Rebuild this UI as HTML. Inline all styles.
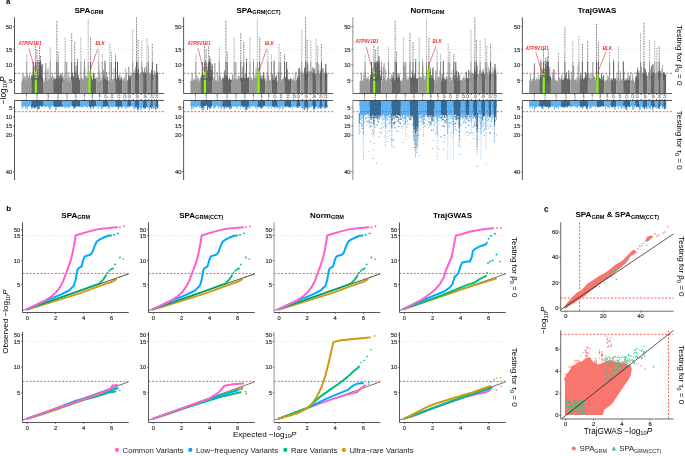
<!DOCTYPE html>
<html><head><meta charset="utf-8"><style>
html,body{margin:0;padding:0;background:#fff;}
svg{display:block;will-change:transform;font-family:"Liberation Sans",sans-serif;}
</style></head><body>
<svg width="685" height="456" viewBox="0 0 685 456">
<rect width="685" height="456" fill="#fff"/>
<text x="6" y="4.1" font-size="7.8" text-anchor="start" font-weight="bold" fill="#000">a</text>
<text x="6.2" y="211.3" font-size="8" text-anchor="start" font-weight="bold" fill="#000">b</text>
<text x="543.9" y="211.6" font-size="8.2" text-anchor="start" font-weight="bold" fill="#000">c</text>
<polygon points="21.3,93.3 21.3,82.14 21.93,80.98 22.55,79.8 23.18,80.04 23.8,79.94 24.43,81.06 25.05,79.69 25.68,80.69 26.3,82.38 26.93,80.98 27.55,82.5 28.18,79.19 28.8,79.14 29.43,81.43 30.05,81.53 30.68,79.81 31.3,81.92 31.3,93.3" fill="#999999"/>
<polygon points="21.3,100.3 21.3,106.29 21.93,106.11 22.55,106.16 23.18,105.92 23.8,105.91 24.43,105.99 25.05,105.59 25.68,106.07 26.3,106.24 26.93,105.6 27.55,106.14 28.18,106.1 28.8,105.56 29.43,105.5 30.05,106 30.68,105.65 31.3,105.74 31.3,100.3" fill="#5cb2f5"/>
<polygon points="31.3,93.3 31.3,76.14 31.92,78.41 32.53,78.86 33.15,78.86 33.76,78.74 34.38,76.37 34.99,76.16 35.61,77.79 36.23,79.01 36.84,79.84 37.46,79.58 38.07,78.76 38.69,77.47 39.31,77.53 39.92,76.68 40.54,76.8 41.15,78.56 41.77,77.35 42.38,78.21 43,77.15 43,93.3" fill="#666666"/>
<polygon points="31.3,100.3 31.3,106.13 31.92,105.8 32.53,106.27 33.15,105.55 33.76,106.22 34.38,106.22 34.99,105.56 35.61,106.29 36.23,106.17 36.84,106.29 37.46,105.71 38.07,106.13 38.69,106.17 39.31,105.77 39.92,105.49 40.54,105.47 41.15,105.92 41.77,105.96 42.38,105.57 43,106.03 43,100.3" fill="#326a98"/>
<polygon points="43,93.3 43,79.13 43.6,81.71 44.2,82.58 44.8,81.69 45.4,79.48 46,82.02 46.6,80.21 47.2,82.34 47.8,81.36 48.4,82.05 49,80.38 49.6,81.3 50.2,79.79 50.8,80.74 51.4,81.17 52,82.6 52.6,79.54 53.2,82.54 53.2,93.3" fill="#999999"/>
<polygon points="43,100.3 43,105.94 43.6,106.14 44.2,106.09 44.8,105.54 45.4,106.18 46,106.03 46.6,106.34 47.2,105.89 47.8,105.71 48.4,106.16 49,105.96 49.6,106.25 50.2,105.49 50.8,106.08 51.4,106.29 52,105.62 52.6,105.54 53.2,105.9 53.2,100.3" fill="#5cb2f5"/>
<polygon points="53.2,93.3 53.2,81 53.82,79.3 54.44,78.52 55.06,81.32 55.68,78.64 56.3,81.36 56.92,79.83 57.54,80.01 58.16,81.36 58.78,81.16 59.4,78.93 60.02,80.44 60.64,79.49 61.26,80.83 61.88,79.13 62.5,77.94 62.5,93.3" fill="#666666"/>
<polygon points="53.2,100.3 53.2,106.2 53.82,106.23 54.44,106.14 55.06,105.98 55.68,105.93 56.3,106.31 56.92,105.72 57.54,106.04 58.16,106.31 58.78,105.7 59.4,105.6 60.02,105.74 60.64,105.86 61.26,105.92 61.88,105.67 62.5,105.68 62.5,100.3" fill="#326a98"/>
<polygon points="62.5,93.3 62.5,80.97 63.1,80.52 63.7,80.63 64.3,80.56 64.9,82.51 65.5,79.76 66.1,79.28 66.7,82.42 67.3,79.9 67.9,80.55 68.5,79.91 69.1,82.62 69.7,82.55 70.3,80.64 70.9,80.61 71.5,82.29 71.5,93.3" fill="#999999"/>
<polygon points="62.5,100.3 62.5,105.98 63.1,105.74 63.7,105.52 64.3,106.03 64.9,105.51 65.5,105.76 66.1,106.37 66.7,106.21 67.3,106.1 67.9,105.99 68.5,106.02 69.1,106.14 69.7,106.26 70.3,105.54 70.9,106.27 71.5,106.35 71.5,100.3" fill="#5cb2f5"/>
<polygon points="71.5,93.3 71.5,80.69 72.11,77.51 72.71,80.99 73.32,78.03 73.93,80.53 74.54,79.52 75.14,79.46 75.75,79.53 76.36,78.92 76.96,78.59 77.57,78.59 78.18,80.88 78.79,79.74 79.39,80.41 80,77.5 80,93.3" fill="#666666"/>
<polygon points="71.5,100.3 71.5,106.21 72.11,106.29 72.71,106.19 73.32,105.46 73.93,106.04 74.54,105.54 75.14,106.27 75.75,106.21 76.36,106.01 76.96,105.85 77.57,106.08 78.18,105.73 78.79,106.08 79.39,106.33 80,105.49 80,100.3" fill="#326a98"/>
<polygon points="80,93.3 80,78.87 80.61,80.41 81.23,77.82 81.84,79.91 82.46,80 83.07,79.93 83.69,79.42 84.3,79.44 84.91,79.61 85.53,79.57 86.14,80.4 86.76,80.88 87.37,77.88 87.99,78 88.6,78.34 88.6,93.3" fill="#999999"/>
<polygon points="80,100.3 80,105.88 80.61,106.2 81.23,105.72 81.84,105.7 82.46,105.5 83.07,106.34 83.69,106.19 84.3,105.94 84.91,105.52 85.53,106.32 86.14,106.01 86.76,106.1 87.37,106.06 87.99,105.96 88.6,105.83 88.6,100.3" fill="#5cb2f5"/>
<polygon points="88.6,93.3 88.6,77.53 89.24,78.06 89.88,78.88 90.52,78.05 91.17,79.36 91.81,80.6 92.45,79.06 93.09,80.38 93.73,79.97 94.38,80.8 95.02,79.16 95.66,78.23 96.3,77.38 96.3,93.3" fill="#666666"/>
<polygon points="88.6,100.3 88.6,106.06 89.24,105.83 89.88,105.48 90.52,105.73 91.17,105.69 91.81,106.37 92.45,105.5 93.09,106.16 93.73,105.58 94.38,105.76 95.02,106.1 95.66,105.97 96.3,105.48 96.3,100.3" fill="#326a98"/>
<polygon points="96.3,93.3 96.3,79.51 96.94,82.57 97.58,79.17 98.22,82.5 98.86,81.45 99.5,81.84 100.14,81.64 100.78,79.38 101.42,81.89 102.06,80.5 102.7,80.43 102.7,93.3" fill="#999999"/>
<polygon points="96.3,100.3 96.3,106.31 96.94,105.98 97.58,105.84 98.22,106.26 98.86,106.08 99.5,105.51 100.14,105.7 100.78,106.01 101.42,105.66 102.06,106.36 102.7,105.5 102.7,100.3" fill="#5cb2f5"/>
<polygon points="102.7,93.3 102.7,79.41 103.36,78.94 104.01,80.14 104.67,79.88 105.32,80.09 105.98,79.67 106.63,80.54 107.29,79.14 107.94,81.98 108.6,80.26 108.6,93.3" fill="#666666"/>
<polygon points="102.7,100.3 102.7,106.36 103.36,105.86 104.01,105.87 104.67,106.36 105.32,106.18 105.98,106.07 106.63,106.08 107.29,106.25 107.94,105.74 108.6,105.77 108.6,100.3" fill="#326a98"/>
<polygon points="108.6,93.3 108.6,79.94 109.21,80.66 109.82,79.88 110.43,79.8 111.04,82.47 111.65,82.26 112.25,81.85 112.86,81.88 113.47,82.26 114.08,81.59 114.69,81.05 115.3,81.05 115.3,93.3" fill="#999999"/>
<polygon points="108.6,100.3 108.6,106.04 109.21,105.74 109.82,106.3 110.43,105.51 111.04,106 111.65,105.7 112.25,106.32 112.86,105.62 113.47,106.12 114.08,105.46 114.69,105.68 115.3,105.79 115.3,100.3" fill="#5cb2f5"/>
<polygon points="115.3,93.3 115.3,79.33 115.95,79.43 116.59,80.27 117.24,82.17 117.88,80.71 118.53,80.79 119.17,81.05 119.82,79.16 120.46,80.69 121.11,79.44 121.75,79.35 122.4,79.74 122.4,93.3" fill="#666666"/>
<polygon points="115.3,100.3 115.3,105.64 115.95,106.22 116.59,105.81 117.24,106.12 117.88,106.32 118.53,105.54 119.17,105.65 119.82,105.63 120.46,105.64 121.11,106.14 121.75,105.72 122.4,105.95 122.4,100.3" fill="#326a98"/>
<polygon points="122.4,93.3 122.4,81.46 123.01,79.32 123.62,79.23 124.24,81.94 124.85,80.64 125.46,81.4 126.08,79.99 126.69,80.88 127.3,80.25 127.3,93.3" fill="#999999"/>
<polygon points="122.4,100.3 122.4,106.11 123.01,105.75 123.62,105.63 124.24,106.08 124.85,105.49 125.46,105.48 126.08,106.37 126.69,105.95 127.3,105.81 127.3,100.3" fill="#5cb2f5"/>
<polygon points="127.3,93.3 127.3,79.86 127.95,80.77 128.6,78.21 129.25,77.83 129.9,79.6 130.55,77.43 131.2,77.39 131.2,93.3" fill="#666666"/>
<polygon points="127.3,100.3 127.3,105.9 127.95,105.71 128.6,105.59 129.25,106.15 129.9,105.8 130.55,105.84 131.2,105.64 131.2,100.3" fill="#326a98"/>
<polygon points="131.2,93.3 131.2,76.09 131.83,75.93 132.47,74.49 133.1,73.24 133.73,76.13 134.37,73.19 135,75.19 135,93.3" fill="#999999"/>
<polygon points="131.2,100.3 131.2,105.78 131.83,105.88 132.47,105.62 133.1,106.05 133.73,105.97 134.37,105.94 135,106.13 135,100.3" fill="#5cb2f5"/>
<polygon points="135,93.3 135,73.97 135.7,73.08 136.4,73.37 137.1,73 137.8,73.65 138.5,72.25 139.2,73.32 139.2,93.3" fill="#666666"/>
<polygon points="135,100.3 135,105.94 135.7,106.18 136.4,105.55 137.1,105.87 137.8,105.93 138.5,105.75 139.2,105.98 139.2,100.3" fill="#326a98"/>
<polygon points="139.2,93.3 139.2,73.5 139.85,75.33 140.5,73.22 141.15,73.69 141.8,74.76 142.45,73.54 143.1,75.07 143.1,93.3" fill="#999999"/>
<polygon points="139.2,100.3 139.2,105.74 139.85,106.22 140.5,106.09 141.15,105.58 141.8,105.83 142.45,105.52 143.1,105.77 143.1,100.3" fill="#5cb2f5"/>
<polygon points="143.1,93.3 143.1,72.47 143.73,72.77 144.37,72.98 145,74.03 145.63,75.24 146.27,72.2 146.9,75.54 146.9,93.3" fill="#666666"/>
<polygon points="143.1,100.3 143.1,106.21 143.73,105.74 144.37,105.65 145,106.3 145.63,105.58 146.27,105.83 146.9,105.87 146.9,100.3" fill="#326a98"/>
<polygon points="146.9,93.3 146.9,72.88 147.6,75.58 148.3,73.28 149,74.16 149.7,75.12 150.4,75.07 150.4,93.3" fill="#999999"/>
<polygon points="146.9,100.3 146.9,106.06 147.6,106.16 148.3,105.75 149,105.65 149.7,106.22 150.4,105.68 150.4,100.3" fill="#5cb2f5"/>
<polygon points="150.4,93.3 150.4,73.74 151.03,73.09 151.65,72.85 152.28,75.69 152.9,75.4 152.9,93.3" fill="#666666"/>
<polygon points="150.4,100.3 150.4,106.27 151.03,105.98 151.65,105.54 152.28,105.96 152.9,106.09 152.9,100.3" fill="#326a98"/>
<polygon points="152.9,93.3 152.9,76.33 153.5,74.52 154.1,74.98 154.7,73.3 155.3,76.07 155.3,93.3" fill="#999999"/>
<polygon points="152.9,100.3 152.9,106.03 153.5,106.31 154.1,106.03 154.7,106.33 155.3,105.9 155.3,100.3" fill="#5cb2f5"/>
<polygon points="155.3,93.3 155.3,72.94 156.03,75.19 156.75,75.43 157.47,74.8 158.2,76.42 158.2,93.3" fill="#666666"/>
<polygon points="155.3,100.3 155.3,106.2 156.03,105.67 156.75,106.17 157.47,105.56 158.2,105.6 158.2,100.3" fill="#326a98"/>
<path d="M23.3 80.8V83.0M24.9 78.5V83.0M30.6 80.7V83.0M30.5 79.0V83.0M30.0 76.4V83.0M23.2 78.3V83.0M22.8 81.4V83.0M25.3 77.0V83.0M26.9 80.8V83.0M29.4 74.2V83.0M23.9 79.7V83.0M27.6 74.5V83.0M22.9 79.0V83.0M30.6 78.7V83.0M28.3 77.0V83.0M26.4 80.4V83.0M27.1 79.2V83.0M24.9 75.7V83.0M25.0 79.5V83.0M28.7 76.5V83.0M29.9 78.3V83.0M24.0 75.9V83.0M48.1 68.4V83.0M50.8 80.1V83.0M52.1 80.6V83.0M48.9 78.9V83.0M50.2 80.4V83.0M47.1 80.3V83.0M52.0 77.5V83.0M46.6 77.0V83.0M49.2 80.6V83.0M48.1 81.1V83.0M45.4 81.2V83.0M44.2 78.6V83.0M51.2 76.1V83.0M45.5 72.7V83.0M46.5 78.0V83.0M49.0 79.5V83.0M49.9 74.9V83.0M49.9 79.3V83.0M51.5 77.4V83.0M46.9 70.0V83.0M47.2 81.3V83.0M52.5 73.0V83.0M69.3 81.1V83.0M70.2 76.7V83.0M68.8 75.7V83.0M65.3 78.6V83.0M63.1 77.3V83.0M64.4 81.3V83.0M69.1 81.2V83.0M68.2 71.9V83.0M67.3 79.1V83.0M69.1 77.4V83.0M67.0 81.3V83.0M71.0 77.6V83.0M66.8 78.2V83.0M65.0 80.7V83.0M63.2 79.9V83.0M67.5 81.1V83.0M64.4 80.0V83.0M62.9 76.5V83.0M64.2 74.4V83.0M84.2 70.1V81.4M81.4 79.7V81.4M87.6 77.6V81.4M84.6 77.7V81.4M86.0 76.7V81.4M86.2 77.7V81.4M86.5 76.6V81.4M86.9 75.5V81.4M81.4 78.1V81.4M85.6 76.2V81.4M83.9 77.2V81.4M87.3 79.1V81.4M82.5 78.8V81.4M81.6 77.2V81.4M85.0 67.1V81.4M84.5 79.1V81.4M81.2 77.2V81.4M81.5 79.5V81.4M97.0 77.1V83.0M102.1 79.3V83.0M97.8 80.4V83.0M99.9 71.6V83.0M100.9 80.4V83.0M97.5 77.5V83.0M99.5 80.3V83.0M101.3 80.3V83.0M101.0 77.1V83.0M101.1 80.6V83.0M99.5 74.9V83.0M98.3 81.2V83.0M97.0 78.5V83.0M99.4 77.7V83.0M110.0 79.0V83.0M112.7 80.5V83.0M114.8 78.2V83.0M114.6 79.5V83.0M113.5 78.4V83.0M114.3 80.3V83.0M111.4 74.0V83.0M110.5 79.8V83.0M110.5 81.3V83.0M114.6 81.4V83.0M112.3 79.1V83.0M114.1 68.3V83.0M113.2 79.4V83.0M114.3 80.8V83.0M125.7 68.2V83.0M124.2 81.4V83.0M124.0 81.4V83.0M123.1 81.3V83.0M123.8 78.8V83.0M123.3 79.8V83.0M126.0 79.0V83.0M124.3 77.6V83.0M126.5 74.1V83.0M124.5 77.4V83.0M134.2 74.1V76.8M132.1 74.5V76.8M134.3 70.1V76.8M131.8 73.3V76.8M133.6 73.1V76.8M133.3 72.3V76.8M132.0 74.9V76.8M131.7 75.1V76.8M142.3 70.1V76.8M141.6 72.6V76.8M141.1 72.1V76.8M141.2 73.7V76.8M140.3 72.8V76.8M141.3 73.4V76.8M139.6 75.1V76.8M142.4 66.9V76.8M148.9 73.7V76.8M150.0 72.3V76.8M147.4 74.7V76.8M149.7 75.0V76.8M147.6 73.6V76.8M149.8 73.9V76.8M148.3 70.7V76.8M153.5 74.4V76.8M154.1 73.7V76.8M154.2 70.9V76.8M154.7 72.4V76.8M154.5 70.4V76.8" stroke="#999999" stroke-width="0.8" fill="none"/>
<path d="M27.4 104.9V107.0M28.6 104.9V106.7M24.7 104.9V105.8M22.7 104.9V106.1M26.5 104.9V107.2M23.6 104.9V106.4M30.4 104.9V106.4M28.3 104.9V106.9M27.8 104.9V106.5M26.7 104.9V107.1M23.1 104.9V107.6M29.8 104.9V105.9M23.5 104.9V106.1M22.5 104.9V106.0M27.6 104.9V106.0M22.2 104.9V109.0M25.4 104.9V106.7M26.1 104.9V106.3M25.9 104.9V106.1M27.0 104.9V106.1M23.0 104.9V106.1M25.5 104.9V108.7M27.2 104.9V110.2M25.4 104.9V106.2M28.3 104.9V106.1M49.6 104.9V106.9M48.4 104.9V106.3M50.1 104.9V110.4M48.2 104.9V106.4M52.6 104.9V106.0M48.7 104.9V107.8M50.9 104.9V107.3M49.8 104.9V106.5M52.6 104.9V105.8M47.4 104.9V106.5M50.2 104.9V106.2M45.2 104.9V106.5M49.4 104.9V106.6M51.7 104.9V106.5M45.3 104.9V106.9M47.0 104.9V105.8M47.2 104.9V105.9M49.4 104.9V108.4M50.3 104.9V109.3M44.7 104.9V107.8M50.6 104.9V106.1M47.8 104.9V106.0M46.3 104.9V106.6M47.0 104.9V106.4M50.1 104.9V107.1M67.7 104.9V106.3M63.2 104.9V106.3M63.1 104.9V107.1M67.8 104.9V107.3M70.1 104.9V106.2M69.1 104.9V107.3M67.5 104.9V105.9M70.1 104.9V106.7M66.7 104.9V107.9M63.8 104.9V105.9M68.4 104.9V107.2M67.2 104.9V106.7M69.3 104.9V107.7M68.2 104.9V107.3M67.1 104.9V106.0M69.5 104.9V105.9M64.2 104.9V106.7M65.9 104.9V108.2M65.3 104.9V106.6M64.4 104.9V107.9M65.8 104.9V107.2M69.0 104.9V106.5M86.4 104.9V105.9M82.5 104.9V106.7M84.0 104.9V106.6M84.8 104.9V105.9M81.7 104.9V105.8M85.6 104.9V106.9M80.5 104.9V106.1M82.9 104.9V107.6M86.3 104.9V106.0M84.0 104.9V106.8M86.6 104.9V106.0M81.9 104.9V107.4M85.9 104.9V106.2M82.3 104.9V106.5M80.6 104.9V106.9M86.6 104.9V106.1M87.3 104.9V107.9M80.7 104.9V107.4M86.5 104.9V106.8M82.1 104.9V106.5M87.9 104.9V106.8M101.8 104.9V108.8M98.8 104.9V106.3M99.9 104.9V106.1M102.4 104.9V107.0M99.6 104.9V106.2M100.0 104.9V106.8M100.8 104.9V107.2M100.8 104.9V105.9M99.4 104.9V106.4M101.2 104.9V106.1M98.4 104.9V106.2M98.4 104.9V108.9M101.7 104.9V110.0M98.6 104.9V106.5M96.9 104.9V106.9M99.2 104.9V106.3M112.8 104.9V107.5M111.7 104.9V106.0M110.9 104.9V106.0M114.1 104.9V106.4M111.7 104.9V107.2M112.8 104.9V106.6M111.4 104.9V106.8M109.1 104.9V107.2M110.6 104.9V106.2M109.3 104.9V109.5M111.6 104.9V105.9M114.9 104.9V107.6M113.9 104.9V106.0M110.2 104.9V107.3M112.3 104.9V107.3M113.2 104.9V107.0M124.8 104.9V106.1M123.4 104.9V106.4M125.9 104.9V108.0M122.9 104.9V106.3M126.0 104.9V106.6M126.5 104.9V106.4M125.6 104.9V108.0M124.9 104.9V106.0M122.9 104.9V106.0M125.2 104.9V109.1M123.5 104.9V106.4M122.9 104.9V106.2M134.7 104.9V106.9M134.5 104.9V107.1M133.6 104.9V107.3M134.5 104.9V109.7M132.0 104.9V106.8M133.2 104.9V107.3M133.8 104.9V108.0M134.1 104.9V108.1M133.6 104.9V106.8M141.5 104.9V108.2M142.3 104.9V107.8M142.7 104.9V107.3M141.4 104.9V108.8M140.4 104.9V110.4M139.9 104.9V107.9M141.2 104.9V108.5M140.9 104.9V107.2M141.2 104.9V106.8M149.3 104.9V108.6M148.1 104.9V107.6M147.9 104.9V107.8M147.4 104.9V107.2M148.9 104.9V108.0M148.9 104.9V107.7M148.9 104.9V106.8M149.5 104.9V110.4M153.6 104.9V108.9M153.9 104.9V107.3M154.2 104.9V107.9M154.1 104.9V108.2M154.0 104.9V108.7M153.6 104.9V107.0" stroke="#5cb2f5" stroke-width="0.8" fill="none"/>
<path d="M33.7 67.5V80.2M31.9 75.8V80.2M35.5 73.8V80.2M33.3 72.1V80.2M31.7 74.7V80.2M39.4 76.5V80.2M33.6 77.2V80.2M36.6 77.9V80.2M33.5 73.2V80.2M37.7 77.7V80.2M38.5 75.7V80.2M33.2 76.0V80.2M38.1 78.3V80.2M35.0 72.7V80.2M38.0 77.9V80.2M36.0 76.8V80.2M39.4 72.8V80.2M32.7 78.5V80.2M36.5 78.6V80.2M33.4 78.3V80.2M32.7 75.7V80.2M32.7 76.1V80.2M42.2 78.2V80.2M40.0 76.0V80.2M33.6 69.8V80.2M60.0 78.8V81.7M61.7 78.9V81.7M56.0 78.6V81.7M62.0 78.7V81.7M56.1 77.9V81.7M59.0 76.0V81.7M59.6 76.9V81.7M57.1 78.5V81.7M61.9 78.2V81.7M60.1 78.9V81.7M53.7 78.7V81.7M58.0 78.7V81.7M55.4 79.7V81.7M54.0 76.6V81.7M58.1 75.2V81.7M60.9 76.0V81.7M60.4 73.3V81.7M61.4 75.1V81.7M61.2 78.9V81.7M62.1 73.6V81.7M76.1 66.3V81.4M73.5 76.4V81.4M75.9 78.7V81.4M73.4 77.1V81.4M78.7 77.9V81.4M75.9 71.3V81.4M73.9 78.6V81.4M78.7 79.6V81.4M72.2 76.7V81.4M75.6 72.8V81.4M76.3 78.9V81.4M77.0 78.1V81.4M76.7 79.2V81.4M72.4 72.7V81.4M78.4 79.4V81.4M72.7 74.7V81.4M77.4 78.1V81.4M78.4 74.8V81.4M94.2 76.1V81.4M94.3 79.1V81.4M93.2 72.7V81.4M93.5 78.4V81.4M94.0 73.5V81.4M91.9 79.1V81.4M91.4 76.0V81.4M90.4 79.2V81.4M95.6 79.7V81.4M89.7 75.0V81.4M93.6 73.6V81.4M95.4 79.3V81.4M94.1 78.9V81.4M93.6 79.7V81.4M94.3 79.2V81.4M93.5 78.1V81.4M105.6 80.3V83.0M106.6 81.3V83.0M107.7 76.7V83.0M103.9 75.0V83.0M104.9 77.6V83.0M103.3 76.5V83.0M106.9 79.9V83.0M105.0 79.4V83.0M103.7 69.7V83.0M105.7 78.6V83.0M106.0 80.9V83.0M106.7 72.0V83.0M116.2 78.6V83.0M117.9 77.5V83.0M116.4 81.4V83.0M120.1 78.3V83.0M119.8 81.1V83.0M119.8 74.8V83.0M121.1 79.1V83.0M117.9 74.9V83.0M121.6 76.8V83.0M118.6 81.1V83.0M118.3 77.3V83.0M117.1 80.1V83.0M117.8 76.9V83.0M117.7 79.0V83.0M117.4 72.8V83.0M130.3 76.7V81.1M128.6 75.0V81.1M128.8 66.8V81.1M130.5 78.6V81.1M130.4 79.3V81.1M128.6 78.2V81.1M130.5 75.8V81.1M129.8 75.5V81.1M138.6 68.6V76.1M135.7 67.1V76.1M135.9 71.5V76.1M138.4 73.6V76.1M137.6 72.2V76.1M138.2 69.9V76.1M136.1 74.1V76.1M138.1 74.2V76.1M138.4 74.6V76.1M146.0 71.6V76.1M144.6 67.6V76.1M145.4 74.5V76.1M146.3 66.1V76.1M145.5 73.8V76.1M144.3 73.4V76.1M144.1 73.0V76.1M143.8 71.7V76.1M152.3 75.2V76.8M151.5 74.3V76.8M151.5 73.9V76.8M151.5 69.8V76.8M152.0 71.4V76.8M156.1 74.3V76.8M157.7 73.1V76.8M156.8 75.0V76.8M156.7 72.6V76.8M156.9 74.9V76.8M157.5 71.8V76.8" stroke="#666666" stroke-width="0.8" fill="none"/>
<path d="M32.2 104.9V106.5M37.3 104.9V106.1M32.1 104.9V108.4M41.1 104.9V106.8M31.9 104.9V106.6M42.3 104.9V107.4M39.2 104.9V105.9M38.0 104.9V106.1M42.6 104.9V105.8M34.1 104.9V108.1M32.9 104.9V106.2M35.0 104.9V108.2M39.3 104.9V108.8M33.7 104.9V105.9M35.4 104.9V107.4M38.5 104.9V108.8M39.5 104.9V105.9M35.1 104.9V106.1M34.6 104.9V107.0M36.5 104.9V107.4M31.8 104.9V108.4M33.4 104.9V107.3M41.0 104.9V105.9M37.6 104.9V109.9M31.7 104.9V106.6M36.3 104.9V106.3M33.8 104.9V106.0M34.6 104.9V106.1M34.9 104.9V108.4M54.8 104.9V106.5M54.7 104.9V106.3M55.0 104.9V106.9M58.9 104.9V106.1M62.2 104.9V106.2M61.4 104.9V106.2M58.4 104.9V106.8M58.5 104.9V106.3M60.4 104.9V106.9M58.4 104.9V106.5M56.0 104.9V106.4M59.9 104.9V107.2M62.2 104.9V107.2M62.1 104.9V106.3M55.9 104.9V110.4M57.2 104.9V106.8M61.1 104.9V106.0M54.5 104.9V106.5M55.2 104.9V105.9M59.7 104.9V106.7M57.5 104.9V106.9M56.2 104.9V106.4M56.4 104.9V107.0M74.9 104.9V107.6M73.2 104.9V106.3M78.3 104.9V106.8M73.9 104.9V106.4M74.7 104.9V106.6M79.6 104.9V106.1M74.4 104.9V108.2M75.7 104.9V107.0M78.7 104.9V105.9M73.2 104.9V106.0M73.2 104.9V105.9M73.7 104.9V108.5M78.9 104.9V107.1M75.9 104.9V107.3M79.4 104.9V106.2M77.6 104.9V106.0M74.8 104.9V106.6M76.8 104.9V106.1M75.0 104.9V106.0M74.7 104.9V107.6M73.7 104.9V106.3M90.9 104.9V106.2M93.5 104.9V106.6M92.1 104.9V105.8M92.0 104.9V106.5M89.9 104.9V106.7M89.9 104.9V106.3M89.8 104.9V106.3M89.5 104.9V106.7M93.2 104.9V108.9M91.1 104.9V106.0M91.8 104.9V107.3M90.6 104.9V109.2M90.7 104.9V106.9M89.7 104.9V106.8M94.4 104.9V106.6M90.9 104.9V106.7M95.9 104.9V106.2M94.2 104.9V106.7M95.9 104.9V106.2M104.8 104.9V106.1M106.2 104.9V105.8M106.3 104.9V106.2M105.2 104.9V106.0M107.4 104.9V106.1M103.2 104.9V107.6M103.2 104.9V106.2M108.3 104.9V106.0M105.8 104.9V107.2M106.0 104.9V106.6M107.0 104.9V105.9M104.7 104.9V106.0M108.2 104.9V108.3M104.1 104.9V106.7M116.4 104.9V106.6M117.5 104.9V107.2M118.0 104.9V105.9M118.7 104.9V106.1M115.7 104.9V106.5M119.6 104.9V107.4M120.3 104.9V105.9M118.2 104.9V106.3M121.1 104.9V107.0M117.1 104.9V106.7M120.9 104.9V107.1M119.7 104.9V106.7M122.0 104.9V108.2M118.4 104.9V109.5M121.1 104.9V106.4M118.5 104.9V105.9M120.9 104.9V105.9M130.8 104.9V106.1M127.7 104.9V106.3M128.4 104.9V106.2M127.8 104.9V107.8M129.1 104.9V107.4M129.7 104.9V105.9M130.3 104.9V106.2M130.2 104.9V106.4M128.6 104.9V105.9M136.0 104.9V106.8M136.0 104.9V108.3M138.4 104.9V107.1M135.5 104.9V107.2M137.6 104.9V110.4M136.6 104.9V107.4M138.1 104.9V106.9M138.6 104.9V109.7M138.4 104.9V107.3M138.0 104.9V107.9M143.6 104.9V108.1M145.4 104.9V108.4M144.3 104.9V108.9M145.5 104.9V108.2M145.0 104.9V107.9M144.9 104.9V107.2M146.6 104.9V107.1M144.3 104.9V106.9M143.6 104.9V107.1M150.7 104.9V107.1M152.3 104.9V107.6M151.1 104.9V107.2M151.7 104.9V109.1M150.8 104.9V107.5M151.1 104.9V106.9M156.8 104.9V106.7M157.4 104.9V107.0M157.2 104.9V107.9M157.8 104.9V107.1M157.9 104.9V107.6M155.7 104.9V110.0M157.0 104.9V109.3" stroke="#326a98" stroke-width="0.8" fill="none"/>
<path d="M26.8 61.8V80.5M23.0 73.0V80.5M45.8 63.0V80.5M50.2 61.8V80.5M65.1 61.8V80.5M66.8 62.0V80.5M80.9 61.8V80.5M84.4 61.8V80.5M88.2 61.8V80.5M98.8 61.8V80.5M102.3 61.8V80.5M109.9 61.8V80.5M111.5 61.8V80.5M132.7 61.8V80.5M141.8 61.8V80.5M147.0 61.8V80.5M148.5 61.8V80.5" stroke="#8c8c8c" stroke-width="1.0" fill="none"/>
<path d="M26.8 54.5V61.8M50.2 47.5V61.8M65.1 37.8V61.8M80.9 37.8V61.8M84.4 59.0V61.8M88.2 19.4V61.8M98.8 49.2V61.8M102.3 54.4V61.8M109.9 43.9V61.8M111.5 52.0V61.8M132.7 29.9V61.8M141.8 40.4V61.8M147.0 38.7V61.8M148.5 46.0V61.8" stroke="#8f8f8f" stroke-width="0.95" fill="none" stroke-dasharray="1 0.7 0.7 0.9"/>
<path d="M33.2 62.0V80.5M35.6 61.8V80.5M37.0 61.8V80.5M39.6 61.8V80.5M40.5 61.8V80.5M56.8 61.8V80.5M58.1 61.8V80.5M71.7 61.8V80.5M74.7 61.8V80.5M77.4 61.8V80.5M90.6 61.8V80.5M105.0 61.8V80.5M115.5 61.8V80.5M117.5 62.0V80.5M136.5 61.8V80.5M138.0 61.8V80.5M152.3 61.8V80.5M156.7 64.0V80.5" stroke="#555555" stroke-width="1.0" fill="none"/>
<path d="M35.6 45.7V61.8M37.0 50.0V61.8M39.6 46.6V61.8M40.5 56.0V61.8M56.8 21.1V61.8M58.1 52.0V61.8M71.7 33.4V61.8M74.7 42.2V61.8M77.4 59.0V61.8M90.6 37.8V61.8M105.0 60.6V61.8M115.5 54.4V61.8M136.5 17.6V61.8M138.0 40.0V61.8M152.3 43.9V61.8" stroke="#5a5a5a" stroke-width="0.95" fill="none" stroke-dasharray="1 0.7 0.7 0.9"/>
<path d="M40.4 67.2V80.5M39.7 69.8V80.5M41.9 64.7V80.5M40.6 60.4V80.5M37.7 70.1V80.5M38.3 60.1V80.5M38.1 61.7V80.5M41.8 65.5V80.5M40.9 69.9V80.5M40.2 65.7V80.5M39.8 63.2V80.5M42.5 63.7V80.5M41.6 70.2V80.5M41.3 65.7V80.5" stroke="#5a5a5a" stroke-width="0.8" fill="none" stroke-dasharray="1.2 0.4 0.8 0.5"/>
<rect x="34.8" y="71.6" width="2.1" height="3.6" fill="#7fff00"/>
<rect x="34.8" y="76.8" width="2.1" height="1.4" fill="#7fff00"/>
<rect x="34.8" y="79.6" width="2.1" height="13.9" fill="#7fff00"/>
<rect x="88.6" y="71" width="2" height="22.5" fill="#7fff00"/>
<line x1="14.5" y1="49.3" x2="164.1" y2="49.3" stroke="#dddddd" stroke-width="0.6" stroke-dasharray="1.6 1.6"/>
<line x1="14.5" y1="73.32" x2="164.1" y2="73.32" stroke="#f03030" stroke-width="0.8" stroke-dasharray="2 1.6"/>
<line x1="14.5" y1="111.68" x2="164.1" y2="111.68" stroke="#f03030" stroke-width="0.8" stroke-dasharray="2 1.6"/>
<line x1="14.5" y1="17.3" x2="14.5" y2="93.5" stroke="#444444" stroke-width="0.9"/>
<line x1="14.5" y1="93.5" x2="164.1" y2="93.5" stroke="#444444" stroke-width="0.9"/>
<line x1="14.5" y1="100.5" x2="14.5" y2="180" stroke="#444444" stroke-width="0.9"/>
<line x1="14.5" y1="100.5" x2="164.1" y2="100.5" stroke="#444444" stroke-width="0.9"/>
<line x1="13" y1="80.5" x2="14.5" y2="80.5" stroke="#333333" stroke-width="0.6"/>
<text x="12.3" y="82.7" font-size="5.8" text-anchor="end" font-weight="normal" fill="#333333" stroke="#333333" stroke-width="0.18">5</text>
<line x1="13" y1="64.9" x2="14.5" y2="64.9" stroke="#333333" stroke-width="0.6"/>
<text x="12.3" y="67.1" font-size="5.8" text-anchor="end" font-weight="normal" fill="#333333" stroke="#333333" stroke-width="0.18">10</text>
<line x1="13" y1="49.3" x2="14.5" y2="49.3" stroke="#333333" stroke-width="0.6"/>
<text x="12.3" y="51.5" font-size="5.8" text-anchor="end" font-weight="normal" fill="#333333" stroke="#333333" stroke-width="0.18">15</text>
<line x1="13" y1="26.51" x2="14.5" y2="26.51" stroke="#333333" stroke-width="0.6"/>
<text x="12.3" y="28.71" font-size="5.8" text-anchor="end" font-weight="normal" fill="#333333" stroke="#333333" stroke-width="0.18">50</text>
<line x1="13" y1="107.65" x2="14.5" y2="107.65" stroke="#333333" stroke-width="0.6"/>
<text x="12.3" y="109.85" font-size="5.8" text-anchor="end" font-weight="normal" fill="#333333" stroke="#333333" stroke-width="0.18">5</text>
<line x1="13" y1="116.8" x2="14.5" y2="116.8" stroke="#333333" stroke-width="0.6"/>
<text x="12.3" y="119" font-size="5.8" text-anchor="end" font-weight="normal" fill="#333333" stroke="#333333" stroke-width="0.18">10</text>
<line x1="13" y1="125.95" x2="14.5" y2="125.95" stroke="#333333" stroke-width="0.6"/>
<text x="12.3" y="128.15" font-size="5.8" text-anchor="end" font-weight="normal" fill="#333333" stroke="#333333" stroke-width="0.18">15</text>
<line x1="13" y1="135.1" x2="14.5" y2="135.1" stroke="#333333" stroke-width="0.6"/>
<text x="12.3" y="137.3" font-size="5.8" text-anchor="end" font-weight="normal" fill="#333333" stroke="#333333" stroke-width="0.18">20</text>
<line x1="13" y1="171.7" x2="14.5" y2="171.7" stroke="#333333" stroke-width="0.6"/>
<text x="12.3" y="173.9" font-size="5.8" text-anchor="end" font-weight="normal" fill="#333333" stroke="#333333" stroke-width="0.18">40</text>
<line x1="26.3" y1="93.5" x2="26.3" y2="95" stroke="#333" stroke-width="0.7"/>
<line x1="26.3" y1="99" x2="26.3" y2="100.5" stroke="#333" stroke-width="0.7"/>
<text x="26.3" y="97.9" font-size="3.1" text-anchor="middle" font-weight="normal" fill="#222">1</text>
<line x1="37.15" y1="93.5" x2="37.15" y2="95" stroke="#333" stroke-width="0.7"/>
<line x1="37.15" y1="99" x2="37.15" y2="100.5" stroke="#333" stroke-width="0.7"/>
<text x="37.15" y="97.9" font-size="3.1" text-anchor="middle" font-weight="normal" fill="#222">2</text>
<line x1="48.1" y1="93.5" x2="48.1" y2="95" stroke="#333" stroke-width="0.7"/>
<line x1="48.1" y1="99" x2="48.1" y2="100.5" stroke="#333" stroke-width="0.7"/>
<text x="48.1" y="97.9" font-size="3.1" text-anchor="middle" font-weight="normal" fill="#222">3</text>
<line x1="57.85" y1="93.5" x2="57.85" y2="95" stroke="#333" stroke-width="0.7"/>
<line x1="57.85" y1="99" x2="57.85" y2="100.5" stroke="#333" stroke-width="0.7"/>
<text x="57.85" y="97.9" font-size="3.1" text-anchor="middle" font-weight="normal" fill="#222">4</text>
<line x1="67" y1="93.5" x2="67" y2="95" stroke="#333" stroke-width="0.7"/>
<line x1="67" y1="99" x2="67" y2="100.5" stroke="#333" stroke-width="0.7"/>
<text x="67" y="97.9" font-size="3.1" text-anchor="middle" font-weight="normal" fill="#222">5</text>
<line x1="75.75" y1="93.5" x2="75.75" y2="95" stroke="#333" stroke-width="0.7"/>
<line x1="75.75" y1="99" x2="75.75" y2="100.5" stroke="#333" stroke-width="0.7"/>
<text x="75.75" y="97.9" font-size="3.1" text-anchor="middle" font-weight="normal" fill="#222">6</text>
<line x1="84.3" y1="93.5" x2="84.3" y2="95" stroke="#333" stroke-width="0.7"/>
<line x1="84.3" y1="99" x2="84.3" y2="100.5" stroke="#333" stroke-width="0.7"/>
<text x="84.3" y="97.9" font-size="3.1" text-anchor="middle" font-weight="normal" fill="#222">7</text>
<line x1="92.45" y1="93.5" x2="92.45" y2="95" stroke="#333" stroke-width="0.7"/>
<line x1="92.45" y1="99" x2="92.45" y2="100.5" stroke="#333" stroke-width="0.7"/>
<text x="92.45" y="97.9" font-size="3.1" text-anchor="middle" font-weight="normal" fill="#222">8</text>
<line x1="99.5" y1="93.5" x2="99.5" y2="95" stroke="#333" stroke-width="0.7"/>
<line x1="99.5" y1="99" x2="99.5" y2="100.5" stroke="#333" stroke-width="0.7"/>
<text x="99.5" y="97.9" font-size="3.1" text-anchor="middle" font-weight="normal" fill="#222">9</text>
<line x1="105.65" y1="93.5" x2="105.65" y2="95" stroke="#333" stroke-width="0.7"/>
<line x1="105.65" y1="99" x2="105.65" y2="100.5" stroke="#333" stroke-width="0.7"/>
<text x="105.65" y="97.9" font-size="3.1" text-anchor="middle" font-weight="normal" fill="#222">10</text>
<line x1="111.95" y1="93.5" x2="111.95" y2="95" stroke="#333" stroke-width="0.7"/>
<line x1="111.95" y1="99" x2="111.95" y2="100.5" stroke="#333" stroke-width="0.7"/>
<text x="111.95" y="97.9" font-size="3.1" text-anchor="middle" font-weight="normal" fill="#222">11</text>
<line x1="118.85" y1="93.5" x2="118.85" y2="95" stroke="#333" stroke-width="0.7"/>
<line x1="118.85" y1="99" x2="118.85" y2="100.5" stroke="#333" stroke-width="0.7"/>
<text x="118.85" y="97.9" font-size="3.1" text-anchor="middle" font-weight="normal" fill="#222">12</text>
<line x1="124.85" y1="93.5" x2="124.85" y2="95" stroke="#333" stroke-width="0.7"/>
<line x1="124.85" y1="99" x2="124.85" y2="100.5" stroke="#333" stroke-width="0.7"/>
<text x="124.85" y="97.9" font-size="3.1" text-anchor="middle" font-weight="normal" fill="#222">13</text>
<line x1="129.25" y1="93.5" x2="129.25" y2="95" stroke="#333" stroke-width="0.7"/>
<line x1="129.25" y1="99" x2="129.25" y2="100.5" stroke="#333" stroke-width="0.7"/>
<text x="129.25" y="97.9" font-size="3.1" text-anchor="middle" font-weight="normal" fill="#222">14</text>
<line x1="133.1" y1="93.5" x2="133.1" y2="95" stroke="#333" stroke-width="0.7"/>
<line x1="133.1" y1="99" x2="133.1" y2="100.5" stroke="#333" stroke-width="0.7"/>
<line x1="137.1" y1="93.5" x2="137.1" y2="95" stroke="#333" stroke-width="0.7"/>
<line x1="137.1" y1="99" x2="137.1" y2="100.5" stroke="#333" stroke-width="0.7"/>
<text x="137.1" y="97.9" font-size="3.1" text-anchor="middle" font-weight="normal" fill="#222">16</text>
<line x1="141.15" y1="93.5" x2="141.15" y2="95" stroke="#333" stroke-width="0.7"/>
<line x1="141.15" y1="99" x2="141.15" y2="100.5" stroke="#333" stroke-width="0.7"/>
<line x1="145" y1="93.5" x2="145" y2="95" stroke="#333" stroke-width="0.7"/>
<line x1="145" y1="99" x2="145" y2="100.5" stroke="#333" stroke-width="0.7"/>
<text x="145" y="97.9" font-size="3.1" text-anchor="middle" font-weight="normal" fill="#222">18</text>
<line x1="148.65" y1="93.5" x2="148.65" y2="95" stroke="#333" stroke-width="0.7"/>
<line x1="148.65" y1="99" x2="148.65" y2="100.5" stroke="#333" stroke-width="0.7"/>
<line x1="151.65" y1="93.5" x2="151.65" y2="95" stroke="#333" stroke-width="0.7"/>
<line x1="151.65" y1="99" x2="151.65" y2="100.5" stroke="#333" stroke-width="0.7"/>
<text x="151.65" y="97.9" font-size="3.1" text-anchor="middle" font-weight="normal" fill="#222">20</text>
<line x1="154.1" y1="93.5" x2="154.1" y2="95" stroke="#333" stroke-width="0.7"/>
<line x1="154.1" y1="99" x2="154.1" y2="100.5" stroke="#333" stroke-width="0.7"/>
<line x1="156.75" y1="93.5" x2="156.75" y2="95" stroke="#333" stroke-width="0.7"/>
<line x1="156.75" y1="99" x2="156.75" y2="100.5" stroke="#333" stroke-width="0.7"/>
<text x="156.75" y="97.9" font-size="3.1" text-anchor="middle" font-weight="normal" fill="#222">22</text>
<text x="29.95" y="45" font-size="4.65" text-anchor="middle" font-weight="bold" fill="#f52a2a" font-style="italic">ATP6V1B1</text>
<line x1="28.8" y1="48.4" x2="35.4" y2="70.7" stroke="#d83030" stroke-width="0.6"/>
<text x="100.2" y="44.9" font-size="4.5" text-anchor="middle" font-weight="bold" fill="#f52a2a" font-style="italic">BLK</text>
<line x1="97.6" y1="49.2" x2="90.6" y2="69" stroke="#d83030" stroke-width="0.6"/>
<polygon points="190.4,93.3 190.4,80.51 191.03,81.95 191.65,79.07 192.28,79.22 192.9,80.94 193.53,80.2 194.15,81.88 194.78,81.85 195.4,81.6 196.03,80.09 196.65,81.89 197.28,79.05 197.9,82.42 198.53,81.96 199.15,82.35 199.78,79.8 200.4,81.31 200.4,93.3" fill="#999999"/>
<polygon points="190.4,100.3 190.4,105.77 191.03,106.32 191.65,106.26 192.28,106.22 192.9,105.56 193.53,106.1 194.15,106.16 194.78,106.19 195.4,106.18 196.03,105.58 196.65,105.62 197.28,106.18 197.9,106.13 198.53,106.27 199.15,105.86 199.78,106.27 200.4,105.58 200.4,100.3" fill="#5cb2f5"/>
<polygon points="200.4,93.3 200.4,77.39 201.02,77.82 201.63,79.4 202.25,77.83 202.86,78.68 203.48,77.35 204.09,77.13 204.71,78.97 205.33,78.25 205.94,78.17 206.56,78.76 207.17,79.72 207.79,79.69 208.41,76.16 209.02,77.11 209.64,78.23 210.25,77.38 210.87,78.87 211.48,77.22 212.1,76.32 212.1,93.3" fill="#666666"/>
<polygon points="200.4,100.3 200.4,105.89 201.02,105.57 201.63,105.56 202.25,105.49 202.86,106.01 203.48,106.11 204.09,106.36 204.71,106.01 205.33,106.36 205.94,105.82 206.56,105.58 207.17,105.51 207.79,105.72 208.41,105.94 209.02,106.36 209.64,105.73 210.25,105.67 210.87,106.12 211.48,105.81 212.1,105.96 212.1,100.3" fill="#326a98"/>
<polygon points="212.1,93.3 212.1,81.62 212.7,81.2 213.3,79.85 213.9,80.75 214.5,80.86 215.1,79.24 215.7,81.11 216.3,79.47 216.9,82.51 217.5,80.7 218.1,80.01 218.7,82.64 219.3,80.08 219.9,81.61 220.5,80.34 221.1,80.35 221.7,82.17 222.3,79.15 222.3,93.3" fill="#999999"/>
<polygon points="212.1,100.3 212.1,105.73 212.7,105.58 213.3,105.6 213.9,105.84 214.5,106.18 215.1,105.61 215.7,106.19 216.3,105.52 216.9,105.68 217.5,106.07 218.1,105.46 218.7,105.75 219.3,105.6 219.9,105.66 220.5,106.27 221.1,105.6 221.7,106.11 222.3,106.29 222.3,100.3" fill="#5cb2f5"/>
<polygon points="222.3,93.3 222.3,78.18 222.92,78.23 223.54,78.83 224.16,79.62 224.78,80.87 225.4,78.41 226.02,80.79 226.64,79.58 227.26,78.6 227.88,79.06 228.5,80.55 229.12,78.14 229.74,80.24 230.36,79.86 230.98,79.79 231.6,78.81 231.6,93.3" fill="#666666"/>
<polygon points="222.3,100.3 222.3,105.61 222.92,106.35 223.54,106.26 224.16,105.53 224.78,105.95 225.4,105.59 226.02,105.47 226.64,105.66 227.26,106.1 227.88,105.94 228.5,105.72 229.12,105.98 229.74,105.53 230.36,105.77 230.98,105.54 231.6,106.21 231.6,100.3" fill="#326a98"/>
<polygon points="231.6,93.3 231.6,82.37 232.2,81.22 232.8,81.1 233.4,81.26 234,79.61 234.6,80.39 235.2,79.67 235.8,79.46 236.4,79.82 237,80.76 237.6,81.15 238.2,80.68 238.8,80.96 239.4,80.18 240,79.49 240.6,80.15 240.6,93.3" fill="#999999"/>
<polygon points="231.6,100.3 231.6,106.26 232.2,106.34 232.8,106.11 233.4,106.02 234,105.82 234.6,106.24 235.2,105.71 235.8,105.5 236.4,106.19 237,105.51 237.6,106.11 238.2,106.05 238.8,105.55 239.4,105.85 240,105.7 240.6,106.19 240.6,100.3" fill="#5cb2f5"/>
<polygon points="240.6,93.3 240.6,77.58 241.21,78.5 241.81,77.66 242.42,79.54 243.03,78.46 243.64,80.19 244.24,77.66 244.85,80.46 245.46,81.09 246.06,80.08 246.67,78.64 247.28,79.11 247.89,78.1 248.49,78.56 249.1,78.2 249.1,93.3" fill="#666666"/>
<polygon points="240.6,100.3 240.6,106.19 241.21,105.54 241.81,105.71 242.42,105.89 243.03,106.32 243.64,105.79 244.24,106.36 244.85,105.98 245.46,106.11 246.06,106.17 246.67,105.58 247.28,106.29 247.89,106 248.49,105.57 249.1,105.59 249.1,100.3" fill="#326a98"/>
<polygon points="249.1,93.3 249.1,80.85 249.71,80.76 250.33,79.32 250.94,79.91 251.56,80.38 252.17,81.1 252.79,78.18 253.4,80.91 254.01,78.76 254.63,77.51 255.24,80.18 255.86,78.92 256.47,77.81 257.09,79.48 257.7,77.68 257.7,93.3" fill="#999999"/>
<polygon points="249.1,100.3 249.1,105.7 249.71,105.9 250.33,105.69 250.94,106 251.56,106.33 252.17,105.94 252.79,105.63 253.4,105.5 254.01,106.03 254.63,105.86 255.24,105.46 255.86,105.79 256.47,106.18 257.09,106.03 257.7,105.76 257.7,100.3" fill="#5cb2f5"/>
<polygon points="257.7,93.3 257.7,79.17 258.34,77.5 258.98,78.83 259.62,79.44 260.27,78.01 260.91,79.42 261.55,78.51 262.19,79.45 262.83,78.32 263.47,80.77 264.12,80.48 264.76,78.51 265.4,78.35 265.4,93.3" fill="#666666"/>
<polygon points="257.7,100.3 257.7,106.18 258.34,105.92 258.98,105.47 259.62,106.11 260.27,106.14 260.91,106.05 261.55,106.34 262.19,106.03 262.83,106.2 263.47,105.68 264.12,105.72 264.76,106.35 265.4,106.37 265.4,100.3" fill="#326a98"/>
<polygon points="265.4,93.3 265.4,81.26 266.04,79.77 266.68,81.5 267.32,80.7 267.96,80.48 268.6,81.37 269.24,79.74 269.88,80.34 270.52,80.61 271.16,80.2 271.8,81.83 271.8,93.3" fill="#999999"/>
<polygon points="265.4,100.3 265.4,106.16 266.04,106.08 266.68,105.69 267.32,105.67 267.96,106.25 268.6,106.21 269.24,106.22 269.88,105.73 270.52,106.11 271.16,106.2 271.8,106.27 271.8,100.3" fill="#5cb2f5"/>
<polygon points="271.8,93.3 271.8,79.7 272.46,79.74 273.11,79.72 273.77,80.16 274.42,79.71 275.08,80.53 275.73,80.2 276.39,80.09 277.04,81.18 277.7,82.54 277.7,93.3" fill="#666666"/>
<polygon points="271.8,100.3 271.8,105.51 272.46,105.49 273.11,105.86 273.77,105.93 274.42,106.11 275.08,105.76 275.73,106.31 276.39,105.94 277.04,105.9 277.7,106.07 277.7,100.3" fill="#326a98"/>
<polygon points="277.7,93.3 277.7,80.75 278.31,79.69 278.92,80.63 279.53,79.24 280.14,81.42 280.75,80.9 281.35,81.37 281.96,82.67 282.57,79.97 283.18,80.07 283.79,79.08 284.4,82.49 284.4,93.3" fill="#999999"/>
<polygon points="277.7,100.3 277.7,105.95 278.31,105.71 278.92,105.57 279.53,105.71 280.14,106.24 280.75,105.66 281.35,105.7 281.96,105.49 282.57,106.35 283.18,105.69 283.79,105.63 284.4,106.11 284.4,100.3" fill="#5cb2f5"/>
<polygon points="284.4,93.3 284.4,81.22 285.05,79.88 285.69,79.11 286.34,80.87 286.98,82 287.63,79.38 288.27,79.08 288.92,81.17 289.56,79.38 290.21,78.96 290.85,79.06 291.5,79.35 291.5,93.3" fill="#666666"/>
<polygon points="284.4,100.3 284.4,105.71 285.05,105.99 285.69,105.98 286.34,106.24 286.98,106.06 287.63,105.46 288.27,106.14 288.92,106.23 289.56,106.3 290.21,105.66 290.85,105.99 291.5,105.62 291.5,100.3" fill="#326a98"/>
<polygon points="291.5,93.3 291.5,81.06 292.11,79.84 292.73,81.59 293.34,81.27 293.95,82.03 294.56,80.86 295.17,82.14 295.79,80.39 296.4,81.01 296.4,93.3" fill="#999999"/>
<polygon points="291.5,100.3 291.5,105.9 292.11,105.71 292.73,105.82 293.34,106.17 293.95,105.99 294.56,105.86 295.17,105.87 295.79,106.34 296.4,106.34 296.4,100.3" fill="#5cb2f5"/>
<polygon points="296.4,93.3 296.4,79.91 297.05,79.7 297.7,79.06 298.35,77.31 299,79.3 299.65,80.54 300.3,79.95 300.3,93.3" fill="#666666"/>
<polygon points="296.4,100.3 296.4,105.66 297.05,105.49 297.7,106.29 298.35,105.78 299,105.9 299.65,105.72 300.3,106.32 300.3,100.3" fill="#326a98"/>
<polygon points="300.3,93.3 300.3,76.32 300.93,76.15 301.57,73.21 302.2,73.47 302.83,74.78 303.47,73.34 304.1,75.4 304.1,93.3" fill="#999999"/>
<polygon points="300.3,100.3 300.3,106.14 300.93,106.07 301.57,105.86 302.2,105.58 302.83,106.28 303.47,105.67 304.1,105.57 304.1,100.3" fill="#5cb2f5"/>
<polygon points="304.1,93.3 304.1,75.78 304.8,75.03 305.5,73.28 306.2,73.93 306.9,75.28 307.6,74.48 308.3,72.35 308.3,93.3" fill="#666666"/>
<polygon points="304.1,100.3 304.1,105.88 304.8,105.5 305.5,106.19 306.2,105.57 306.9,105.7 307.6,106.21 308.3,106.08 308.3,100.3" fill="#326a98"/>
<polygon points="308.3,93.3 308.3,75.81 308.95,75.73 309.6,75.36 310.25,72.83 310.9,74.37 311.55,73.35 312.2,73.76 312.2,93.3" fill="#999999"/>
<polygon points="308.3,100.3 308.3,106 308.95,105.95 309.6,105.99 310.25,105.66 310.9,106.23 311.55,106.05 312.2,105.48 312.2,100.3" fill="#5cb2f5"/>
<polygon points="312.2,93.3 312.2,73.75 312.83,73.19 313.47,72.4 314.1,75.35 314.73,72.48 315.37,74.22 316,75.25 316,93.3" fill="#666666"/>
<polygon points="312.2,100.3 312.2,105.97 312.83,106.14 313.47,105.57 314.1,105.67 314.73,105.75 315.37,105.61 316,106.25 316,100.3" fill="#326a98"/>
<polygon points="316,93.3 316,75.38 316.7,74.04 317.4,73.38 318.1,73.77 318.8,76.37 319.5,75.18 319.5,93.3" fill="#999999"/>
<polygon points="316,100.3 316,106.19 316.7,106.3 317.4,105.74 318.1,106.18 318.8,105.86 319.5,105.47 319.5,100.3" fill="#5cb2f5"/>
<polygon points="319.5,93.3 319.5,73.06 320.12,73.03 320.75,73.75 321.38,73.31 322,73.2 322,93.3" fill="#666666"/>
<polygon points="319.5,100.3 319.5,106.11 320.12,105.7 320.75,106.16 321.38,106.13 322,105.73 322,100.3" fill="#326a98"/>
<polygon points="322,93.3 322,75.57 322.8,76.21 323.6,74.16 324.4,73.81 324.4,93.3" fill="#999999"/>
<polygon points="322,100.3 322,106.01 322.8,105.51 323.6,105.48 324.4,106.23 324.4,100.3" fill="#5cb2f5"/>
<polygon points="324.4,93.3 324.4,74.07 325.12,73.41 325.85,74.77 326.57,74.5 327.3,74.3 327.3,93.3" fill="#666666"/>
<polygon points="324.4,100.3 324.4,105.85 325.12,106 325.85,106.3 326.57,106.23 327.3,105.85 327.3,100.3" fill="#326a98"/>
<path d="M195.1 80.3V83.0M196.7 79.9V83.0M192.7 79.8V83.0M193.6 81.1V83.0M198.4 78.1V83.0M196.9 75.1V83.0M194.4 80.0V83.0M194.7 79.9V83.0M197.0 81.4V83.0M195.1 79.2V83.0M194.0 81.4V83.0M197.3 81.4V83.0M196.0 80.9V83.0M191.1 80.8V83.0M191.4 81.0V83.0M197.1 77.6V83.0M194.1 78.3V83.0M195.2 79.4V83.0M198.9 80.3V83.0M198.8 78.0V83.0M197.1 81.4V83.0M191.6 81.3V83.0M214.8 81.0V83.0M216.7 81.2V83.0M213.5 77.2V83.0M213.4 79.1V83.0M220.8 79.6V83.0M220.2 76.2V83.0M214.0 81.2V83.0M219.9 75.5V83.0M220.5 77.7V83.0M217.3 72.0V83.0M219.5 77.2V83.0M221.1 81.3V83.0M219.5 78.8V83.0M212.6 80.6V83.0M219.2 79.2V83.0M217.8 80.4V83.0M217.8 75.2V83.0M221.7 79.1V83.0M219.4 81.2V83.0M213.8 79.0V83.0M220.3 81.1V83.0M213.9 79.4V83.0M234.1 79.0V83.0M235.7 81.0V83.0M232.9 79.7V83.0M239.7 77.8V83.0M232.5 74.1V83.0M237.9 78.7V83.0M232.1 80.3V83.0M234.7 79.5V83.0M233.0 78.5V83.0M237.0 78.4V83.0M236.1 79.0V83.0M232.9 76.2V83.0M239.1 75.8V83.0M238.3 80.6V83.0M234.4 81.3V83.0M238.4 75.6V83.0M239.7 78.7V83.0M238.6 75.9V83.0M233.0 81.2V83.0M249.8 77.4V81.4M255.6 77.9V81.4M256.0 68.1V81.4M256.0 77.9V81.4M254.9 73.8V81.4M254.4 79.7V81.4M251.1 77.1V81.4M250.4 79.4V81.4M257.1 77.8V81.4M257.2 74.5V81.4M255.6 78.3V81.4M251.3 79.7V81.4M251.2 77.8V81.4M254.2 79.4V81.4M253.1 78.5V81.4M256.4 78.8V81.4M256.0 76.8V81.4M256.8 78.9V81.4M267.6 75.3V83.0M269.7 79.6V83.0M271.4 72.9V83.0M269.8 81.1V83.0M268.0 80.0V83.0M268.9 80.4V83.0M268.4 75.0V83.0M266.4 81.2V83.0M268.8 81.4V83.0M267.8 80.6V83.0M270.1 80.8V83.0M268.7 75.4V83.0M269.6 80.0V83.0M266.9 72.8V83.0M283.2 77.1V83.0M283.4 81.0V83.0M279.6 77.5V83.0M282.1 81.1V83.0M278.3 71.3V83.0M282.4 80.0V83.0M280.9 80.9V83.0M279.8 71.8V83.0M278.6 73.2V83.0M282.7 80.1V83.0M282.6 79.1V83.0M281.9 78.9V83.0M280.6 72.7V83.0M282.6 79.9V83.0M292.7 80.5V83.0M294.3 80.3V83.0M295.9 71.3V83.0M293.5 77.9V83.0M292.9 80.9V83.0M295.1 73.4V83.0M292.9 80.4V83.0M294.5 80.9V83.0M292.8 79.4V83.0M293.7 80.5V83.0M302.0 73.7V76.8M301.8 73.0V76.8M302.1 71.4V76.8M303.0 73.8V76.8M302.0 72.8V76.8M301.2 75.0V76.8M300.8 70.9V76.8M301.2 74.9V76.8M311.2 75.1V76.8M309.0 72.1V76.8M311.1 70.7V76.8M309.9 73.8V76.8M311.5 70.7V76.8M309.8 71.5V76.8M308.9 70.8V76.8M309.6 74.7V76.8M316.4 74.2V76.8M317.0 74.5V76.8M316.8 74.6V76.8M318.9 75.0V76.8M318.5 69.8V76.8M318.6 74.8V76.8M318.8 63.9V76.8M322.5 67.9V76.8M323.4 71.7V76.8M323.0 69.3V76.8M323.7 73.7V76.8M323.3 68.6V76.8" stroke="#999999" stroke-width="0.8" fill="none"/>
<path d="M199.7 104.9V108.2M193.9 104.9V105.9M195.9 104.9V107.1M194.0 104.9V105.9M193.3 104.9V107.7M191.6 104.9V108.9M193.1 104.9V106.1M191.8 104.9V110.2M199.2 104.9V106.2M191.6 104.9V107.0M199.0 104.9V105.8M196.7 104.9V108.0M195.0 104.9V106.7M198.3 104.9V106.1M193.3 104.9V107.0M195.9 104.9V106.7M193.8 104.9V108.9M193.4 104.9V107.1M199.1 104.9V106.4M191.2 104.9V106.1M191.3 104.9V106.0M191.8 104.9V106.3M194.2 104.9V106.5M197.0 104.9V107.1M197.2 104.9V106.3M214.8 104.9V108.0M215.5 104.9V107.4M218.0 104.9V106.3M220.9 104.9V107.1M215.5 104.9V106.8M215.2 104.9V106.2M221.4 104.9V109.9M213.9 104.9V108.5M219.3 104.9V105.8M213.4 104.9V106.4M220.9 104.9V108.1M214.8 104.9V106.5M221.3 104.9V106.1M213.4 104.9V106.4M218.9 104.9V108.1M220.8 104.9V105.8M214.1 104.9V106.0M218.1 104.9V106.4M221.3 104.9V106.9M218.3 104.9V107.1M214.4 104.9V108.3M220.7 104.9V107.7M219.9 104.9V106.0M212.9 104.9V106.3M219.3 104.9V106.1M238.4 104.9V106.3M233.2 104.9V106.3M235.6 104.9V106.8M239.9 104.9V106.2M233.1 104.9V106.9M235.5 104.9V107.3M237.5 104.9V106.7M238.8 104.9V106.1M238.5 104.9V106.0M235.9 104.9V106.7M236.5 104.9V106.0M235.8 104.9V106.2M234.2 104.9V106.4M235.4 104.9V106.1M237.7 104.9V108.8M239.9 104.9V106.0M233.8 104.9V106.4M236.9 104.9V107.1M236.9 104.9V106.6M240.3 104.9V109.4M238.7 104.9V106.1M238.3 104.9V105.9M257.1 104.9V110.2M249.6 104.9V106.1M254.3 104.9V106.3M251.1 104.9V107.6M256.6 104.9V106.6M257.1 104.9V106.8M254.4 104.9V106.6M255.8 104.9V108.4M253.4 104.9V106.5M255.7 104.9V107.8M254.7 104.9V106.0M250.4 104.9V106.3M249.8 104.9V106.3M252.3 104.9V106.0M250.6 104.9V106.9M256.5 104.9V106.1M255.2 104.9V106.4M249.5 104.9V108.8M250.3 104.9V106.5M249.5 104.9V106.2M252.2 104.9V106.3M269.8 104.9V105.9M266.0 104.9V106.2M270.3 104.9V106.3M266.0 104.9V106.5M266.6 104.9V106.4M269.8 104.9V106.6M268.8 104.9V106.6M271.3 104.9V108.7M268.7 104.9V106.0M269.7 104.9V106.0M265.8 104.9V105.9M268.3 104.9V108.0M268.6 104.9V107.5M268.8 104.9V107.2M268.7 104.9V107.3M267.8 104.9V106.2M278.6 104.9V107.6M282.4 104.9V105.9M282.8 104.9V106.1M278.6 104.9V107.4M283.7 104.9V106.3M279.8 104.9V106.6M282.8 104.9V109.8M282.1 104.9V106.4M280.9 104.9V108.0M279.6 104.9V106.3M279.2 104.9V110.3M282.8 104.9V106.1M282.7 104.9V109.0M279.9 104.9V106.3M279.7 104.9V107.9M280.8 104.9V107.9M295.6 104.9V107.4M293.7 104.9V106.6M292.4 104.9V109.2M292.6 104.9V105.9M294.5 104.9V105.9M295.0 104.9V106.2M295.0 104.9V106.7M292.4 104.9V106.6M294.7 104.9V105.8M292.4 104.9V106.3M294.3 104.9V106.4M293.5 104.9V107.0M303.0 104.9V107.0M303.7 104.9V109.2M302.0 104.9V108.3M301.1 104.9V108.0M301.6 104.9V107.0M302.9 104.9V109.8M302.3 104.9V108.4M301.8 104.9V107.2M302.9 104.9V108.0M311.8 104.9V107.1M308.9 104.9V107.9M310.5 104.9V106.9M309.3 104.9V107.3M311.4 104.9V106.9M309.3 104.9V106.8M309.8 104.9V106.8M310.1 104.9V107.4M309.3 104.9V107.2M317.9 104.9V106.9M318.9 104.9V108.2M317.8 104.9V108.9M319.0 104.9V107.1M318.0 104.9V108.4M316.4 104.9V107.0M319.1 104.9V107.4M319.0 104.9V107.5M323.6 104.9V107.4M323.3 104.9V107.4M322.4 104.9V108.0M322.4 104.9V107.0M323.2 104.9V107.3" stroke="#5cb2f5" stroke-width="0.8" fill="none"/>
<path d="M209.2 76.8V80.2M211.5 71.1V80.2M201.4 77.1V80.2M205.7 77.7V80.2M207.5 78.2V80.2M208.9 72.8V80.2M201.5 75.1V80.2M203.7 75.6V80.2M208.3 67.5V80.2M209.5 77.4V80.2M208.8 78.2V80.2M208.6 77.0V80.2M203.7 77.8V80.2M203.2 73.9V80.2M201.8 77.8V80.2M202.9 78.1V80.2M208.8 76.0V80.2M208.0 71.8V80.2M205.7 78.5V80.2M202.9 76.5V80.2M208.6 71.2V80.2M206.4 77.9V80.2M207.3 70.5V80.2M204.4 70.7V80.2M210.7 76.1V80.2M223.0 77.2V81.7M226.8 75.4V81.7M225.8 77.7V81.7M230.9 80.0V81.7M229.4 78.3V81.7M225.2 79.2V81.7M224.5 74.7V81.7M224.4 70.5V81.7M227.1 79.2V81.7M229.4 77.6V81.7M230.2 79.7V81.7M228.6 80.1V81.7M224.3 78.6V81.7M225.4 79.2V81.7M227.5 76.1V81.7M226.2 78.1V81.7M229.3 79.4V81.7M231.2 80.1V81.7M225.9 75.0V81.7M224.7 79.0V81.7M248.3 79.7V81.4M241.8 78.9V81.4M242.0 77.5V81.4M246.5 79.3V81.4M244.8 79.0V81.4M241.1 79.0V81.4M243.0 76.4V81.4M248.5 79.7V81.4M244.8 78.0V81.4M245.8 79.4V81.4M248.4 78.9V81.4M245.5 78.3V81.4M245.3 73.6V81.4M245.8 78.6V81.4M248.3 79.3V81.4M248.4 76.6V81.4M242.9 67.2V81.4M247.7 77.8V81.4M260.6 79.8V81.4M262.3 79.5V81.4M260.8 75.0V81.4M263.6 74.8V81.4M258.8 76.0V81.4M258.3 67.8V81.4M263.2 75.5V81.4M264.0 74.8V81.4M263.4 72.0V81.4M258.5 79.6V81.4M263.0 79.5V81.4M263.6 78.3V81.4M263.3 79.5V81.4M261.9 76.1V81.4M263.2 79.3V81.4M259.8 74.3V81.4M276.6 75.1V83.0M273.9 79.8V83.0M272.8 73.4V83.0M272.6 79.8V83.0M272.3 75.6V83.0M275.8 77.1V83.0M275.1 78.0V83.0M276.8 81.2V83.0M273.6 81.1V83.0M274.6 81.2V83.0M275.5 78.7V83.0M275.9 76.2V83.0M287.7 80.3V83.0M286.3 80.6V83.0M286.5 80.9V83.0M284.8 80.3V83.0M285.5 77.3V83.0M287.4 69.3V83.0M289.1 80.6V83.0M289.1 78.7V83.0M290.9 77.8V83.0M286.5 80.9V83.0M287.5 80.3V83.0M286.2 76.7V83.0M286.7 79.3V83.0M287.1 78.4V83.0M285.9 80.1V83.0M298.4 68.6V81.1M298.8 77.3V81.1M297.5 78.4V81.1M299.5 67.7V81.1M297.9 76.5V81.1M299.0 75.7V81.1M297.7 78.8V81.1M297.9 77.6V81.1M304.9 74.6V76.1M304.7 72.2V76.1M307.8 64.8V76.1M306.4 74.1V76.1M304.9 68.3V76.1M307.1 71.7V76.1M307.7 72.2V76.1M307.0 73.1V76.1M304.5 67.7V76.1M313.6 73.7V76.1M315.2 74.5V76.1M313.2 72.3V76.1M313.3 68.7V76.1M312.9 67.0V76.1M314.6 68.7V76.1M314.1 74.4V76.1M315.0 73.1V76.1M320.8 74.1V76.8M321.2 67.9V76.8M321.3 72.5V76.8M320.4 71.2V76.8M320.1 74.7V76.8M326.2 74.4V76.8M325.5 69.6V76.8M325.6 72.9V76.8M326.6 72.6V76.8M326.7 73.3V76.8M325.4 73.2V76.8" stroke="#666666" stroke-width="0.8" fill="none"/>
<path d="M202.4 104.9V107.9M210.9 104.9V107.4M211.1 104.9V106.3M201.1 104.9V106.2M210.7 104.9V106.5M202.9 104.9V106.0M202.5 104.9V106.5M211.0 104.9V108.2M209.1 104.9V107.4M202.8 104.9V107.5M203.2 104.9V106.6M201.1 104.9V108.3M202.1 104.9V106.8M208.1 104.9V107.0M208.3 104.9V106.3M209.5 104.9V108.9M207.5 104.9V110.1M210.1 104.9V105.9M208.2 104.9V105.9M208.0 104.9V106.3M210.2 104.9V105.9M211.2 104.9V105.9M201.3 104.9V105.8M202.1 104.9V110.4M210.0 104.9V108.6M202.8 104.9V107.1M209.5 104.9V107.2M203.7 104.9V109.7M208.8 104.9V107.1M225.9 104.9V107.2M225.5 104.9V106.4M227.6 104.9V106.1M227.4 104.9V107.4M223.2 104.9V106.1M222.8 104.9V106.6M223.6 104.9V106.6M224.0 104.9V106.6M225.1 104.9V107.3M229.7 104.9V109.3M226.6 104.9V108.2M230.1 104.9V106.3M231.1 104.9V109.3M224.0 104.9V107.3M228.6 104.9V106.9M228.8 104.9V106.2M229.9 104.9V107.2M224.2 104.9V109.5M229.0 104.9V105.9M222.9 104.9V106.0M228.4 104.9V107.2M230.7 104.9V108.2M224.4 104.9V106.1M247.2 104.9V106.7M248.2 104.9V108.0M245.2 104.9V106.4M246.9 104.9V110.0M243.3 104.9V106.6M241.8 104.9V105.9M241.4 104.9V106.3M245.8 104.9V108.0M246.8 104.9V109.5M242.9 104.9V107.9M243.4 104.9V106.3M245.2 104.9V110.4M244.6 104.9V105.9M243.8 104.9V106.7M246.3 104.9V106.0M243.1 104.9V106.0M245.0 104.9V106.4M243.4 104.9V106.6M246.9 104.9V106.9M246.7 104.9V106.4M248.2 104.9V106.0M258.8 104.9V106.9M262.9 104.9V106.9M260.8 104.9V106.3M264.5 104.9V106.0M258.6 104.9V107.3M258.1 104.9V106.4M262.0 104.9V107.1M259.8 104.9V106.9M262.7 104.9V107.7M261.3 104.9V108.8M261.2 104.9V108.5M260.8 104.9V107.2M260.1 104.9V106.9M263.3 104.9V105.9M263.5 104.9V105.9M263.6 104.9V106.0M259.7 104.9V106.2M259.9 104.9V106.8M260.5 104.9V107.7M276.9 104.9V107.3M276.8 104.9V106.0M272.7 104.9V105.8M275.3 104.9V107.2M273.1 104.9V106.8M273.2 104.9V106.8M277.3 104.9V108.1M273.6 104.9V105.9M273.4 104.9V106.7M273.9 104.9V106.5M274.8 104.9V108.5M274.0 104.9V106.4M273.8 104.9V106.7M272.9 104.9V106.6M288.8 104.9V107.3M290.3 104.9V106.6M288.4 104.9V106.2M285.3 104.9V106.4M285.9 104.9V107.1M286.2 104.9V106.3M284.8 104.9V106.2M290.2 104.9V106.0M288.0 104.9V107.3M290.8 104.9V107.0M285.0 104.9V107.4M290.2 104.9V107.9M289.8 104.9V107.2M289.6 104.9V106.4M285.1 104.9V106.1M287.8 104.9V106.6M291.2 104.9V106.3M298.9 104.9V108.0M297.5 104.9V107.4M298.1 104.9V106.1M298.8 104.9V105.9M299.8 104.9V106.0M299.4 104.9V106.5M297.2 104.9V107.5M297.0 104.9V107.7M297.4 104.9V106.2M307.8 104.9V109.0M305.6 104.9V107.3M305.0 104.9V108.5M307.5 104.9V107.4M307.3 104.9V110.4M306.7 104.9V107.5M306.8 104.9V107.6M305.7 104.9V107.5M307.5 104.9V107.1M304.7 104.9V110.2M314.6 104.9V107.2M314.9 104.9V108.3M313.5 104.9V108.3M314.9 104.9V108.4M315.1 104.9V106.8M313.8 104.9V107.3M313.9 104.9V110.4M314.4 104.9V109.2M313.8 104.9V107.3M321.7 104.9V107.0M320.6 104.9V108.1M319.9 104.9V107.4M320.9 104.9V109.4M321.5 104.9V107.0M320.3 104.9V107.2M325.4 104.9V106.8M324.9 104.9V108.6M325.8 104.9V108.0M327.0 104.9V107.7M326.7 104.9V107.4M325.2 104.9V108.2M325.7 104.9V106.9" stroke="#326a98" stroke-width="0.8" fill="none"/>
<path d="M195.9 61.8V80.5M192.1 73.0V80.5M214.9 63.0V80.5M219.3 61.8V80.5M234.2 61.8V80.5M235.9 62.0V80.5M250.0 61.8V80.5M253.5 61.8V80.5M257.3 61.8V80.5M267.9 61.8V80.5M271.4 61.8V80.5M279.0 61.8V80.5M280.6 61.8V80.5M301.8 61.8V80.5M310.9 61.8V80.5M316.1 61.8V80.5M317.6 61.8V80.5" stroke="#8c8c8c" stroke-width="1.0" fill="none"/>
<path d="M195.9 54.5V61.8M219.3 47.5V61.8M234.2 37.8V61.8M250.0 37.8V61.8M253.5 59.0V61.8M257.3 19.4V61.8M267.9 49.2V61.8M271.4 54.4V61.8M279.0 43.9V61.8M280.6 52.0V61.8M301.8 29.9V61.8M310.9 40.4V61.8M316.1 38.7V61.8M317.6 46.0V61.8" stroke="#8f8f8f" stroke-width="0.95" fill="none" stroke-dasharray="1 0.7 0.7 0.9"/>
<path d="M202.3 62.0V80.5M204.7 61.8V80.5M206.1 61.8V80.5M208.7 61.8V80.5M209.6 61.8V80.5M225.9 61.8V80.5M227.2 61.8V80.5M240.8 61.8V80.5M243.8 61.8V80.5M246.5 61.8V80.5M259.7 61.8V80.5M274.1 61.8V80.5M284.6 61.8V80.5M286.6 62.0V80.5M305.6 61.8V80.5M307.1 61.8V80.5M321.4 61.8V80.5M325.8 64.0V80.5" stroke="#555555" stroke-width="1.0" fill="none"/>
<path d="M204.7 45.7V61.8M206.1 50.0V61.8M208.7 46.6V61.8M209.6 56.0V61.8M225.9 21.1V61.8M227.2 52.0V61.8M240.8 33.4V61.8M243.8 42.2V61.8M246.5 59.0V61.8M259.7 37.8V61.8M274.1 60.6V61.8M284.6 54.4V61.8M305.6 17.6V61.8M307.1 40.0V61.8M321.4 43.9V61.8" stroke="#5a5a5a" stroke-width="0.95" fill="none" stroke-dasharray="1 0.7 0.7 0.9"/>
<path d="M211.4 69.8V80.5M206.8 66.8V80.5M210.5 62.5V80.5M208.2 69.7V80.5M205.5 60.8V80.5M209.1 60.1V80.5M211.2 70.5V80.5M208.1 63.6V80.5M212.4 65.9V80.5M209.9 63.1V80.5M209.9 62.8V80.5M210.8 58.6V80.5M211.9 65.4V80.5M212.2 63.9V80.5" stroke="#5a5a5a" stroke-width="0.8" fill="none" stroke-dasharray="1.2 0.4 0.8 0.5"/>
<rect x="203.9" y="71.6" width="2.1" height="3.6" fill="#7fff00"/>
<rect x="203.9" y="76.8" width="2.1" height="1.4" fill="#7fff00"/>
<rect x="203.9" y="79.6" width="2.1" height="13.9" fill="#7fff00"/>
<rect x="257.7" y="71" width="2" height="22.5" fill="#7fff00"/>
<line x1="183.6" y1="49.3" x2="333.2" y2="49.3" stroke="#dddddd" stroke-width="0.6" stroke-dasharray="1.6 1.6"/>
<line x1="183.6" y1="73.32" x2="333.2" y2="73.32" stroke="#f03030" stroke-width="0.8" stroke-dasharray="2 1.6"/>
<line x1="183.6" y1="111.68" x2="333.2" y2="111.68" stroke="#f03030" stroke-width="0.8" stroke-dasharray="2 1.6"/>
<line x1="183.6" y1="17.3" x2="183.6" y2="93.5" stroke="#444444" stroke-width="0.9"/>
<line x1="183.6" y1="93.5" x2="333.2" y2="93.5" stroke="#444444" stroke-width="0.9"/>
<line x1="183.6" y1="100.5" x2="183.6" y2="180" stroke="#444444" stroke-width="0.9"/>
<line x1="183.6" y1="100.5" x2="333.2" y2="100.5" stroke="#444444" stroke-width="0.9"/>
<line x1="182.1" y1="80.5" x2="183.6" y2="80.5" stroke="#333333" stroke-width="0.6"/>
<text x="181.4" y="82.7" font-size="5.8" text-anchor="end" font-weight="normal" fill="#333333" stroke="#333333" stroke-width="0.18">5</text>
<line x1="182.1" y1="64.9" x2="183.6" y2="64.9" stroke="#333333" stroke-width="0.6"/>
<text x="181.4" y="67.1" font-size="5.8" text-anchor="end" font-weight="normal" fill="#333333" stroke="#333333" stroke-width="0.18">10</text>
<line x1="182.1" y1="49.3" x2="183.6" y2="49.3" stroke="#333333" stroke-width="0.6"/>
<text x="181.4" y="51.5" font-size="5.8" text-anchor="end" font-weight="normal" fill="#333333" stroke="#333333" stroke-width="0.18">15</text>
<line x1="182.1" y1="26.51" x2="183.6" y2="26.51" stroke="#333333" stroke-width="0.6"/>
<text x="181.4" y="28.71" font-size="5.8" text-anchor="end" font-weight="normal" fill="#333333" stroke="#333333" stroke-width="0.18">50</text>
<line x1="182.1" y1="107.65" x2="183.6" y2="107.65" stroke="#333333" stroke-width="0.6"/>
<text x="181.4" y="109.85" font-size="5.8" text-anchor="end" font-weight="normal" fill="#333333" stroke="#333333" stroke-width="0.18">5</text>
<line x1="182.1" y1="116.8" x2="183.6" y2="116.8" stroke="#333333" stroke-width="0.6"/>
<text x="181.4" y="119" font-size="5.8" text-anchor="end" font-weight="normal" fill="#333333" stroke="#333333" stroke-width="0.18">10</text>
<line x1="182.1" y1="125.95" x2="183.6" y2="125.95" stroke="#333333" stroke-width="0.6"/>
<text x="181.4" y="128.15" font-size="5.8" text-anchor="end" font-weight="normal" fill="#333333" stroke="#333333" stroke-width="0.18">15</text>
<line x1="182.1" y1="135.1" x2="183.6" y2="135.1" stroke="#333333" stroke-width="0.6"/>
<text x="181.4" y="137.3" font-size="5.8" text-anchor="end" font-weight="normal" fill="#333333" stroke="#333333" stroke-width="0.18">20</text>
<line x1="182.1" y1="171.7" x2="183.6" y2="171.7" stroke="#333333" stroke-width="0.6"/>
<text x="181.4" y="173.9" font-size="5.8" text-anchor="end" font-weight="normal" fill="#333333" stroke="#333333" stroke-width="0.18">40</text>
<line x1="195.4" y1="93.5" x2="195.4" y2="95" stroke="#333" stroke-width="0.7"/>
<line x1="195.4" y1="99" x2="195.4" y2="100.5" stroke="#333" stroke-width="0.7"/>
<text x="195.4" y="97.9" font-size="3.1" text-anchor="middle" font-weight="normal" fill="#222">1</text>
<line x1="206.25" y1="93.5" x2="206.25" y2="95" stroke="#333" stroke-width="0.7"/>
<line x1="206.25" y1="99" x2="206.25" y2="100.5" stroke="#333" stroke-width="0.7"/>
<text x="206.25" y="97.9" font-size="3.1" text-anchor="middle" font-weight="normal" fill="#222">2</text>
<line x1="217.2" y1="93.5" x2="217.2" y2="95" stroke="#333" stroke-width="0.7"/>
<line x1="217.2" y1="99" x2="217.2" y2="100.5" stroke="#333" stroke-width="0.7"/>
<text x="217.2" y="97.9" font-size="3.1" text-anchor="middle" font-weight="normal" fill="#222">3</text>
<line x1="226.95" y1="93.5" x2="226.95" y2="95" stroke="#333" stroke-width="0.7"/>
<line x1="226.95" y1="99" x2="226.95" y2="100.5" stroke="#333" stroke-width="0.7"/>
<text x="226.95" y="97.9" font-size="3.1" text-anchor="middle" font-weight="normal" fill="#222">4</text>
<line x1="236.1" y1="93.5" x2="236.1" y2="95" stroke="#333" stroke-width="0.7"/>
<line x1="236.1" y1="99" x2="236.1" y2="100.5" stroke="#333" stroke-width="0.7"/>
<text x="236.1" y="97.9" font-size="3.1" text-anchor="middle" font-weight="normal" fill="#222">5</text>
<line x1="244.85" y1="93.5" x2="244.85" y2="95" stroke="#333" stroke-width="0.7"/>
<line x1="244.85" y1="99" x2="244.85" y2="100.5" stroke="#333" stroke-width="0.7"/>
<text x="244.85" y="97.9" font-size="3.1" text-anchor="middle" font-weight="normal" fill="#222">6</text>
<line x1="253.4" y1="93.5" x2="253.4" y2="95" stroke="#333" stroke-width="0.7"/>
<line x1="253.4" y1="99" x2="253.4" y2="100.5" stroke="#333" stroke-width="0.7"/>
<text x="253.4" y="97.9" font-size="3.1" text-anchor="middle" font-weight="normal" fill="#222">7</text>
<line x1="261.55" y1="93.5" x2="261.55" y2="95" stroke="#333" stroke-width="0.7"/>
<line x1="261.55" y1="99" x2="261.55" y2="100.5" stroke="#333" stroke-width="0.7"/>
<text x="261.55" y="97.9" font-size="3.1" text-anchor="middle" font-weight="normal" fill="#222">8</text>
<line x1="268.6" y1="93.5" x2="268.6" y2="95" stroke="#333" stroke-width="0.7"/>
<line x1="268.6" y1="99" x2="268.6" y2="100.5" stroke="#333" stroke-width="0.7"/>
<text x="268.6" y="97.9" font-size="3.1" text-anchor="middle" font-weight="normal" fill="#222">9</text>
<line x1="274.75" y1="93.5" x2="274.75" y2="95" stroke="#333" stroke-width="0.7"/>
<line x1="274.75" y1="99" x2="274.75" y2="100.5" stroke="#333" stroke-width="0.7"/>
<text x="274.75" y="97.9" font-size="3.1" text-anchor="middle" font-weight="normal" fill="#222">10</text>
<line x1="281.05" y1="93.5" x2="281.05" y2="95" stroke="#333" stroke-width="0.7"/>
<line x1="281.05" y1="99" x2="281.05" y2="100.5" stroke="#333" stroke-width="0.7"/>
<text x="281.05" y="97.9" font-size="3.1" text-anchor="middle" font-weight="normal" fill="#222">11</text>
<line x1="287.95" y1="93.5" x2="287.95" y2="95" stroke="#333" stroke-width="0.7"/>
<line x1="287.95" y1="99" x2="287.95" y2="100.5" stroke="#333" stroke-width="0.7"/>
<text x="287.95" y="97.9" font-size="3.1" text-anchor="middle" font-weight="normal" fill="#222">12</text>
<line x1="293.95" y1="93.5" x2="293.95" y2="95" stroke="#333" stroke-width="0.7"/>
<line x1="293.95" y1="99" x2="293.95" y2="100.5" stroke="#333" stroke-width="0.7"/>
<text x="293.95" y="97.9" font-size="3.1" text-anchor="middle" font-weight="normal" fill="#222">13</text>
<line x1="298.35" y1="93.5" x2="298.35" y2="95" stroke="#333" stroke-width="0.7"/>
<line x1="298.35" y1="99" x2="298.35" y2="100.5" stroke="#333" stroke-width="0.7"/>
<text x="298.35" y="97.9" font-size="3.1" text-anchor="middle" font-weight="normal" fill="#222">14</text>
<line x1="302.2" y1="93.5" x2="302.2" y2="95" stroke="#333" stroke-width="0.7"/>
<line x1="302.2" y1="99" x2="302.2" y2="100.5" stroke="#333" stroke-width="0.7"/>
<line x1="306.2" y1="93.5" x2="306.2" y2="95" stroke="#333" stroke-width="0.7"/>
<line x1="306.2" y1="99" x2="306.2" y2="100.5" stroke="#333" stroke-width="0.7"/>
<text x="306.2" y="97.9" font-size="3.1" text-anchor="middle" font-weight="normal" fill="#222">16</text>
<line x1="310.25" y1="93.5" x2="310.25" y2="95" stroke="#333" stroke-width="0.7"/>
<line x1="310.25" y1="99" x2="310.25" y2="100.5" stroke="#333" stroke-width="0.7"/>
<line x1="314.1" y1="93.5" x2="314.1" y2="95" stroke="#333" stroke-width="0.7"/>
<line x1="314.1" y1="99" x2="314.1" y2="100.5" stroke="#333" stroke-width="0.7"/>
<text x="314.1" y="97.9" font-size="3.1" text-anchor="middle" font-weight="normal" fill="#222">18</text>
<line x1="317.75" y1="93.5" x2="317.75" y2="95" stroke="#333" stroke-width="0.7"/>
<line x1="317.75" y1="99" x2="317.75" y2="100.5" stroke="#333" stroke-width="0.7"/>
<line x1="320.75" y1="93.5" x2="320.75" y2="95" stroke="#333" stroke-width="0.7"/>
<line x1="320.75" y1="99" x2="320.75" y2="100.5" stroke="#333" stroke-width="0.7"/>
<text x="320.75" y="97.9" font-size="3.1" text-anchor="middle" font-weight="normal" fill="#222">20</text>
<line x1="323.2" y1="93.5" x2="323.2" y2="95" stroke="#333" stroke-width="0.7"/>
<line x1="323.2" y1="99" x2="323.2" y2="100.5" stroke="#333" stroke-width="0.7"/>
<line x1="325.85" y1="93.5" x2="325.85" y2="95" stroke="#333" stroke-width="0.7"/>
<line x1="325.85" y1="99" x2="325.85" y2="100.5" stroke="#333" stroke-width="0.7"/>
<text x="325.85" y="97.9" font-size="3.1" text-anchor="middle" font-weight="normal" fill="#222">22</text>
<text x="199" y="44.6" font-size="4.65" text-anchor="middle" font-weight="bold" fill="#f52a2a" font-style="italic">ATP6V1B1</text>
<line x1="197.9" y1="48.4" x2="204" y2="71.1" stroke="#d83030" stroke-width="0.6"/>
<text x="269.3" y="44.6" font-size="4.5" text-anchor="middle" font-weight="bold" fill="#f52a2a" font-style="italic">BLK</text>
<line x1="266.7" y1="49.2" x2="259.7" y2="69" stroke="#d83030" stroke-width="0.6"/>
<polygon points="359.6,93.3 359.6,82.13 360.23,80.38 360.85,82.05 361.48,80.02 362.1,80.41 362.73,81.25 363.35,80.37 363.98,80.56 364.6,82.52 365.23,80.7 365.85,80.36 366.48,80.74 367.1,79.39 367.73,79.93 368.35,81.27 368.98,81.83 369.6,82.2 369.6,93.3" fill="#999999"/>
<polygon points="359.6,100.3 359.6,105.94 360.23,105.82 360.85,106.31 361.48,106.32 362.1,105.61 362.73,105.52 363.35,106.24 363.98,106.26 364.6,105.81 365.23,105.69 365.85,106.08 366.48,106.31 367.1,105.65 367.73,105.86 368.35,106.06 368.98,105.66 369.6,105.83 369.6,100.3" fill="#5cb2f5"/>
<polygon points="369.6,93.3 369.6,79.34 370.22,78.19 370.83,77.62 371.45,78.07 372.06,76.58 372.68,76.3 373.29,78.6 373.91,79.37 374.53,76.45 375.14,78.18 375.76,78.94 376.37,79.36 376.99,79.84 377.61,77.69 378.22,78.82 378.84,77.79 379.45,76.42 380.07,78.06 380.68,76.31 381.3,79.63 381.3,93.3" fill="#666666"/>
<polygon points="369.6,100.3 369.6,105.51 370.22,105.89 370.83,106.23 371.45,105.81 372.06,105.86 372.68,105.86 373.29,105.8 373.91,106.2 374.53,106.34 375.14,105.67 375.76,105.75 376.37,106.19 376.99,106.13 377.61,106.2 378.22,106.08 378.84,106.29 379.45,106.23 380.07,106.03 380.68,105.71 381.3,105.53 381.3,100.3" fill="#326a98"/>
<polygon points="381.3,93.3 381.3,79.8 381.94,82.54 382.57,80.81 383.21,81.29 383.85,79.29 384.49,79.52 385.12,79.37 385.76,79.91 386.4,81.39 387.04,80.37 387.68,80.65 388.31,81.31 388.95,81.6 389.59,80.25 390.23,79.33 390.86,81.78 391.5,81.35 391.5,93.3" fill="#999999"/>
<polygon points="381.3,100.3 381.3,105.61 381.94,106.28 382.57,106.3 383.21,105.63 383.85,105.64 384.49,106.1 385.12,105.87 385.76,105.8 386.4,106.14 387.04,105.76 387.68,105.57 388.31,105.96 388.95,106.26 389.59,106.33 390.23,105.55 390.86,106.14 391.5,105.75 391.5,100.3" fill="#5cb2f5"/>
<polygon points="391.5,93.3 391.5,79.7 392.12,79.75 392.74,80.97 393.36,78.25 393.98,80.42 394.6,80.98 395.22,81.06 395.84,77.95 396.46,79.88 397.08,78.47 397.7,81.17 398.32,79.63 398.94,78.64 399.56,78.55 400.18,80.72 400.8,79.64 400.8,93.3" fill="#666666"/>
<polygon points="391.5,100.3 391.5,105.94 392.12,106.06 392.74,106.31 393.36,106.06 393.98,105.61 394.6,105.85 395.22,105.62 395.84,105.8 396.46,106.13 397.08,106.05 397.7,106.03 398.32,106.24 398.94,106.37 399.56,105.68 400.18,106.1 400.8,106.04 400.8,100.3" fill="#326a98"/>
<polygon points="400.8,93.3 400.8,80.44 401.4,81.86 402,79.61 402.6,82.44 403.2,79.79 403.8,80.72 404.4,81.75 405,81.74 405.6,81.67 406.2,82.08 406.8,78.97 407.4,81.64 408,82.37 408.6,80.22 409.2,79.03 409.8,81.61 409.8,93.3" fill="#999999"/>
<polygon points="400.8,100.3 400.8,105.77 401.4,105.78 402,105.57 402.6,106.17 403.2,106.3 403.8,106.24 404.4,105.85 405,106.29 405.6,106.19 406.2,106.02 406.8,106.19 407.4,106.17 408,105.46 408.6,106.02 409.2,106.05 409.8,105.78 409.8,100.3" fill="#5cb2f5"/>
<polygon points="409.8,93.3 409.8,79.58 410.41,80.86 411.01,78.27 411.62,79.51 412.23,77.97 412.84,78.28 413.44,78.03 414.05,77.56 414.66,80.02 415.26,79.01 415.87,78.99 416.48,78.81 417.09,78.33 417.69,78.27 418.3,78.69 418.3,93.3" fill="#666666"/>
<polygon points="409.8,100.3 409.8,105.67 410.41,105.5 411.01,106.23 411.62,106.13 412.23,106.07 412.84,106.25 413.44,106.13 414.05,105.86 414.66,106.15 415.26,106.31 415.87,106.32 416.48,106.25 417.09,106.18 417.69,106.34 418.3,106.32 418.3,100.3" fill="#326a98"/>
<polygon points="418.3,93.3 418.3,77.98 418.91,80.66 419.53,79.03 420.14,80.93 420.76,78.55 421.37,78.02 421.99,79.94 422.6,79.7 423.21,80.85 423.83,77.84 424.44,79.85 425.06,80.08 425.67,79.69 426.29,80.53 426.9,77.42 426.9,93.3" fill="#999999"/>
<polygon points="418.3,100.3 418.3,106.02 418.91,105.62 419.53,105.9 420.14,105.77 420.76,105.47 421.37,106.08 421.99,105.53 422.6,105.73 423.21,106 423.83,106.25 424.44,106.04 425.06,106.33 425.67,105.47 426.29,106.19 426.9,106.13 426.9,100.3" fill="#5cb2f5"/>
<polygon points="426.9,93.3 426.9,78.52 427.54,79.79 428.18,81.04 428.82,78.33 429.47,77.58 430.11,77.8 430.75,78.73 431.39,78.13 432.03,80.38 432.68,80.24 433.32,77.87 433.96,79.19 434.6,80.27 434.6,93.3" fill="#666666"/>
<polygon points="426.9,100.3 426.9,106.2 427.54,105.54 428.18,106.28 428.82,106.33 429.47,105.64 430.11,105.52 430.75,106.25 431.39,105.99 432.03,106.36 432.68,105.96 433.32,105.67 433.96,105.7 434.6,106.06 434.6,100.3" fill="#326a98"/>
<polygon points="434.6,93.3 434.6,82.31 435.24,82.64 435.88,81.17 436.52,81.26 437.16,82.37 437.8,79.46 438.44,79.68 439.08,79.59 439.72,80.27 440.36,80.78 441,80.57 441,93.3" fill="#999999"/>
<polygon points="434.6,100.3 434.6,105.76 435.24,105.82 435.88,105.69 436.52,106.11 437.16,105.47 437.8,106.32 438.44,105.6 439.08,106.05 439.72,106.13 440.36,105.71 441,105.49 441,100.3" fill="#5cb2f5"/>
<polygon points="441,93.3 441,79.93 441.66,81.25 442.31,82.65 442.97,80.94 443.62,81.43 444.28,79.41 444.93,79.08 445.59,80.01 446.24,82.57 446.9,80.14 446.9,93.3" fill="#666666"/>
<polygon points="441,100.3 441,105.83 441.66,106.25 442.31,105.98 442.97,106.16 443.62,105.85 444.28,105.84 444.93,105.76 445.59,105.63 446.24,106.25 446.9,105.99 446.9,100.3" fill="#326a98"/>
<polygon points="446.9,93.3 446.9,79.05 447.51,80.13 448.12,81.83 448.73,79.05 449.34,82.09 449.95,80.89 450.55,80.49 451.16,82.14 451.77,80.1 452.38,81.69 452.99,79.68 453.6,79.05 453.6,93.3" fill="#999999"/>
<polygon points="446.9,100.3 446.9,106.3 447.51,105.58 448.12,105.77 448.73,106.27 449.34,105.73 449.95,106.12 450.55,105.93 451.16,106.32 451.77,105.59 452.38,105.92 452.99,105.75 453.6,106.11 453.6,100.3" fill="#5cb2f5"/>
<polygon points="453.6,93.3 453.6,81.88 454.25,80.89 454.89,79.77 455.54,80.3 456.18,81.14 456.83,82.29 457.47,81.06 458.12,82.65 458.76,80.91 459.41,82.3 460.05,80.16 460.7,79.42 460.7,93.3" fill="#666666"/>
<polygon points="453.6,100.3 453.6,106.29 454.25,106.26 454.89,106.32 455.54,105.76 456.18,106.23 456.83,105.82 457.47,106.31 458.12,105.49 458.76,106.03 459.41,105.9 460.05,106.24 460.7,105.65 460.7,100.3" fill="#326a98"/>
<polygon points="460.7,93.3 460.7,82.38 461.31,80.2 461.93,79.48 462.54,81.38 463.15,81.71 463.76,81.91 464.38,79.02 464.99,81.06 465.6,81.38 465.6,93.3" fill="#999999"/>
<polygon points="460.7,100.3 460.7,105.51 461.31,106.2 461.93,105.93 462.54,106.23 463.15,106.13 463.76,105.82 464.38,105.61 464.99,105.69 465.6,105.91 465.6,100.3" fill="#5cb2f5"/>
<polygon points="465.6,93.3 465.6,77.82 466.25,79.86 466.9,80.76 467.55,77.4 468.2,78.59 468.85,77.36 469.5,79.84 469.5,93.3" fill="#666666"/>
<polygon points="465.6,100.3 465.6,106.05 466.25,106.03 466.9,106.29 467.55,105.78 468.2,105.61 468.85,106.13 469.5,105.67 469.5,100.3" fill="#326a98"/>
<polygon points="469.5,93.3 469.5,75.2 470.13,72.96 470.77,75.41 471.4,74.72 472.03,74.81 472.67,73.67 473.3,75.57 473.3,93.3" fill="#999999"/>
<polygon points="469.5,100.3 469.5,105.92 470.13,106.36 470.77,105.88 471.4,106.15 472.03,106.28 472.67,105.71 473.3,105.95 473.3,100.3" fill="#5cb2f5"/>
<polygon points="473.3,93.3 473.3,74.84 474,72.58 474.7,75.27 475.4,72.94 476.1,73.46 476.8,75.65 477.5,74.71 477.5,93.3" fill="#666666"/>
<polygon points="473.3,100.3 473.3,105.46 474,106.32 474.7,105.54 475.4,106.11 476.1,106.23 476.8,106.09 477.5,105.81 477.5,100.3" fill="#326a98"/>
<polygon points="477.5,93.3 477.5,74.61 478.15,73.7 478.8,76.37 479.45,73.09 480.1,74.51 480.75,75.23 481.4,73.18 481.4,93.3" fill="#999999"/>
<polygon points="477.5,100.3 477.5,105.68 478.15,105.53 478.8,105.98 479.45,105.97 480.1,106.12 480.75,105.91 481.4,105.99 481.4,100.3" fill="#5cb2f5"/>
<polygon points="481.4,93.3 481.4,73.12 482.03,74.74 482.67,74.36 483.3,72.46 483.93,74.19 484.57,74.42 485.2,73.65 485.2,93.3" fill="#666666"/>
<polygon points="481.4,100.3 481.4,105.88 482.03,105.51 482.67,105.96 483.3,106.36 483.93,105.5 484.57,106.35 485.2,106.07 485.2,100.3" fill="#326a98"/>
<polygon points="485.2,93.3 485.2,74.24 485.9,74.7 486.6,74.37 487.3,74.17 488,75.25 488.7,74.11 488.7,93.3" fill="#999999"/>
<polygon points="485.2,100.3 485.2,105.86 485.9,105.98 486.6,106.35 487.3,105.56 488,105.74 488.7,105.77 488.7,100.3" fill="#5cb2f5"/>
<polygon points="488.7,93.3 488.7,75.09 489.33,76.35 489.95,74.61 490.58,73.21 491.2,73.99 491.2,93.3" fill="#666666"/>
<polygon points="488.7,100.3 488.7,106.26 489.33,105.89 489.95,105.74 490.58,105.96 491.2,105.8 491.2,100.3" fill="#326a98"/>
<polygon points="491.2,93.3 491.2,72.77 492,73.43 492.8,74.07 493.6,75.81 493.6,93.3" fill="#999999"/>
<polygon points="491.2,100.3 491.2,106.01 492,106.34 492.8,106.03 493.6,105.93 493.6,100.3" fill="#5cb2f5"/>
<polygon points="493.6,93.3 493.6,73.64 494.33,75.36 495.05,76.4 495.77,74.14 496.5,75.52 496.5,93.3" fill="#666666"/>
<polygon points="493.6,100.3 493.6,105.85 494.33,106.01 495.05,105.49 495.77,105.97 496.5,105.5 496.5,100.3" fill="#326a98"/>
<path d="M367.5 78.0V83.0M365.6 79.7V83.0M364.6 80.7V83.0M364.9 81.0V83.0M365.7 78.5V83.0M366.2 80.6V83.0M360.8 80.2V83.0M366.3 79.3V83.0M366.9 79.8V83.0M363.7 74.4V83.0M361.5 80.7V83.0M365.4 78.5V83.0M364.0 79.0V83.0M364.1 78.2V83.0M368.2 76.3V83.0M365.9 79.6V83.0M368.7 79.7V83.0M365.8 75.4V83.0M366.3 80.0V83.0M366.8 78.7V83.0M368.4 78.5V83.0M364.9 70.6V83.0M383.2 80.1V83.0M385.4 81.1V83.0M387.8 80.2V83.0M389.3 80.6V83.0M388.6 69.9V83.0M383.3 80.1V83.0M390.8 79.9V83.0M384.8 80.9V83.0M389.5 80.3V83.0M390.0 79.0V83.0M383.4 66.8V83.0M390.2 77.3V83.0M387.4 77.3V83.0M390.6 80.8V83.0M384.0 77.2V83.0M385.6 69.0V83.0M389.5 79.3V83.0M383.2 78.6V83.0M387.4 78.9V83.0M389.0 79.5V83.0M390.1 78.8V83.0M383.2 76.3V83.0M403.1 78.8V83.0M403.9 79.6V83.0M405.9 62.6V83.0M404.3 80.1V83.0M407.0 78.9V83.0M408.4 79.7V83.0M406.4 79.3V83.0M406.1 79.4V83.0M402.5 81.0V83.0M404.5 66.5V83.0M405.3 79.7V83.0M407.6 80.1V83.0M404.4 80.2V83.0M405.9 79.5V83.0M406.1 73.3V83.0M404.0 78.5V83.0M409.3 77.4V83.0M408.1 76.5V83.0M402.8 78.5V83.0M426.0 77.5V81.4M421.8 77.9V81.4M426.0 79.8V81.4M420.4 76.5V81.4M421.1 77.8V81.4M419.5 78.2V81.4M426.0 76.3V81.4M423.3 74.2V81.4M420.1 76.2V81.4M426.2 78.5V81.4M418.8 77.1V81.4M425.8 79.5V81.4M420.8 76.3V81.4M422.8 65.6V81.4M423.0 78.5V81.4M421.5 77.9V81.4M424.8 75.6V81.4M422.1 78.5V81.4M436.0 81.4V83.0M440.4 74.7V83.0M436.6 79.2V83.0M435.7 76.3V83.0M440.1 69.9V83.0M435.5 70.6V83.0M435.6 77.3V83.0M440.4 80.8V83.0M438.3 76.6V83.0M439.4 76.3V83.0M438.7 79.3V83.0M438.0 77.2V83.0M439.2 78.2V83.0M439.9 80.5V83.0M452.8 81.1V83.0M450.2 78.0V83.0M447.5 81.4V83.0M451.9 77.8V83.0M448.4 77.5V83.0M452.1 80.4V83.0M450.6 77.1V83.0M447.7 77.7V83.0M453.0 69.5V83.0M453.2 76.5V83.0M452.8 80.0V83.0M449.0 76.9V83.0M448.7 80.6V83.0M450.9 79.9V83.0M463.4 78.1V83.0M462.9 78.7V83.0M461.6 80.9V83.0M462.5 78.7V83.0M463.1 80.4V83.0M462.5 81.3V83.0M463.9 75.6V83.0M464.1 77.3V83.0M462.2 80.3V83.0M462.9 80.9V83.0M470.0 70.7V76.8M470.6 72.0V76.8M472.0 72.7V76.8M471.8 74.2V76.8M472.5 74.3V76.8M472.7 74.0V76.8M471.8 73.2V76.8M470.8 74.5V76.8M478.4 75.0V76.8M480.6 68.5V76.8M478.7 74.1V76.8M480.0 74.2V76.8M479.5 74.6V76.8M480.7 74.4V76.8M479.5 69.7V76.8M480.6 72.0V76.8M488.0 74.7V76.8M486.0 68.9V76.8M487.7 74.4V76.8M486.2 68.2V76.8M486.2 75.1V76.8M486.0 74.6V76.8M488.3 66.5V76.8M492.4 72.7V76.8M492.8 66.6V76.8M492.1 73.5V76.8M493.1 71.1V76.8M491.8 74.3V76.8" stroke="#999999" stroke-width="0.8" fill="none"/>
<path d="M361.2 104.9V106.5M362.1 104.9V105.9M363.6 104.9V106.0M361.0 104.9V106.0M363.8 104.9V106.2M366.7 104.9V106.4M362.2 104.9V106.0M362.7 104.9V107.3M361.8 104.9V106.5M367.5 104.9V107.8M364.2 104.9V107.9M365.9 104.9V106.1M360.8 104.9V106.0M367.3 104.9V106.4M367.8 104.9V109.6M368.5 104.9V106.5M360.0 104.9V106.2M362.0 104.9V107.0M366.5 104.9V108.6M366.5 104.9V109.3M365.9 104.9V106.5M367.8 104.9V106.2M367.2 104.9V107.2M368.0 104.9V105.9M361.7 104.9V109.1M390.9 104.9V106.4M382.6 104.9V106.3M386.5 104.9V106.0M389.0 104.9V106.3M388.7 104.9V106.1M386.3 104.9V107.0M383.6 104.9V106.2M389.7 104.9V106.4M384.9 104.9V106.9M388.2 104.9V108.0M387.0 104.9V107.9M390.2 104.9V108.7M390.4 104.9V107.1M388.3 104.9V106.4M382.6 104.9V108.6M385.6 104.9V106.3M386.9 104.9V107.4M389.6 104.9V106.0M389.1 104.9V108.9M391.0 104.9V108.9M387.1 104.9V108.2M387.3 104.9V107.9M391.1 104.9V106.3M382.8 104.9V107.3M390.6 104.9V108.4M407.9 104.9V107.3M401.9 104.9V106.4M401.2 104.9V106.3M402.0 104.9V105.8M403.6 104.9V107.2M402.6 104.9V109.7M402.7 104.9V107.8M403.4 104.9V108.1M405.4 104.9V107.8M404.8 104.9V106.2M408.5 104.9V105.8M402.2 104.9V106.0M405.8 104.9V107.4M403.2 104.9V106.8M408.3 104.9V105.8M407.5 104.9V106.0M401.3 104.9V106.6M404.4 104.9V106.4M406.4 104.9V105.8M406.2 104.9V106.0M409.0 104.9V106.5M402.9 104.9V106.6M424.3 104.9V109.4M419.1 104.9V105.9M426.2 104.9V108.2M419.5 104.9V106.5M425.6 104.9V106.8M418.8 104.9V106.1M425.3 104.9V106.0M420.9 104.9V107.7M420.1 104.9V106.8M420.0 104.9V106.0M423.0 104.9V107.5M421.7 104.9V106.1M424.3 104.9V107.2M418.7 104.9V107.0M422.8 104.9V110.4M423.4 104.9V106.9M419.2 104.9V106.5M419.0 104.9V106.0M422.6 104.9V107.9M426.3 104.9V107.8M422.6 104.9V106.5M440.6 104.9V108.5M437.8 104.9V106.1M437.7 104.9V106.9M435.6 104.9V106.9M438.9 104.9V106.1M436.9 104.9V106.4M436.5 104.9V106.5M435.6 104.9V106.3M439.9 104.9V107.0M437.5 104.9V106.0M436.9 104.9V107.2M437.7 104.9V107.4M438.9 104.9V106.6M438.9 104.9V106.6M436.9 104.9V110.4M453.0 104.9V107.1M453.1 104.9V107.9M450.0 104.9V106.1M447.5 104.9V106.3M449.3 104.9V106.8M453.1 104.9V106.6M448.4 104.9V107.8M449.4 104.9V107.0M451.3 104.9V107.0M447.8 104.9V105.9M451.7 104.9V106.5M451.2 104.9V108.3M449.2 104.9V106.3M451.6 104.9V106.0M450.3 104.9V105.9M451.8 104.9V106.2M463.8 104.9V106.2M462.5 104.9V106.1M462.5 104.9V106.3M463.1 104.9V105.9M464.4 104.9V107.5M463.6 104.9V107.4M463.5 104.9V106.6M464.9 104.9V108.8M465.0 104.9V110.3M462.4 104.9V106.3M464.3 104.9V106.3M462.9 104.9V106.4M470.2 104.9V109.3M472.2 104.9V107.0M472.7 104.9V108.2M471.7 104.9V107.7M471.5 104.9V108.5M471.1 104.9V107.2M470.9 104.9V106.9M472.7 104.9V107.1M470.3 104.9V107.3M479.8 104.9V109.0M480.7 104.9V106.8M480.8 104.9V107.2M478.3 104.9V106.8M478.6 104.9V107.4M479.1 104.9V107.7M480.6 104.9V109.0M478.3 104.9V106.8M480.1 104.9V108.1M488.0 104.9V108.6M488.0 104.9V108.8M485.7 104.9V107.4M486.5 104.9V106.7M488.3 104.9V107.1M486.0 104.9V107.5M485.6 104.9V107.6M487.0 104.9V109.2M493.1 104.9V108.8M493.2 104.9V107.7M492.7 104.9V107.6M492.1 104.9V107.4M491.7 104.9V108.4" stroke="#5cb2f5" stroke-width="0.8" fill="none"/>
<path d="M378.3 74.5V80.2M380.5 78.5V80.2M375.5 76.2V80.2M376.5 76.7V80.2M373.0 71.7V80.2M379.6 75.0V80.2M380.5 76.2V80.2M370.9 75.1V80.2M371.1 74.5V80.2M377.1 77.9V80.2M371.7 78.4V80.2M371.9 67.3V80.2M372.5 72.2V80.2M371.5 77.4V80.2M375.1 77.3V80.2M380.5 77.8V80.2M375.3 77.9V80.2M371.2 75.2V80.2M373.7 76.6V80.2M377.6 78.4V80.2M370.6 75.2V80.2M380.8 78.6V80.2M374.9 63.1V80.2M379.1 65.2V80.2M375.8 68.1V80.2M398.8 72.9V81.7M392.7 77.6V81.7M399.5 77.3V81.7M398.6 79.1V81.7M396.1 80.1V81.7M398.7 77.7V81.7M393.4 71.8V81.7M393.7 80.1V81.7M398.1 79.9V81.7M397.5 79.8V81.7M392.1 76.2V81.7M397.1 77.0V81.7M397.9 76.4V81.7M393.4 78.6V81.7M396.9 74.2V81.7M397.4 78.2V81.7M398.9 74.7V81.7M394.0 79.6V81.7M391.9 74.1V81.7M393.7 77.6V81.7M414.8 77.6V81.4M411.3 78.9V81.4M411.1 77.2V81.4M414.9 79.1V81.4M413.1 73.9V81.4M411.4 77.6V81.4M414.1 78.0V81.4M412.4 70.8V81.4M414.5 77.8V81.4M410.8 79.8V81.4M413.8 79.0V81.4M415.5 76.2V81.4M410.7 78.5V81.4M412.6 76.8V81.4M414.6 74.0V81.4M410.5 77.9V81.4M415.8 79.3V81.4M410.5 78.1V81.4M431.8 76.1V81.4M433.4 79.5V81.4M429.4 77.7V81.4M433.1 67.0V81.4M428.0 78.7V81.4M430.2 72.0V81.4M431.8 78.8V81.4M431.3 79.2V81.4M433.2 78.3V81.4M431.2 75.1V81.4M430.8 79.7V81.4M429.7 79.8V81.4M430.3 67.4V81.4M432.6 68.9V81.4M428.3 76.5V81.4M432.7 78.1V81.4M442.4 79.0V83.0M445.6 81.2V83.0M446.4 76.1V83.0M443.6 79.2V83.0M443.2 76.1V83.0M446.3 79.6V83.0M445.4 81.1V83.0M442.1 73.7V83.0M442.3 77.5V83.0M445.1 81.2V83.0M445.7 79.0V83.0M444.0 77.7V83.0M456.3 71.3V83.0M457.8 79.7V83.0M457.5 76.7V83.0M458.7 74.4V83.0M459.8 80.8V83.0M459.7 74.4V83.0M456.3 78.3V83.0M456.8 80.2V83.0M456.8 70.5V83.0M456.2 81.3V83.0M459.1 80.7V83.0M454.1 80.7V83.0M455.3 78.9V83.0M454.6 74.9V83.0M458.5 71.9V83.0M466.1 79.4V81.1M467.5 78.4V81.1M466.5 71.6V81.1M469.0 78.8V81.1M468.6 69.9V81.1M467.9 78.8V81.1M466.2 78.4V81.1M466.2 72.5V81.1M476.5 71.9V76.1M475.3 71.2V76.1M477.0 65.3V76.1M474.9 73.8V76.1M476.1 72.2V76.1M476.8 67.9V76.1M476.6 74.5V76.1M474.7 68.3V76.1M476.8 74.2V76.1M484.2 73.6V76.1M483.2 69.2V76.1M483.8 74.2V76.1M483.6 72.6V76.1M483.1 72.1V76.1M482.1 71.0V76.1M481.9 73.7V76.1M483.3 74.1V76.1M490.3 73.4V76.8M489.6 73.6V76.8M490.1 72.5V76.8M489.6 71.4V76.8M489.9 69.2V76.8M494.3 75.0V76.8M494.7 75.0V76.8M494.7 69.7V76.8M495.7 69.5V76.8M495.7 73.5V76.8M494.8 67.8V76.8" stroke="#666666" stroke-width="0.8" fill="none"/>
<path d="M379.4 104.9V108.0M379.8 104.9V106.2M378.1 104.9V108.7M372.2 104.9V105.8M371.8 104.9V106.1M377.4 104.9V107.7M379.0 104.9V107.1M380.8 104.9V109.8M374.8 104.9V108.6M377.9 104.9V106.1M376.4 104.9V106.0M374.3 104.9V107.7M370.0 104.9V106.7M374.7 104.9V106.2M370.6 104.9V106.6M373.6 104.9V105.9M374.4 104.9V107.1M370.8 104.9V107.5M370.8 104.9V106.5M374.0 104.9V108.0M379.8 104.9V107.3M373.2 104.9V106.3M379.1 104.9V106.6M377.0 104.9V107.2M372.0 104.9V106.4M380.5 104.9V106.3M379.3 104.9V106.0M370.1 104.9V106.6M373.0 104.9V106.8M392.0 104.9V110.4M395.3 104.9V107.0M393.8 104.9V106.4M392.8 104.9V109.6M392.2 104.9V105.9M398.1 104.9V106.8M394.6 104.9V108.9M397.9 104.9V106.5M398.0 104.9V108.9M399.4 104.9V106.3M398.5 104.9V106.1M395.2 104.9V110.4M398.2 104.9V106.4M396.5 104.9V106.5M398.0 104.9V106.6M395.7 104.9V106.4M399.5 104.9V107.6M393.9 104.9V106.4M399.6 104.9V107.3M397.0 104.9V106.9M393.6 104.9V106.7M398.3 104.9V106.5M395.4 104.9V106.4M415.1 104.9V106.4M415.6 104.9V109.9M410.8 104.9V106.4M411.2 104.9V105.9M414.6 104.9V106.0M410.9 104.9V106.8M414.5 104.9V106.6M410.3 104.9V106.0M414.4 104.9V105.9M411.0 104.9V106.3M417.6 104.9V107.4M417.1 104.9V107.5M410.9 104.9V107.2M415.4 104.9V108.6M410.6 104.9V106.0M411.1 104.9V106.4M412.8 104.9V106.2M416.2 104.9V108.9M417.5 104.9V105.9M411.4 104.9V106.5M416.2 104.9V107.4M429.6 104.9V110.2M432.7 104.9V106.8M433.4 104.9V107.6M429.9 104.9V106.8M430.2 104.9V105.9M428.0 104.9V106.2M427.4 104.9V108.1M430.8 104.9V106.1M427.8 104.9V107.1M430.2 104.9V108.0M431.6 104.9V105.9M434.1 104.9V108.2M429.8 104.9V107.6M431.7 104.9V105.9M428.9 104.9V106.2M431.2 104.9V106.6M431.2 104.9V105.9M429.8 104.9V106.0M429.9 104.9V110.4M446.2 104.9V106.9M445.3 104.9V106.8M443.9 104.9V107.9M442.0 104.9V106.9M441.3 104.9V106.0M446.5 104.9V105.8M445.6 104.9V110.4M445.0 104.9V110.0M442.1 104.9V107.2M444.6 104.9V106.6M441.7 104.9V105.9M445.6 104.9V106.0M444.9 104.9V106.0M444.7 104.9V105.9M458.5 104.9V106.3M460.3 104.9V106.6M456.5 104.9V107.9M458.2 104.9V107.0M458.2 104.9V106.8M458.7 104.9V107.3M458.5 104.9V105.9M458.2 104.9V110.4M458.5 104.9V106.7M454.7 104.9V106.6M456.8 104.9V106.0M455.9 104.9V106.2M454.1 104.9V106.5M459.1 104.9V106.9M460.0 104.9V108.5M458.0 104.9V106.0M454.1 104.9V106.8M467.3 104.9V108.6M469.1 104.9V106.3M467.1 104.9V106.6M467.0 104.9V105.8M466.3 104.9V106.5M467.4 104.9V108.8M466.3 104.9V106.0M466.0 104.9V106.2M466.3 104.9V106.8M475.3 104.9V107.0M473.8 104.9V106.8M474.0 104.9V109.7M474.0 104.9V109.1M474.6 104.9V107.9M476.0 104.9V107.0M473.7 104.9V107.0M476.3 104.9V107.4M474.3 104.9V107.2M475.3 104.9V110.4M484.1 104.9V106.9M482.3 104.9V107.6M484.1 104.9V106.8M481.9 104.9V109.7M484.1 104.9V108.6M481.7 104.9V106.9M483.6 104.9V109.0M482.4 104.9V108.2M484.0 104.9V107.7M490.2 104.9V107.2M489.4 104.9V106.8M489.4 104.9V106.8M489.7 104.9V108.1M489.3 104.9V110.3M489.9 104.9V108.4M495.5 104.9V107.7M495.1 104.9V107.7M494.8 104.9V107.3M494.2 104.9V107.7M496.0 104.9V107.4M495.6 104.9V107.5M495.1 104.9V108.8" stroke="#326a98" stroke-width="0.8" fill="none"/>
<path d="M365.1 61.8V80.5M361.3 73.0V80.5M384.1 63.0V80.5M388.5 61.8V80.5M403.4 61.8V80.5M405.1 62.0V80.5M419.2 61.8V80.5M422.7 61.8V80.5M426.5 61.8V80.5M437.1 61.8V80.5M440.6 61.8V80.5M448.2 61.8V80.5M449.8 61.8V80.5M471.0 61.8V80.5M480.1 61.8V80.5M485.3 61.8V80.5M486.8 61.8V80.5" stroke="#8c8c8c" stroke-width="1.0" fill="none"/>
<path d="M365.1 54.5V61.8M388.5 47.5V61.8M403.4 37.8V61.8M419.2 37.8V61.8M422.7 59.0V61.8M426.5 19.4V61.8M437.1 49.2V61.8M440.6 54.4V61.8M448.2 43.9V61.8M449.8 52.0V61.8M471.0 29.9V61.8M480.1 40.4V61.8M485.3 38.7V61.8M486.8 46.0V61.8" stroke="#8f8f8f" stroke-width="0.95" fill="none" stroke-dasharray="1 0.7 0.7 0.9"/>
<path d="M371.5 62.0V80.5M373.9 61.8V80.5M375.3 61.8V80.5M377.9 61.8V80.5M378.8 61.8V80.5M395.1 61.8V80.5M396.4 61.8V80.5M410.0 61.8V80.5M413.0 61.8V80.5M415.7 61.8V80.5M428.9 61.8V80.5M443.3 61.8V80.5M453.8 61.8V80.5M455.8 62.0V80.5M474.8 61.8V80.5M476.3 61.8V80.5M490.6 61.8V80.5M495.0 64.0V80.5" stroke="#555555" stroke-width="1.0" fill="none"/>
<path d="M373.9 45.7V61.8M375.3 50.0V61.8M377.9 46.6V61.8M378.8 56.0V61.8M395.1 21.1V61.8M396.4 52.0V61.8M410.0 33.4V61.8M413.0 42.2V61.8M415.7 59.0V61.8M428.9 37.8V61.8M443.3 60.6V61.8M453.8 54.4V61.8M474.8 17.6V61.8M476.3 40.0V61.8M490.6 43.9V61.8" stroke="#5a5a5a" stroke-width="0.95" fill="none" stroke-dasharray="1 0.7 0.7 0.9"/>
<path d="M377.3 61.3V80.5M381.5 61.8V80.5M377.3 62.4V80.5M377.3 61.2V80.5M379.0 69.3V80.5M380.8 70.8V80.5M381.7 67.3V80.5M376.4 66.7V80.5M378.3 64.6V80.5M375.6 63.1V80.5M377.2 62.9V80.5M379.5 62.4V80.5M376.6 62.2V80.5M379.3 57.0V80.5" stroke="#5a5a5a" stroke-width="0.8" fill="none" stroke-dasharray="1.2 0.4 0.8 0.5"/>
<polygon points="359.6,100.3 359.6,114.88 360.23,116.27 360.85,114.84 361.48,115.34 362.1,115.67 362.73,115.67 363.35,116.04 363.98,115.53 364.6,115.55 365.23,115.18 365.85,115.04 366.48,114.45 367.1,114.6 367.73,114.84 368.35,114.43 368.98,116.54 369.6,116.14 369.6,100.3" fill="#5cb2f5"/>
<polygon points="369.6,100.3 369.6,114.8 370.22,115.83 370.83,116.64 371.45,116.75 372.06,116.58 372.68,114.74 373.29,114.7 373.91,115.06 374.53,116.43 375.14,116.33 375.76,115.93 376.37,115.68 376.99,115.1 377.61,114.65 378.22,115.8 378.84,115.8 379.45,116.15 380.07,114.7 380.68,116.29 381.3,114.49 381.3,100.3" fill="#326a98"/>
<polygon points="381.3,100.3 381.3,116 381.94,116.18 382.57,115.41 383.21,115.29 383.85,114.99 384.49,116.4 385.12,116.59 385.76,114.85 386.4,116.68 387.04,115.22 387.68,116.58 388.31,116.35 388.95,116 389.59,114.57 390.23,115.23 390.86,116.06 391.5,115.89 391.5,100.3" fill="#5cb2f5"/>
<polygon points="391.5,100.3 391.5,115.47 392.12,115.94 392.74,114.45 393.36,115.83 393.98,115.53 394.6,115.64 395.22,116.13 395.84,116.37 396.46,114.6 397.08,114.74 397.7,115.39 398.32,115.73 398.94,114.87 399.56,116.49 400.18,116.15 400.8,116.7 400.8,100.3" fill="#326a98"/>
<polygon points="400.8,100.3 400.8,114.58 401.4,115.39 402,115.65 402.6,116.56 403.2,114.83 403.8,115.14 404.4,116.15 405,116.32 405.6,115 406.2,114.86 406.8,115.2 407.4,116.18 408,115.65 408.6,116.78 409.2,114.5 409.8,116.76 409.8,100.3" fill="#5cb2f5"/>
<polygon points="409.8,100.3 409.8,116.03 410.41,116.14 411.01,115.3 411.62,116.58 412.23,115.59 412.84,115.96 413.44,114.48 414.05,116.17 414.66,115.61 415.26,114.89 415.87,116.01 416.48,114.71 417.09,114.94 417.69,115.39 418.3,115.08 418.3,100.3" fill="#326a98"/>
<polygon points="418.3,100.3 418.3,115.31 418.91,115.04 419.53,116.44 420.14,114.93 420.76,114.97 421.37,115.05 421.99,116.59 422.6,115.93 423.21,115.01 423.83,116.74 424.44,116.2 425.06,116.29 425.67,115.07 426.29,114.55 426.9,116.57 426.9,100.3" fill="#5cb2f5"/>
<polygon points="426.9,100.3 426.9,115.53 427.54,115.59 428.18,116.66 428.82,115.85 429.47,114.56 430.11,115.73 430.75,116.36 431.39,114.92 432.03,115.93 432.68,116.2 433.32,115.52 433.96,116.6 434.6,115.61 434.6,100.3" fill="#326a98"/>
<polygon points="434.6,100.3 434.6,115.15 435.24,115.34 435.88,115.89 436.52,115.6 437.16,116.41 437.8,116.76 438.44,115.99 439.08,114.52 439.72,116.63 440.36,115.05 441,115.72 441,100.3" fill="#5cb2f5"/>
<polygon points="441,100.3 441,115.41 441.66,115.09 442.31,114.73 442.97,116.37 443.62,114.88 444.28,115.84 444.93,116.05 445.59,115.07 446.24,115.34 446.9,116.73 446.9,100.3" fill="#326a98"/>
<polygon points="446.9,100.3 446.9,115.85 447.51,115.95 448.12,115.01 448.73,115.11 449.34,114.88 449.95,115.92 450.55,115.56 451.16,115.1 451.77,115.83 452.38,114.57 452.99,116.19 453.6,116.49 453.6,100.3" fill="#5cb2f5"/>
<polygon points="453.6,100.3 453.6,115.19 454.25,115.26 454.89,114.69 455.54,114.51 456.18,115.21 456.83,116.4 457.47,115.68 458.12,116.01 458.76,115.87 459.41,115.35 460.05,116.16 460.7,116 460.7,100.3" fill="#326a98"/>
<polygon points="460.7,100.3 460.7,114.96 461.31,114.47 461.93,116.76 462.54,115.98 463.15,116.54 463.76,115.44 464.38,116.76 464.99,116.03 465.6,116.29 465.6,100.3" fill="#5cb2f5"/>
<polygon points="465.6,100.3 465.6,116 466.25,114.71 466.9,115.21 467.55,116.71 468.2,114.75 468.85,115.59 469.5,115.56 469.5,100.3" fill="#326a98"/>
<polygon points="469.5,100.3 469.5,115.22 470.13,115.97 470.77,115.23 471.4,115.51 472.03,116.19 472.67,115.14 473.3,115.07 473.3,100.3" fill="#5cb2f5"/>
<polygon points="473.3,100.3 473.3,115.01 474,116.59 474.7,116.55 475.4,115.47 476.1,115.44 476.8,114.44 477.5,114.62 477.5,100.3" fill="#326a98"/>
<polygon points="477.5,100.3 477.5,116.43 478.15,115.25 478.8,115.32 479.45,114.81 480.1,114.46 480.75,115.65 481.4,115.2 481.4,100.3" fill="#5cb2f5"/>
<polygon points="481.4,100.3 481.4,114.73 482.03,115 482.67,116.77 483.3,116.75 483.93,115.84 484.57,115.95 485.2,116.02 485.2,100.3" fill="#326a98"/>
<polygon points="485.2,100.3 485.2,115.87 485.9,114.99 486.6,114.83 487.3,115.9 488,115.68 488.7,115.57 488.7,100.3" fill="#5cb2f5"/>
<polygon points="488.7,100.3 488.7,115.15 489.33,115.43 489.95,116.52 490.58,116.76 491.2,114.56 491.2,100.3" fill="#326a98"/>
<polygon points="491.2,100.3 491.2,114.75 492,115.75 492.8,115.54 493.6,114.66 493.6,100.3" fill="#5cb2f5"/>
<polygon points="493.6,100.3 493.6,115.8 494.33,115.44 495.05,116.17 495.77,116.79 496.5,116.6 496.5,100.3" fill="#326a98"/>
<path d="M365.7 118.2v0.8M359.6 116.2v0.8M366.3 121.2v0.8M364.5 122.4v0.8M360.3 118.5v0.8M361.4 120.8v0.8M365.6 117.8v0.8M360.9 115.9v0.8M363.4 117.1v0.8M361.8 116.9v0.8M368.4 120.7v0.8M369.0 120.9v0.8M360.0 116.2v0.8M361.9 117.2v0.8M367.7 117.8v0.8M369.3 119.8v0.8M367.2 121.4v0.8M361.4 122.9v0.8M369.2 117.6v0.8M368.8 118.5v0.8M364.2 120.8v0.8M360.4 116.5v0.8M361.5 117.8v0.8M359.9 123.4v0.8M368.5 115.5v0.8M362.7 116.8v0.8M366.1 117.2v0.8M362.8 117.4v0.8M367.3 115.6v0.8M362.8 116.4v0.8M366.6 125.0v0.8M363.4 117.9v0.8M367.5 120.1v0.8M368.0 117.2v0.8M360.6 119.1v0.8M361.9 125.3v0.8M369.5 116.5v0.8M364.2 115.5v0.8M368.7 120.8v0.8M364.1 119.8v0.8M365.4 118.6v0.8M368.1 122.0v0.8M364.2 116.2v0.8M360.3 117.7v0.8M365.8 117.3v0.8M362.8 120.6v0.8M362.9 116.8v0.8M369.3 115.8v0.8M362.5 119.4v0.8M362.3 125.4v0.8M362.4 116.5v0.8M363.9 117.8v0.8M360.8 118.8v0.8M362.3 132.6v0.8M369.3 123.6v0.8M363.0 138.2v0.8M362.5 128.0v0.8M362.1 126.2v0.8M369.4 126.6v0.8M361.5 128.1v0.8M360.4 131.2v0.8M367.4 122.1v0.8M362.6 122.8v0.8M360.3 122.4v0.8M361.6 124.2v0.8M362.6 123.4v0.8M363.1 126.0v0.8M368.7 151.0v0.8M369.4 121.9v0.8M389.9 121.3v0.8M383.8 118.1v0.8M382.3 115.7v0.8M386.4 124.7v0.8M388.3 123.4v0.8M390.0 117.2v0.8M386.3 118.7v0.8M387.0 118.2v0.8M382.3 119.8v0.8M386.3 116.8v0.8M383.9 121.9v0.8M382.4 116.0v0.8M390.4 123.0v0.8M390.4 125.3v0.8M391.1 116.2v0.8M386.1 115.6v0.8M384.7 116.2v0.8M387.1 118.6v0.8M385.9 125.3v0.8M390.3 119.9v0.8M385.2 116.1v0.8M389.3 116.7v0.8M387.0 117.6v0.8M386.8 118.7v0.8M383.8 122.0v0.8M383.7 117.0v0.8M390.3 122.5v0.8M388.8 122.0v0.8M384.2 118.8v0.8M389.6 119.1v0.8M383.2 127.1v0.8M383.1 119.2v0.8M385.3 117.0v0.8M382.1 117.4v0.8M389.5 116.5v0.8M386.2 116.8v0.8M387.1 120.0v0.8M389.3 119.1v0.8M389.8 116.5v0.8M390.6 117.0v0.8M391.1 119.4v0.8M387.9 119.7v0.8M389.8 117.0v0.8M385.7 119.4v0.8M388.3 117.2v0.8M390.1 115.8v0.8M385.2 124.8v0.8M390.3 115.9v0.8M390.7 121.0v0.8M382.0 118.7v0.8M388.8 127.4v0.8M389.8 131.0v0.8M389.5 123.5v0.8M390.0 130.3v0.8M381.9 130.9v0.8M382.7 126.7v0.8M387.1 122.8v0.8M384.4 135.8v0.8M387.2 131.0v0.8M386.8 136.5v0.8M381.7 128.5v0.8M386.9 132.6v0.8M386.4 126.0v0.8M388.2 141.1v0.8M385.5 125.0v0.8M405.7 116.9v0.8M409.5 117.3v0.8M402.4 115.8v0.8M400.9 118.9v0.8M409.1 118.4v0.8M406.8 116.5v0.8M407.2 121.2v0.8M404.7 117.6v0.8M404.9 116.8v0.8M403.0 116.9v0.8M401.5 119.2v0.8M408.6 117.2v0.8M401.8 117.4v0.8M409.5 119.3v0.8M401.3 118.4v0.8M404.5 117.8v0.8M405.0 118.8v0.8M403.7 117.5v0.8M406.1 116.5v0.8M401.2 117.1v0.8M407.5 120.2v0.8M406.1 115.9v0.8M406.6 125.8v0.8M405.9 121.5v0.8M403.3 117.8v0.8M402.2 115.8v0.8M404.3 120.9v0.8M403.5 120.9v0.8M401.4 127.3v0.8M403.6 123.0v0.8M405.8 118.8v0.8M404.4 123.5v0.8M402.9 119.7v0.8M406.9 121.0v0.8M407.9 116.2v0.8M409.6 118.1v0.8M405.2 123.7v0.8M404.3 123.8v0.8M402.7 116.9v0.8M405.3 116.5v0.8M404.1 117.0v0.8M404.0 117.6v0.8M408.6 115.9v0.8M409.4 124.1v0.8M406.1 139.0v0.8M407.7 134.3v0.8M402.4 132.5v0.8M403.2 124.9v0.8M401.8 125.6v0.8M403.2 142.2v0.8M407.3 127.0v0.8M407.5 124.1v0.8M406.1 122.0v0.8M408.0 135.8v0.8M404.0 129.0v0.8M402.1 127.7v0.8M408.3 123.4v0.8M419.0 121.0v0.8M426.0 120.2v0.8M418.6 117.2v0.8M418.6 122.1v0.8M423.5 122.4v0.8M421.5 117.6v0.8M422.3 115.5v0.8M421.8 117.7v0.8M424.9 118.8v0.8M420.0 118.0v0.8M422.6 122.4v0.8M422.2 119.3v0.8M423.4 122.5v0.8M424.5 118.5v0.8M421.4 116.5v0.8M424.5 117.9v0.8M421.8 116.8v0.8M423.7 115.8v0.8M423.3 120.4v0.8M425.8 119.1v0.8M419.6 115.7v0.8M424.8 121.9v0.8M420.7 116.0v0.8M419.1 117.0v0.8M421.3 121.1v0.8M424.4 123.5v0.8M418.9 124.9v0.8M424.7 122.8v0.8M418.5 119.5v0.8M422.6 116.3v0.8M424.4 116.2v0.8M421.7 120.5v0.8M420.3 116.7v0.8M422.1 117.7v0.8M420.5 117.0v0.8M425.4 125.8v0.8M422.4 115.6v0.8M420.6 121.6v0.8M425.0 115.9v0.8M421.1 120.7v0.8M424.0 117.1v0.8M420.6 116.3v0.8M421.7 119.1v0.8M422.1 115.9v0.8M424.1 119.1v0.8M419.4 155.2v0.8M422.7 134.9v0.8M425.0 125.9v0.8M423.9 139.8v0.8M419.6 129.6v0.8M421.2 124.3v0.8M419.2 134.5v0.8M422.7 143.4v0.8M423.4 127.0v0.8M425.0 122.8v0.8M422.8 123.9v0.8M425.0 124.9v0.8M420.4 128.7v0.8M440.7 118.0v0.8M440.1 116.4v0.8M436.9 115.6v0.8M437.3 118.5v0.8M440.1 117.2v0.8M436.6 116.2v0.8M437.4 116.5v0.8M436.2 118.5v0.8M438.5 120.0v0.8M434.9 116.1v0.8M437.3 120.3v0.8M438.3 117.0v0.8M436.4 116.9v0.8M439.0 116.9v0.8M439.7 123.5v0.8M437.6 115.6v0.8M435.6 121.8v0.8M434.7 122.2v0.8M440.2 117.1v0.8M435.9 116.9v0.8M439.1 115.6v0.8M436.5 116.3v0.8M435.8 115.7v0.8M439.2 115.6v0.8M437.0 118.9v0.8M436.8 119.6v0.8M439.9 115.6v0.8M439.8 120.8v0.8M439.1 118.3v0.8M440.1 117.6v0.8M439.0 116.5v0.8M439.0 116.7v0.8M436.8 116.6v0.8M437.0 127.1v0.8M438.5 135.4v0.8M440.1 125.4v0.8M438.5 139.8v0.8M437.9 133.4v0.8M439.1 148.6v0.8M435.5 133.8v0.8M435.9 131.5v0.8M435.2 122.0v0.8M440.8 136.8v0.8M450.9 115.7v0.8M447.3 122.4v0.8M447.3 119.1v0.8M453.5 116.0v0.8M450.9 115.6v0.8M450.0 116.7v0.8M451.6 120.9v0.8M452.0 117.5v0.8M450.5 122.4v0.8M447.8 116.1v0.8M452.5 119.7v0.8M452.7 117.6v0.8M451.3 123.3v0.8M447.3 115.7v0.8M452.2 118.3v0.8M452.0 121.3v0.8M452.1 123.8v0.8M449.2 118.0v0.8M452.2 116.1v0.8M449.7 123.1v0.8M448.6 116.3v0.8M447.8 117.9v0.8M448.8 119.1v0.8M448.8 122.4v0.8M447.1 117.8v0.8M452.8 116.8v0.8M450.9 116.7v0.8M451.2 118.5v0.8M447.8 120.2v0.8M449.7 121.8v0.8M449.3 126.0v0.8M447.1 121.9v0.8M449.9 116.0v0.8M450.3 122.5v0.8M451.1 117.6v0.8M453.1 124.7v0.8M449.8 126.0v0.8M448.1 127.0v0.8M448.8 124.7v0.8M452.7 136.8v0.8M451.7 131.8v0.8M450.6 131.9v0.8M453.2 127.0v0.8M447.9 123.0v0.8M450.0 134.7v0.8M462.3 116.2v0.8M462.4 117.5v0.8M463.1 120.5v0.8M464.3 121.1v0.8M460.7 119.1v0.8M463.7 116.8v0.8M463.1 123.0v0.8M461.8 116.5v0.8M463.7 117.6v0.8M465.0 118.6v0.8M463.1 116.9v0.8M465.4 115.8v0.8M464.9 119.6v0.8M464.0 116.5v0.8M462.2 125.0v0.8M463.4 116.7v0.8M463.3 115.8v0.8M462.4 121.8v0.8M463.3 117.7v0.8M464.9 116.9v0.8M461.8 116.2v0.8M463.5 117.2v0.8M465.0 119.8v0.8M464.4 116.1v0.8M462.2 116.7v0.8M462.2 116.4v0.8M465.3 134.3v0.8M463.4 122.6v0.8M460.7 130.3v0.8M464.9 124.2v0.8M465.3 122.4v0.8M460.8 146.2v0.8M472.9 117.3v0.8M472.7 116.4v0.8M471.4 119.3v0.8M471.2 116.9v0.8M471.7 115.9v0.8M472.3 116.0v0.8M470.0 115.7v0.8M472.2 118.2v0.8M472.6 116.4v0.8M472.2 119.7v0.8M473.0 127.2v0.8M469.7 116.8v0.8M469.8 117.6v0.8M472.8 117.5v0.8M470.9 115.6v0.8M471.3 116.1v0.8M470.6 115.7v0.8M473.1 135.2v0.8M473.1 132.9v0.8M471.0 132.6v0.8M472.8 131.9v0.8M470.5 143.5v0.8M471.0 123.0v0.8M480.2 118.4v0.8M481.1 115.7v0.8M479.4 117.1v0.8M477.9 116.1v0.8M479.1 115.5v0.8M480.1 117.8v0.8M479.4 116.4v0.8M481.2 116.3v0.8M478.3 124.5v0.8M480.5 123.1v0.8M481.0 118.3v0.8M477.9 119.0v0.8M477.7 117.5v0.8M480.3 121.6v0.8M480.5 117.7v0.8M481.1 117.1v0.8M480.0 122.2v0.8M479.3 119.8v0.8M477.7 116.1v0.8M479.1 120.6v0.8M479.1 116.6v0.8M480.9 128.1v0.8M480.8 122.9v0.8M479.1 139.4v0.8M478.5 127.9v0.8M477.8 136.5v0.8M478.3 131.4v0.8M488.0 115.5v0.8M487.9 117.2v0.8M486.8 116.8v0.8M487.6 120.5v0.8M487.6 115.6v0.8M486.1 116.6v0.8M487.6 118.9v0.8M487.7 116.4v0.8M488.4 117.8v0.8M485.4 118.9v0.8M486.5 116.6v0.8M486.5 116.9v0.8M486.7 125.5v0.8M486.1 120.3v0.8M488.0 123.4v0.8M487.8 120.0v0.8M486.5 163.6v0.8M486.2 122.5v0.8M485.9 131.9v0.8M488.1 125.6v0.8M485.4 124.7v0.8M492.4 118.4v0.8M492.6 117.7v0.8M491.4 121.3v0.8M491.6 116.3v0.8M491.7 120.3v0.8M492.7 117.4v0.8M491.8 117.2v0.8M493.1 118.8v0.8M492.4 116.1v0.8M493.1 126.4v0.8M493.5 116.4v0.8M492.3 117.1v0.8M493.0 128.3v0.8M492.0 122.0v0.8M491.6 126.2v0.8" stroke="#5cb2f5" stroke-width="0.8" fill="none"/>
<path d="M377.5 117.4v0.8M377.3 123.9v0.8M378.0 120.9v0.8M377.9 117.7v0.8M373.5 120.6v0.8M370.2 122.6v0.8M371.0 118.3v0.8M379.1 117.0v0.8M379.0 118.6v0.8M371.2 117.3v0.8M378.7 115.6v0.8M373.8 122.9v0.8M370.6 119.1v0.8M370.7 126.5v0.8M379.8 117.2v0.8M371.6 119.0v0.8M379.4 118.6v0.8M372.2 116.8v0.8M375.8 116.5v0.8M371.6 117.4v0.8M371.1 117.1v0.8M374.0 117.8v0.8M376.6 115.5v0.8M377.7 115.5v0.8M373.2 120.2v0.8M377.1 116.3v0.8M371.8 122.0v0.8M376.6 116.0v0.8M374.7 117.1v0.8M378.5 121.9v0.8M373.1 117.8v0.8M369.6 121.6v0.8M372.2 117.2v0.8M371.1 117.1v0.8M378.2 121.1v0.8M374.4 116.3v0.8M381.3 116.5v0.8M371.2 121.8v0.8M373.7 115.8v0.8M373.3 122.5v0.8M381.3 122.7v0.8M377.4 119.5v0.8M370.2 117.0v0.8M377.8 116.6v0.8M374.0 115.6v0.8M375.0 127.0v0.8M374.3 123.5v0.8M370.5 115.6v0.8M371.0 117.0v0.8M376.3 117.4v0.8M377.7 115.5v0.8M373.0 117.4v0.8M379.9 115.5v0.8M375.3 117.1v0.8M376.1 117.9v0.8M371.1 116.2v0.8M378.0 116.2v0.8M376.8 116.9v0.8M379.0 116.3v0.8M377.7 118.0v0.8M374.9 120.5v0.8M380.2 128.0v0.8M376.5 162.9v0.8M372.7 130.0v0.8M375.9 125.4v0.8M377.0 124.5v0.8M381.0 132.9v0.8M371.6 133.5v0.8M380.0 131.6v0.8M373.4 132.4v0.8M370.5 125.9v0.8M373.5 149.8v0.8M371.2 124.4v0.8M373.1 158.1v0.8M379.1 136.5v0.8M374.3 143.0v0.8M373.9 124.8v0.8M370.9 125.8v0.8M370.5 141.3v0.8M393.6 116.7v0.8M397.8 118.9v0.8M398.6 119.0v0.8M400.0 118.9v0.8M396.2 116.6v0.8M394.6 117.6v0.8M392.0 118.3v0.8M396.6 115.9v0.8M398.8 121.3v0.8M393.6 115.5v0.8M400.6 116.2v0.8M398.7 125.9v0.8M398.4 117.4v0.8M392.0 119.2v0.8M398.0 116.9v0.8M397.8 120.4v0.8M391.9 115.6v0.8M399.1 125.7v0.8M396.6 117.0v0.8M400.4 118.5v0.8M394.1 123.2v0.8M400.8 118.8v0.8M394.9 117.6v0.8M395.9 121.5v0.8M392.0 119.7v0.8M392.0 115.8v0.8M395.2 121.7v0.8M394.7 119.5v0.8M394.0 115.5v0.8M397.0 116.0v0.8M399.9 122.7v0.8M393.7 122.4v0.8M399.9 118.1v0.8M398.0 117.0v0.8M392.3 118.8v0.8M398.4 117.3v0.8M393.4 117.6v0.8M397.1 116.6v0.8M396.6 117.1v0.8M400.5 122.6v0.8M398.9 121.4v0.8M397.1 117.0v0.8M400.4 123.4v0.8M398.3 120.2v0.8M392.8 117.7v0.8M394.5 121.8v0.8M395.8 116.7v0.8M392.7 116.1v0.8M397.0 115.7v0.8M400.2 123.0v0.8M397.8 131.2v0.8M393.4 139.0v0.8M396.8 130.0v0.8M394.8 127.4v0.8M391.6 139.4v0.8M394.1 146.7v0.8M394.7 123.2v0.8M393.7 126.4v0.8M396.0 127.5v0.8M393.4 123.6v0.8M394.3 124.4v0.8M393.4 139.7v0.8M394.1 122.2v0.8M393.9 122.2v0.8M417.0 115.6v0.8M410.1 116.2v0.8M415.8 117.9v0.8M413.8 119.2v0.8M416.6 119.0v0.8M411.2 116.7v0.8M414.6 118.5v0.8M415.4 116.1v0.8M411.2 119.4v0.8M416.4 124.6v0.8M415.8 116.5v0.8M414.8 118.3v0.8M416.4 118.2v0.8M413.5 117.2v0.8M411.0 116.8v0.8M414.8 116.8v0.8M413.6 117.5v0.8M410.3 118.3v0.8M415.0 118.1v0.8M417.5 117.5v0.8M414.7 116.1v0.8M416.1 116.1v0.8M417.5 123.2v0.8M415.9 119.2v0.8M409.8 118.3v0.8M411.4 115.9v0.8M410.3 118.8v0.8M413.6 125.9v0.8M414.4 116.7v0.8M416.5 118.0v0.8M414.1 116.3v0.8M410.5 119.1v0.8M417.0 117.0v0.8M417.2 117.4v0.8M418.0 120.8v0.8M412.8 117.3v0.8M417.0 118.9v0.8M415.2 119.4v0.8M415.3 115.8v0.8M417.5 122.8v0.8M416.8 118.1v0.8M413.0 115.8v0.8M415.7 120.7v0.8M417.2 125.5v0.8M414.1 135.7v0.8M414.2 127.9v0.8M413.3 128.5v0.8M418.2 134.9v0.8M413.3 131.1v0.8M412.2 125.4v0.8M418.0 129.7v0.8M416.8 143.9v0.8M413.6 125.6v0.8M412.7 123.4v0.8M416.7 122.1v0.8M415.6 123.4v0.8M428.8 116.3v0.8M431.1 121.5v0.8M434.1 124.0v0.8M432.1 117.5v0.8M433.0 118.2v0.8M432.5 117.0v0.8M433.7 116.3v0.8M432.5 120.4v0.8M428.9 126.7v0.8M433.9 119.1v0.8M433.4 120.0v0.8M429.0 117.5v0.8M428.5 121.3v0.8M430.0 115.8v0.8M430.2 116.4v0.8M431.8 117.2v0.8M432.1 121.3v0.8M431.3 118.2v0.8M432.9 115.7v0.8M431.8 118.6v0.8M429.9 121.8v0.8M433.7 117.6v0.8M434.5 115.9v0.8M431.5 116.6v0.8M429.1 118.0v0.8M432.4 115.7v0.8M431.2 116.3v0.8M429.1 115.5v0.8M430.8 124.0v0.8M431.6 120.2v0.8M427.3 116.1v0.8M427.5 124.1v0.8M430.3 122.4v0.8M432.6 119.2v0.8M431.7 119.1v0.8M432.8 115.9v0.8M433.6 120.4v0.8M428.0 115.8v0.8M429.1 121.9v0.8M431.4 122.5v0.8M431.6 129.4v0.8M433.6 140.4v0.8M430.4 122.6v0.8M434.3 125.6v0.8M431.9 130.1v0.8M430.1 122.7v0.8M431.4 124.4v0.8M432.4 148.0v0.8M433.4 129.6v0.8M429.7 125.1v0.8M444.4 119.9v0.8M445.9 120.0v0.8M445.2 117.1v0.8M442.0 119.3v0.8M444.8 116.1v0.8M441.0 115.8v0.8M446.4 115.6v0.8M443.1 119.2v0.8M442.1 116.9v0.8M442.8 116.8v0.8M446.1 117.1v0.8M443.1 124.9v0.8M444.3 116.4v0.8M445.4 121.6v0.8M442.9 118.5v0.8M444.3 120.1v0.8M446.8 121.5v0.8M442.3 115.7v0.8M441.3 117.7v0.8M444.0 122.3v0.8M445.4 121.4v0.8M446.6 119.1v0.8M441.9 117.3v0.8M444.3 116.9v0.8M442.8 119.4v0.8M446.6 119.4v0.8M441.7 120.6v0.8M446.8 115.6v0.8M443.2 119.0v0.8M442.2 116.7v0.8M443.8 126.1v0.8M444.7 135.2v0.8M444.2 141.5v0.8M441.1 136.4v0.8M443.9 134.7v0.8M444.9 137.9v0.8M441.9 125.9v0.8M444.5 126.2v0.8M445.5 122.4v0.8M443.5 149.2v0.8M460.3 124.4v0.8M460.4 116.1v0.8M455.2 116.8v0.8M456.5 117.2v0.8M456.7 115.5v0.8M456.0 117.4v0.8M457.2 116.3v0.8M455.2 119.2v0.8M454.9 115.5v0.8M455.2 115.9v0.8M457.5 118.6v0.8M456.5 119.7v0.8M458.0 117.9v0.8M454.2 118.2v0.8M456.0 116.2v0.8M457.0 117.1v0.8M459.0 117.9v0.8M455.8 116.7v0.8M459.5 120.7v0.8M455.8 123.3v0.8M456.3 118.1v0.8M460.0 117.5v0.8M455.8 121.5v0.8M456.6 118.6v0.8M456.1 119.1v0.8M454.0 121.6v0.8M459.7 115.8v0.8M459.9 116.8v0.8M456.5 118.8v0.8M459.4 116.7v0.8M458.8 122.5v0.8M458.0 117.2v0.8M458.4 118.0v0.8M456.3 115.7v0.8M459.9 126.1v0.8M453.9 123.6v0.8M458.9 122.6v0.8M455.5 126.4v0.8M455.7 123.6v0.8M460.2 153.9v0.8M455.0 123.0v0.8M456.5 129.8v0.8M455.4 128.8v0.8M453.8 123.9v0.8M459.2 130.9v0.8M466.8 116.3v0.8M467.8 118.4v0.8M469.0 117.0v0.8M465.8 115.7v0.8M468.6 120.9v0.8M466.4 117.5v0.8M466.3 117.3v0.8M468.3 125.3v0.8M467.0 118.1v0.8M465.6 116.6v0.8M465.9 116.6v0.8M465.7 127.1v0.8M466.9 118.0v0.8M466.1 122.1v0.8M466.3 115.9v0.8M468.2 119.9v0.8M469.3 120.0v0.8M469.4 116.1v0.8M469.1 116.0v0.8M466.3 118.7v0.8M469.4 132.9v0.8M465.6 121.9v0.8M466.7 132.1v0.8M468.8 124.7v0.8M467.3 131.5v0.8M468.2 135.3v0.8M476.7 116.2v0.8M476.3 117.7v0.8M474.9 116.4v0.8M474.7 122.6v0.8M476.5 116.2v0.8M475.5 120.5v0.8M474.0 124.4v0.8M476.6 123.9v0.8M476.2 125.5v0.8M475.3 124.8v0.8M474.8 123.1v0.8M474.2 116.2v0.8M475.3 115.9v0.8M474.1 121.0v0.8M475.5 118.0v0.8M475.6 117.0v0.8M476.7 116.5v0.8M476.2 119.1v0.8M473.6 126.6v0.8M473.5 117.1v0.8M477.4 117.0v0.8M475.3 116.1v0.8M476.4 138.7v0.8M474.2 125.6v0.8M473.4 138.5v0.8M477.3 126.2v0.8M476.5 122.3v0.8M476.1 125.4v0.8M482.4 116.3v0.8M482.9 119.1v0.8M482.4 116.6v0.8M483.0 116.2v0.8M481.4 124.6v0.8M482.4 120.4v0.8M481.7 117.2v0.8M482.4 119.1v0.8M482.9 125.9v0.8M482.9 115.6v0.8M482.4 120.9v0.8M483.1 116.7v0.8M482.7 118.0v0.8M481.6 119.7v0.8M481.6 126.0v0.8M482.5 119.2v0.8M482.3 117.7v0.8M482.0 117.8v0.8M484.4 128.8v0.8M484.3 134.9v0.8M483.9 122.5v0.8M481.9 122.9v0.8M483.9 124.0v0.8M483.5 130.5v0.8M489.7 115.5v0.8M490.4 125.8v0.8M491.1 118.5v0.8M489.5 116.0v0.8M488.7 119.3v0.8M490.2 120.9v0.8M490.0 124.4v0.8M489.3 116.5v0.8M490.1 116.6v0.8M489.2 115.6v0.8M489.7 116.2v0.8M490.7 131.9v0.8M489.8 132.4v0.8M490.0 133.0v0.8M489.0 127.7v0.8M496.3 118.7v0.8M494.6 121.7v0.8M495.0 120.9v0.8M494.5 121.4v0.8M494.6 120.3v0.8M495.8 116.7v0.8M494.9 115.7v0.8M496.2 116.8v0.8M494.7 115.8v0.8M494.5 121.6v0.8M494.5 115.7v0.8M495.3 119.8v0.8M496.0 116.1v0.8M496.2 118.5v0.8M494.1 115.5v0.8M494.2 133.0v0.8M494.4 122.7v0.8M494.1 141.3v0.8M496.4 134.6v0.8" stroke="#326a98" stroke-width="0.8" fill="none"/>
<path d="M476.9 165.8v0.9" stroke="#326a98" stroke-width="0.9" fill="none"/>
<path d="M359.3 113.1V123.1M373.9 113.1V124.2M391.8 113.1V128.2M413.6 113.1V125.2M414.3 113.1V129.7M415.0 113.1V127.5M415.5 113.1V133.3M416.2 113.1V129.3M416.8 113.1V131.1M417.4 113.1V126.1M418.0 113.1V128.4M459.1 113.1V128.2M459.7 113.1V125.2M476.9 113.1V131.9M477.4 113.1V128.8M494.5 113.1V125.7" stroke="#326a98" stroke-width="0.9" fill="none"/>
<path d="M359.3 123.1V135.3M373.9 124.2V137.8M391.8 128.2V146.7M413.6 125.2V140.0M414.3 129.7V150.0M415.0 127.5V145.0M415.5 133.3V158.0M416.2 129.3V149.0M416.8 131.1V153.0M417.4 126.1V142.0M418.0 128.4V147.0M459.1 128.2V146.7M459.7 125.2V140.0M476.9 131.9V154.8M477.4 128.8V148.0M494.5 125.7V141.0" stroke="#326a98" stroke-width="0.8" fill="none" stroke-dasharray="0.8 1.2 0.6 0.9"/>
<path d="M363.4 113.1V134.5M385.3 113.1V128.2M405.6 113.1V123.9M423.4 113.1V123.9M437.2 113.1V134.5M447.7 113.1V134.1M453.4 113.1V134.1M471.2 113.1V122.0M481.0 113.1V134.1M485.9 113.1V129.7" stroke="#5cb2f5" stroke-width="0.9" fill="none"/>
<path d="M363.4 134.5V160.5M385.3 128.2V146.7M405.6 123.9V137.0M423.4 123.9V137.0M437.2 134.5V160.5M447.7 134.1V159.7M453.4 134.1V159.7M471.2 122.0V132.9M481.0 134.1V159.7M485.9 129.7V150.0" stroke="#5cb2f5" stroke-width="0.8" fill="none" stroke-dasharray="0.8 1.2 0.6 0.9"/>
<rect x="373.1" y="71.6" width="2.1" height="2" fill="#7fff00"/>
<rect x="373.1" y="76.6" width="2.1" height="2.6" fill="#7fff00"/>
<rect x="373.1" y="80.5" width="2.1" height="13" fill="#7fff00"/>
<rect x="426.9" y="69.4" width="2" height="24.1" fill="#7fff00"/>
<line x1="352.8" y1="49.3" x2="502.4" y2="49.3" stroke="#dddddd" stroke-width="0.6" stroke-dasharray="1.6 1.6"/>
<line x1="352.8" y1="73.32" x2="502.4" y2="73.32" stroke="#f03030" stroke-width="0.8" stroke-dasharray="2 1.6"/>
<line x1="352.8" y1="111.68" x2="502.4" y2="111.68" stroke="#f03030" stroke-width="0.8" stroke-dasharray="2 1.6"/>
<line x1="352.8" y1="17.3" x2="352.8" y2="93.5" stroke="#aaaaaa" stroke-width="1.3"/>
<line x1="352.8" y1="93.5" x2="502.4" y2="93.5" stroke="#444444" stroke-width="0.9"/>
<line x1="352.8" y1="100.5" x2="352.8" y2="180" stroke="#aaaaaa" stroke-width="1.3"/>
<line x1="352.8" y1="100.5" x2="502.4" y2="100.5" stroke="#444444" stroke-width="0.9"/>
<line x1="351.3" y1="80.5" x2="352.8" y2="80.5" stroke="#333333" stroke-width="0.6"/>
<text x="350.6" y="82.7" font-size="5.8" text-anchor="end" font-weight="normal" fill="#333333" stroke="#333333" stroke-width="0.18">5</text>
<line x1="351.3" y1="64.9" x2="352.8" y2="64.9" stroke="#333333" stroke-width="0.6"/>
<text x="350.6" y="67.1" font-size="5.8" text-anchor="end" font-weight="normal" fill="#333333" stroke="#333333" stroke-width="0.18">10</text>
<line x1="351.3" y1="49.3" x2="352.8" y2="49.3" stroke="#333333" stroke-width="0.6"/>
<text x="350.6" y="51.5" font-size="5.8" text-anchor="end" font-weight="normal" fill="#333333" stroke="#333333" stroke-width="0.18">15</text>
<line x1="351.3" y1="26.51" x2="352.8" y2="26.51" stroke="#333333" stroke-width="0.6"/>
<text x="350.6" y="28.71" font-size="5.8" text-anchor="end" font-weight="normal" fill="#333333" stroke="#333333" stroke-width="0.18">50</text>
<line x1="351.3" y1="107.65" x2="352.8" y2="107.65" stroke="#333333" stroke-width="0.6"/>
<text x="350.6" y="109.85" font-size="5.8" text-anchor="end" font-weight="normal" fill="#333333" stroke="#333333" stroke-width="0.18">5</text>
<line x1="351.3" y1="116.8" x2="352.8" y2="116.8" stroke="#333333" stroke-width="0.6"/>
<text x="350.6" y="119" font-size="5.8" text-anchor="end" font-weight="normal" fill="#333333" stroke="#333333" stroke-width="0.18">10</text>
<line x1="351.3" y1="125.95" x2="352.8" y2="125.95" stroke="#333333" stroke-width="0.6"/>
<text x="350.6" y="128.15" font-size="5.8" text-anchor="end" font-weight="normal" fill="#333333" stroke="#333333" stroke-width="0.18">15</text>
<line x1="351.3" y1="135.1" x2="352.8" y2="135.1" stroke="#333333" stroke-width="0.6"/>
<text x="350.6" y="137.3" font-size="5.8" text-anchor="end" font-weight="normal" fill="#333333" stroke="#333333" stroke-width="0.18">20</text>
<line x1="351.3" y1="171.7" x2="352.8" y2="171.7" stroke="#333333" stroke-width="0.6"/>
<text x="350.6" y="173.9" font-size="5.8" text-anchor="end" font-weight="normal" fill="#333333" stroke="#333333" stroke-width="0.18">40</text>
<line x1="364.6" y1="93.5" x2="364.6" y2="95" stroke="#333" stroke-width="0.7"/>
<line x1="364.6" y1="99" x2="364.6" y2="100.5" stroke="#333" stroke-width="0.7"/>
<text x="364.6" y="97.9" font-size="3.1" text-anchor="middle" font-weight="normal" fill="#222">1</text>
<line x1="375.45" y1="93.5" x2="375.45" y2="95" stroke="#333" stroke-width="0.7"/>
<line x1="375.45" y1="99" x2="375.45" y2="100.5" stroke="#333" stroke-width="0.7"/>
<text x="375.45" y="97.9" font-size="3.1" text-anchor="middle" font-weight="normal" fill="#222">2</text>
<line x1="386.4" y1="93.5" x2="386.4" y2="95" stroke="#333" stroke-width="0.7"/>
<line x1="386.4" y1="99" x2="386.4" y2="100.5" stroke="#333" stroke-width="0.7"/>
<text x="386.4" y="97.9" font-size="3.1" text-anchor="middle" font-weight="normal" fill="#222">3</text>
<line x1="396.15" y1="93.5" x2="396.15" y2="95" stroke="#333" stroke-width="0.7"/>
<line x1="396.15" y1="99" x2="396.15" y2="100.5" stroke="#333" stroke-width="0.7"/>
<text x="396.15" y="97.9" font-size="3.1" text-anchor="middle" font-weight="normal" fill="#222">4</text>
<line x1="405.3" y1="93.5" x2="405.3" y2="95" stroke="#333" stroke-width="0.7"/>
<line x1="405.3" y1="99" x2="405.3" y2="100.5" stroke="#333" stroke-width="0.7"/>
<text x="405.3" y="97.9" font-size="3.1" text-anchor="middle" font-weight="normal" fill="#222">5</text>
<line x1="414.05" y1="93.5" x2="414.05" y2="95" stroke="#333" stroke-width="0.7"/>
<line x1="414.05" y1="99" x2="414.05" y2="100.5" stroke="#333" stroke-width="0.7"/>
<text x="414.05" y="97.9" font-size="3.1" text-anchor="middle" font-weight="normal" fill="#222">6</text>
<line x1="422.6" y1="93.5" x2="422.6" y2="95" stroke="#333" stroke-width="0.7"/>
<line x1="422.6" y1="99" x2="422.6" y2="100.5" stroke="#333" stroke-width="0.7"/>
<text x="422.6" y="97.9" font-size="3.1" text-anchor="middle" font-weight="normal" fill="#222">7</text>
<line x1="430.75" y1="93.5" x2="430.75" y2="95" stroke="#333" stroke-width="0.7"/>
<line x1="430.75" y1="99" x2="430.75" y2="100.5" stroke="#333" stroke-width="0.7"/>
<text x="430.75" y="97.9" font-size="3.1" text-anchor="middle" font-weight="normal" fill="#222">8</text>
<line x1="437.8" y1="93.5" x2="437.8" y2="95" stroke="#333" stroke-width="0.7"/>
<line x1="437.8" y1="99" x2="437.8" y2="100.5" stroke="#333" stroke-width="0.7"/>
<text x="437.8" y="97.9" font-size="3.1" text-anchor="middle" font-weight="normal" fill="#222">9</text>
<line x1="443.95" y1="93.5" x2="443.95" y2="95" stroke="#333" stroke-width="0.7"/>
<line x1="443.95" y1="99" x2="443.95" y2="100.5" stroke="#333" stroke-width="0.7"/>
<text x="443.95" y="97.9" font-size="3.1" text-anchor="middle" font-weight="normal" fill="#222">10</text>
<line x1="450.25" y1="93.5" x2="450.25" y2="95" stroke="#333" stroke-width="0.7"/>
<line x1="450.25" y1="99" x2="450.25" y2="100.5" stroke="#333" stroke-width="0.7"/>
<text x="450.25" y="97.9" font-size="3.1" text-anchor="middle" font-weight="normal" fill="#222">11</text>
<line x1="457.15" y1="93.5" x2="457.15" y2="95" stroke="#333" stroke-width="0.7"/>
<line x1="457.15" y1="99" x2="457.15" y2="100.5" stroke="#333" stroke-width="0.7"/>
<text x="457.15" y="97.9" font-size="3.1" text-anchor="middle" font-weight="normal" fill="#222">12</text>
<line x1="463.15" y1="93.5" x2="463.15" y2="95" stroke="#333" stroke-width="0.7"/>
<line x1="463.15" y1="99" x2="463.15" y2="100.5" stroke="#333" stroke-width="0.7"/>
<text x="463.15" y="97.9" font-size="3.1" text-anchor="middle" font-weight="normal" fill="#222">13</text>
<line x1="467.55" y1="93.5" x2="467.55" y2="95" stroke="#333" stroke-width="0.7"/>
<line x1="467.55" y1="99" x2="467.55" y2="100.5" stroke="#333" stroke-width="0.7"/>
<text x="467.55" y="97.9" font-size="3.1" text-anchor="middle" font-weight="normal" fill="#222">14</text>
<line x1="471.4" y1="93.5" x2="471.4" y2="95" stroke="#333" stroke-width="0.7"/>
<line x1="471.4" y1="99" x2="471.4" y2="100.5" stroke="#333" stroke-width="0.7"/>
<line x1="475.4" y1="93.5" x2="475.4" y2="95" stroke="#333" stroke-width="0.7"/>
<line x1="475.4" y1="99" x2="475.4" y2="100.5" stroke="#333" stroke-width="0.7"/>
<text x="475.4" y="97.9" font-size="3.1" text-anchor="middle" font-weight="normal" fill="#222">16</text>
<line x1="479.45" y1="93.5" x2="479.45" y2="95" stroke="#333" stroke-width="0.7"/>
<line x1="479.45" y1="99" x2="479.45" y2="100.5" stroke="#333" stroke-width="0.7"/>
<line x1="483.3" y1="93.5" x2="483.3" y2="95" stroke="#333" stroke-width="0.7"/>
<line x1="483.3" y1="99" x2="483.3" y2="100.5" stroke="#333" stroke-width="0.7"/>
<text x="483.3" y="97.9" font-size="3.1" text-anchor="middle" font-weight="normal" fill="#222">18</text>
<line x1="486.95" y1="93.5" x2="486.95" y2="95" stroke="#333" stroke-width="0.7"/>
<line x1="486.95" y1="99" x2="486.95" y2="100.5" stroke="#333" stroke-width="0.7"/>
<line x1="489.95" y1="93.5" x2="489.95" y2="95" stroke="#333" stroke-width="0.7"/>
<line x1="489.95" y1="99" x2="489.95" y2="100.5" stroke="#333" stroke-width="0.7"/>
<text x="489.95" y="97.9" font-size="3.1" text-anchor="middle" font-weight="normal" fill="#222">20</text>
<line x1="492.4" y1="93.5" x2="492.4" y2="95" stroke="#333" stroke-width="0.7"/>
<line x1="492.4" y1="99" x2="492.4" y2="100.5" stroke="#333" stroke-width="0.7"/>
<line x1="495.05" y1="93.5" x2="495.05" y2="95" stroke="#333" stroke-width="0.7"/>
<line x1="495.05" y1="99" x2="495.05" y2="100.5" stroke="#333" stroke-width="0.7"/>
<text x="495.05" y="97.9" font-size="3.1" text-anchor="middle" font-weight="normal" fill="#222">22</text>
<text x="367.1" y="43.1" font-size="4.65" text-anchor="middle" font-weight="bold" fill="#f52a2a" font-style="italic">ATP6V1B1</text>
<line x1="366.2" y1="46.8" x2="372.4" y2="70.1" stroke="#d83030" stroke-width="0.6"/>
<text x="437.2" y="43.1" font-size="4.5" text-anchor="middle" font-weight="bold" fill="#f52a2a" font-style="italic">BLK</text>
<line x1="436" y1="46" x2="427.9" y2="68" stroke="#d83030" stroke-width="0.6"/>
<polygon points="529.2,93.3 529.2,79.02 529.82,80.98 530.45,79.99 531.07,79.93 531.7,81.88 532.32,82.39 532.95,80.43 533.57,82.23 534.2,81.25 534.82,79.35 535.45,79.42 536.07,82.24 536.7,82.38 537.32,81.85 537.95,79.58 538.57,82.59 539.2,81.84 539.2,93.3" fill="#999999"/>
<polygon points="529.2,100.3 529.2,106 529.82,105.81 530.45,106.2 531.07,105.86 531.7,106.14 532.32,105.51 532.95,105.86 533.57,105.49 534.2,106.05 534.82,106.25 535.45,105.95 536.07,105.97 536.7,106.02 537.32,105.66 537.95,105.81 538.57,105.98 539.2,106.05 539.2,100.3" fill="#5cb2f5"/>
<polygon points="539.2,93.3 539.2,78.05 539.82,79.8 540.43,78.63 541.05,78.97 541.66,78.15 542.28,77.34 542.89,76.65 543.51,78.9 544.13,79.83 544.74,76.14 545.36,76.95 545.97,77.82 546.59,79.46 547.21,79.68 547.82,76.38 548.44,77.89 549.05,76.66 549.67,76.94 550.28,77.06 550.9,76.86 550.9,93.3" fill="#666666"/>
<polygon points="539.2,100.3 539.2,105.9 539.82,106.06 540.43,105.93 541.05,106.2 541.66,106.1 542.28,106.04 542.89,105.48 543.51,105.58 544.13,106.14 544.74,105.83 545.36,106.35 545.97,106.04 546.59,106.21 547.21,106.14 547.82,106.34 548.44,106.06 549.05,106.31 549.67,105.84 550.28,105.7 550.9,105.55 550.9,100.3" fill="#326a98"/>
<polygon points="550.9,93.3 550.9,78.96 551.5,79.92 552.1,82.64 552.7,81.79 553.3,78.94 553.9,80.08 554.5,79.47 555.1,81.94 555.7,81.78 556.3,82.32 556.9,80.72 557.5,81.31 558.1,80.92 558.7,82.17 559.3,82.59 559.9,81.24 560.5,79.22 561.1,80.24 561.1,93.3" fill="#999999"/>
<polygon points="550.9,100.3 550.9,106.03 551.5,106.25 552.1,106.28 552.7,106.12 553.3,106.23 553.9,105.88 554.5,106.31 555.1,105.85 555.7,106.12 556.3,106.14 556.9,105.82 557.5,106.2 558.1,106.11 558.7,105.6 559.3,105.99 559.9,105.9 560.5,106 561.1,105.48 561.1,100.3" fill="#5cb2f5"/>
<polygon points="561.1,93.3 561.1,79.18 561.72,77.85 562.34,80.95 562.96,79.49 563.58,79.4 564.2,81.38 564.82,78.16 565.44,78.89 566.06,80.16 566.68,78.46 567.3,79.65 567.92,78.72 568.54,79.38 569.16,78.22 569.78,79.55 570.4,81.1 570.4,93.3" fill="#666666"/>
<polygon points="561.1,100.3 561.1,106.28 561.72,106.33 562.34,105.73 562.96,106.24 563.58,105.79 564.2,105.68 564.82,106 565.44,105.73 566.06,106.32 566.68,106.28 567.3,105.48 567.92,106.35 568.54,106.27 569.16,105.58 569.78,106.06 570.4,105.96 570.4,100.3" fill="#326a98"/>
<polygon points="570.4,93.3 570.4,79.86 571,79.04 571.6,80.75 572.2,81.44 572.8,81.09 573.4,79.41 574,79.98 574.6,80.59 575.2,80.3 575.8,79.26 576.4,80.37 577,81.89 577.6,79.36 578.2,82.52 578.8,82.16 579.4,81.96 579.4,93.3" fill="#999999"/>
<polygon points="570.4,100.3 570.4,106.23 571,105.47 571.6,106.17 572.2,105.87 572.8,105.65 573.4,106.29 574,105.98 574.6,105.68 575.2,106.29 575.8,105.51 576.4,106.1 577,106.12 577.6,106.13 578.2,105.89 578.8,105.73 579.4,105.66 579.4,100.3" fill="#5cb2f5"/>
<polygon points="579.4,93.3 579.4,79.77 580.01,78 580.61,78.75 581.22,80.62 581.83,79.18 582.44,78 583.04,79.11 583.65,80.1 584.26,80.33 584.86,77.74 585.47,79.66 586.08,80.39 586.69,80.09 587.29,78.89 587.9,77.92 587.9,93.3" fill="#666666"/>
<polygon points="579.4,100.3 579.4,106.27 580.01,105.99 580.61,106.06 581.22,106.15 581.83,105.69 582.44,105.66 583.04,105.51 583.65,106.11 584.26,105.48 584.86,105.47 585.47,106.05 586.08,105.91 586.69,106.36 587.29,105.58 587.9,105.94 587.9,100.3" fill="#326a98"/>
<polygon points="587.9,93.3 587.9,77.4 588.51,78.58 589.13,80.94 589.74,77.52 590.36,78.74 590.97,79.63 591.59,79.27 592.2,77.52 592.81,77.69 593.43,80.65 594.04,80.22 594.66,80.47 595.27,81 595.89,80.59 596.5,78.93 596.5,93.3" fill="#999999"/>
<polygon points="587.9,100.3 587.9,106.18 588.51,105.73 589.13,105.68 589.74,105.54 590.36,105.7 590.97,106.05 591.59,106.06 592.2,105.93 592.81,106.14 593.43,105.55 594.04,105.61 594.66,105.61 595.27,106.1 595.89,106.05 596.5,105.8 596.5,100.3" fill="#5cb2f5"/>
<polygon points="596.5,93.3 596.5,80.26 597.14,80.74 597.78,77.76 598.42,77.42 599.07,78.11 599.71,78.9 600.35,78.68 600.99,78.7 601.63,80.9 602.27,79.95 602.92,79.72 603.56,80.4 604.2,79.14 604.2,93.3" fill="#666666"/>
<polygon points="596.5,100.3 596.5,105.59 597.14,105.53 597.78,105.55 598.42,105.91 599.07,106.18 599.71,105.77 600.35,105.67 600.99,105.58 601.63,105.9 602.27,105.7 602.92,106.05 603.56,105.88 604.2,106.04 604.2,100.3" fill="#326a98"/>
<polygon points="604.2,93.3 604.2,80.86 604.84,81.45 605.48,80.49 606.12,79.76 606.76,79.96 607.4,81.78 608.04,79.29 608.68,81.18 609.32,81.44 609.96,82.28 610.6,79.12 610.6,93.3" fill="#999999"/>
<polygon points="604.2,100.3 604.2,106.33 604.84,106.27 605.48,106.22 606.12,105.48 606.76,105.99 607.4,105.95 608.04,106.06 608.68,105.85 609.32,106.18 609.96,105.5 610.6,106.2 610.6,100.3" fill="#5cb2f5"/>
<polygon points="610.6,93.3 610.6,79.55 611.26,81.33 611.91,80.78 612.57,79.6 613.22,79.9 613.88,82.15 614.53,80.76 615.19,81.23 615.84,80.37 616.5,81.72 616.5,93.3" fill="#666666"/>
<polygon points="610.6,100.3 610.6,106.2 611.26,106.01 611.91,106.24 612.57,106.18 613.22,105.49 613.88,105.74 614.53,106.09 615.19,105.8 615.84,105.87 616.5,106.12 616.5,100.3" fill="#326a98"/>
<polygon points="616.5,93.3 616.5,80.05 617.11,81.25 617.72,79.3 618.33,79.44 618.94,82.36 619.55,81.61 620.15,80.59 620.76,79.56 621.37,79.92 621.98,80.16 622.59,80 623.2,80.77 623.2,93.3" fill="#999999"/>
<polygon points="616.5,100.3 616.5,105.47 617.11,105.65 617.72,105.47 618.33,106.3 618.94,106.14 619.55,106.36 620.15,106.05 620.76,105.67 621.37,105.66 621.98,106.21 622.59,106.24 623.2,105.56 623.2,100.3" fill="#5cb2f5"/>
<polygon points="623.2,93.3 623.2,79.7 623.85,82.28 624.49,79.59 625.14,81.28 625.78,80.34 626.43,81.67 627.07,79.92 627.72,80.89 628.36,79.77 629.01,80.47 629.65,79.37 630.3,81.1 630.3,93.3" fill="#666666"/>
<polygon points="623.2,100.3 623.2,105.93 623.85,105.52 624.49,105.63 625.14,105.61 625.78,105.68 626.43,105.78 627.07,105.59 627.72,105.69 628.36,105.92 629.01,105.93 629.65,106.24 630.3,106.3 630.3,100.3" fill="#326a98"/>
<polygon points="630.3,93.3 630.3,81.56 630.91,81.06 631.52,80.93 632.14,80.67 632.75,80.58 633.36,79.73 633.97,81.07 634.59,82.24 635.2,79.96 635.2,93.3" fill="#999999"/>
<polygon points="630.3,100.3 630.3,105.77 630.91,105.63 631.52,106.24 632.14,105.64 632.75,105.72 633.36,106.13 633.97,106.35 634.59,105.95 635.2,106.05 635.2,100.3" fill="#5cb2f5"/>
<polygon points="635.2,93.3 635.2,79.03 635.85,80.64 636.5,77.13 637.15,78.59 637.8,80.79 638.45,77.23 639.1,79.88 639.1,93.3" fill="#666666"/>
<polygon points="635.2,100.3 635.2,105.85 635.85,105.68 636.5,106.3 637.15,106.16 637.8,106.28 638.45,105.68 639.1,105.88 639.1,100.3" fill="#326a98"/>
<polygon points="639.1,93.3 639.1,73.2 639.73,72.76 640.37,75.8 641,72.83 641.63,72.9 642.27,72.9 642.9,75.52 642.9,93.3" fill="#999999"/>
<polygon points="639.1,100.3 639.1,105.91 639.73,105.64 640.37,105.89 641,106.23 641.63,105.88 642.27,106.33 642.9,105.75 642.9,100.3" fill="#5cb2f5"/>
<polygon points="642.9,93.3 642.9,72.98 643.5,72.87 644.1,74.59 644.7,73.55 645.3,72.51 645.9,73.9 646.5,73.28 647.1,75.51 647.1,93.3" fill="#666666"/>
<polygon points="642.9,100.3 642.9,105.59 643.5,105.6 644.1,106.21 644.7,105.57 645.3,105.9 645.9,105.91 646.5,105.93 647.1,105.53 647.1,100.3" fill="#326a98"/>
<polygon points="647.1,93.3 647.1,75.33 647.75,76.29 648.4,73.94 649.05,74.38 649.7,75.12 650.35,75.22 651,76.06 651,93.3" fill="#999999"/>
<polygon points="647.1,100.3 647.1,106.25 647.75,105.98 648.4,106.17 649.05,106.26 649.7,105.76 650.35,105.48 651,105.77 651,100.3" fill="#5cb2f5"/>
<polygon points="651,93.3 651,74.88 651.63,73.63 652.27,74.2 652.9,73.61 653.53,74.25 654.17,72.29 654.8,74.3 654.8,93.3" fill="#666666"/>
<polygon points="651,100.3 651,106.27 651.63,105.86 652.27,106.12 652.9,105.49 653.53,106.19 654.17,105.82 654.8,106.04 654.8,100.3" fill="#326a98"/>
<polygon points="654.8,93.3 654.8,75.67 655.5,73.59 656.2,74.4 656.9,75.66 657.6,74.47 658.3,73.16 658.3,93.3" fill="#999999"/>
<polygon points="654.8,100.3 654.8,106.09 655.5,105.48 656.2,105.6 656.9,105.74 657.6,105.98 658.3,106.26 658.3,100.3" fill="#5cb2f5"/>
<polygon points="658.3,93.3 658.3,73.34 658.92,74.89 659.55,74.53 660.17,72.84 660.8,73.75 660.8,93.3" fill="#666666"/>
<polygon points="658.3,100.3 658.3,106.34 658.92,106.13 659.55,105.99 660.17,105.88 660.8,105.96 660.8,100.3" fill="#326a98"/>
<polygon points="660.8,93.3 660.8,72.91 661.4,73.85 662,73.04 662.6,73.62 663.2,75.94 663.2,93.3" fill="#999999"/>
<polygon points="660.8,100.3 660.8,106.33 661.4,105.66 662,105.7 662.6,105.6 663.2,106.05 663.2,100.3" fill="#5cb2f5"/>
<polygon points="663.2,93.3 663.2,74.14 663.92,72.79 664.65,75.13 665.38,74.16 666.1,74.88 666.1,93.3" fill="#666666"/>
<polygon points="663.2,100.3 663.2,106.04 663.92,105.81 664.65,105.52 665.38,105.67 666.1,106.25 666.1,100.3" fill="#326a98"/>
<path d="M530.6 81.0V83.0M534.4 80.8V83.0M533.4 77.5V83.0M536.3 79.8V83.0M536.8 78.9V83.0M537.2 80.6V83.0M533.0 78.9V83.0M538.3 78.6V83.0M534.0 80.6V83.0M532.2 80.7V83.0M538.7 75.0V83.0M537.8 79.2V83.0M536.1 80.4V83.0M534.0 81.0V83.0M533.5 80.6V83.0M530.5 74.0V83.0M530.5 76.5V83.0M536.0 81.2V83.0M534.1 65.2V83.0M538.7 79.0V83.0M536.7 77.8V83.0M532.3 79.1V83.0M556.7 81.2V83.0M555.4 80.1V83.0M557.2 79.9V83.0M558.8 80.5V83.0M558.1 81.4V83.0M552.7 76.7V83.0M559.3 80.4V83.0M553.2 71.8V83.0M556.9 81.2V83.0M560.6 79.0V83.0M554.1 79.3V83.0M554.8 78.9V83.0M555.2 80.0V83.0M558.2 80.4V83.0M559.1 77.4V83.0M560.2 80.9V83.0M559.4 77.7V83.0M553.0 74.3V83.0M556.0 80.9V83.0M553.3 69.3V83.0M553.5 74.8V83.0M551.7 77.9V83.0M573.9 78.9V83.0M577.6 80.6V83.0M578.0 65.6V83.0M578.0 76.5V83.0M575.4 79.6V83.0M572.1 80.0V83.0M572.6 80.1V83.0M571.4 71.6V83.0M574.2 81.1V83.0M571.8 79.7V83.0M571.4 78.1V83.0M573.3 78.4V83.0M573.6 80.0V83.0M578.0 79.6V83.0M578.3 78.1V83.0M576.9 77.5V83.0M575.4 80.3V83.0M576.4 81.3V83.0M572.8 76.6V83.0M593.4 75.5V81.4M594.8 76.3V81.4M595.6 79.8V81.4M595.9 78.1V81.4M594.2 77.2V81.4M594.3 76.6V81.4M589.5 77.6V81.4M588.7 73.7V81.4M594.1 78.8V81.4M590.8 78.7V81.4M589.2 77.6V81.4M593.8 78.6V81.4M591.7 73.9V81.4M593.7 79.4V81.4M590.1 73.0V81.4M593.3 79.4V81.4M592.0 78.5V81.4M593.0 74.1V81.4M607.7 79.1V83.0M609.8 81.2V83.0M606.2 81.2V83.0M607.3 81.4V83.0M609.8 79.3V83.0M609.2 75.6V83.0M609.7 80.4V83.0M608.2 78.3V83.0M609.8 80.4V83.0M608.3 76.8V83.0M607.6 81.2V83.0M609.1 81.3V83.0M607.0 80.4V83.0M607.0 74.9V83.0M622.2 81.2V83.0M620.8 79.1V83.0M619.9 81.4V83.0M617.4 77.8V83.0M620.4 79.3V83.0M620.1 81.4V83.0M620.1 70.9V83.0M620.5 74.0V83.0M616.9 74.2V83.0M619.8 79.0V83.0M621.8 80.5V83.0M620.7 77.0V83.0M622.5 79.0V83.0M618.7 80.7V83.0M630.8 80.1V83.0M630.7 72.2V83.0M633.3 80.1V83.0M632.7 81.0V83.0M631.0 81.0V83.0M631.0 80.1V83.0M632.6 78.0V83.0M632.5 73.5V83.0M631.6 80.8V83.0M633.1 78.5V83.0M640.1 70.1V76.8M641.1 72.4V76.8M641.9 74.3V76.8M641.7 72.9V76.8M641.0 74.9V76.8M641.4 66.6V76.8M640.8 62.3V76.8M640.9 67.0V76.8M649.2 72.7V76.8M648.7 74.3V76.8M649.3 73.7V76.8M649.8 75.1V76.8M650.4 68.4V76.8M650.6 75.0V76.8M649.2 73.9V76.8M648.6 72.3V76.8M655.8 73.1V76.8M656.5 75.2V76.8M657.7 74.7V76.8M655.7 74.7V76.8M657.1 72.2V76.8M655.6 75.0V76.8M656.6 74.6V76.8M661.8 68.4V76.8M661.4 74.0V76.8M662.0 73.1V76.8M662.3 72.5V76.8M662.5 65.2V76.8" stroke="#999999" stroke-width="0.8" fill="none"/>
<path d="M533.1 104.9V106.5M532.6 104.9V106.7M535.9 104.9V106.3M535.9 104.9V107.9M534.5 104.9V110.1M532.4 104.9V108.6M531.2 104.9V106.3M537.2 104.9V105.9M535.3 104.9V108.1M538.4 104.9V107.1M532.7 104.9V106.3M535.4 104.9V105.9M529.8 104.9V108.2M535.4 104.9V106.0M533.5 104.9V106.2M537.7 104.9V106.2M536.3 104.9V107.3M532.5 104.9V106.1M534.4 104.9V106.4M535.1 104.9V106.3M537.0 104.9V106.4M530.8 104.9V107.5M537.9 104.9V107.1M534.6 104.9V108.1M538.3 104.9V105.8M557.9 104.9V106.4M558.3 104.9V106.1M551.4 104.9V106.5M557.3 104.9V107.5M556.4 104.9V108.2M552.8 104.9V106.0M555.1 104.9V107.0M558.5 104.9V105.9M556.9 104.9V106.3M556.3 104.9V105.9M552.7 104.9V106.9M554.5 104.9V109.9M556.1 104.9V106.3M553.0 104.9V106.6M556.1 104.9V106.1M560.5 104.9V106.6M558.6 104.9V107.1M559.2 104.9V105.9M560.4 104.9V106.8M552.8 104.9V106.8M551.7 104.9V106.4M552.1 104.9V105.9M555.5 104.9V107.8M558.5 104.9V108.8M558.7 104.9V106.9M577.1 104.9V106.6M570.9 104.9V107.1M576.8 104.9V107.5M574.7 104.9V107.1M575.8 104.9V107.5M573.0 104.9V106.1M577.8 104.9V106.2M570.9 104.9V107.1M577.3 104.9V108.0M579.0 104.9V105.9M578.6 104.9V106.2M571.8 104.9V106.2M571.5 104.9V105.8M571.9 104.9V106.7M571.2 104.9V107.4M570.7 104.9V106.1M572.1 104.9V106.0M570.7 104.9V106.6M571.3 104.9V106.0M570.7 104.9V107.8M572.0 104.9V106.4M577.2 104.9V106.0M595.1 104.9V106.2M595.6 104.9V108.4M589.6 104.9V107.1M593.3 104.9V106.1M590.3 104.9V106.0M591.4 104.9V107.4M590.9 104.9V107.5M591.1 104.9V107.1M590.9 104.9V106.9M593.4 104.9V106.6M590.5 104.9V105.9M589.5 104.9V106.8M592.3 104.9V105.9M593.8 104.9V105.9M589.4 104.9V108.2M591.6 104.9V106.4M593.4 104.9V106.6M590.8 104.9V109.3M593.4 104.9V106.6M591.7 104.9V106.8M594.8 104.9V106.4M609.6 104.9V106.5M607.7 104.9V105.9M609.3 104.9V107.7M605.1 104.9V106.6M605.4 104.9V109.8M608.8 104.9V108.0M607.6 104.9V107.6M605.8 104.9V106.5M608.0 104.9V108.0M606.5 104.9V105.8M607.2 104.9V106.1M605.6 104.9V106.1M609.5 104.9V106.4M606.4 104.9V106.2M607.9 104.9V106.6M608.3 104.9V107.5M621.0 104.9V106.3M617.4 104.9V106.1M619.2 104.9V105.9M622.1 104.9V107.7M620.3 104.9V106.0M621.1 104.9V106.7M621.4 104.9V108.8M621.6 104.9V107.6M621.5 104.9V107.7M617.9 104.9V106.8M619.4 104.9V106.0M620.6 104.9V107.7M621.1 104.9V105.9M618.4 104.9V108.6M617.4 104.9V106.4M618.3 104.9V106.0M632.2 104.9V106.0M634.6 104.9V107.3M632.8 104.9V109.8M632.9 104.9V106.4M631.6 104.9V106.0M633.9 104.9V108.8M631.2 104.9V106.0M634.1 104.9V105.9M633.2 104.9V109.6M631.0 104.9V105.9M634.0 104.9V106.1M632.4 104.9V107.9M640.2 104.9V110.4M642.5 104.9V107.4M639.9 104.9V109.0M639.6 104.9V110.4M639.7 104.9V107.1M642.2 104.9V106.9M640.0 104.9V107.0M642.3 104.9V107.5M641.7 104.9V107.1M649.1 104.9V106.8M649.5 104.9V107.6M649.1 104.9V106.8M650.7 104.9V106.8M647.9 104.9V108.9M650.5 104.9V108.6M650.3 104.9V106.8M650.6 104.9V109.1M649.5 104.9V108.4M657.6 104.9V107.6M656.1 104.9V107.5M655.3 104.9V107.9M656.5 104.9V107.3M656.9 104.9V108.6M655.4 104.9V108.0M656.8 104.9V108.7M655.7 104.9V107.5M662.6 104.9V108.6M662.5 104.9V106.9M662.2 104.9V106.8M662.3 104.9V107.0M662.4 104.9V107.3M662.2 104.9V107.9" stroke="#5cb2f5" stroke-width="0.8" fill="none"/>
<path d="M542.4 77.8V80.2M544.3 74.3V80.2M548.3 74.4V80.2M545.9 76.7V80.2M541.7 75.4V80.2M546.7 76.5V80.2M547.5 67.1V80.2M549.9 78.3V80.2M542.7 75.8V80.2M547.1 77.6V80.2M549.7 76.8V80.2M547.9 78.5V80.2M542.6 78.6V80.2M548.2 76.4V80.2M550.0 75.9V80.2M543.1 77.3V80.2M543.7 78.0V80.2M540.8 75.5V80.2M543.0 76.8V80.2M547.3 77.7V80.2M544.4 77.5V80.2M543.1 75.4V80.2M540.7 77.1V80.2M540.8 75.3V80.2M542.8 68.7V80.2M568.0 79.4V81.7M566.4 72.2V81.7M567.7 80.0V81.7M568.6 70.1V81.7M565.4 79.3V81.7M565.4 77.9V81.7M561.9 74.6V81.7M567.0 78.7V81.7M568.4 79.6V81.7M569.1 74.4V81.7M565.5 79.8V81.7M565.3 79.9V81.7M566.2 79.7V81.7M565.9 78.6V81.7M564.2 77.6V81.7M566.0 73.8V81.7M565.3 77.7V81.7M567.7 79.7V81.7M566.1 79.6V81.7M565.7 78.1V81.7M584.9 77.1V81.4M582.5 79.1V81.4M585.0 78.6V81.4M582.1 75.9V81.4M586.9 74.3V81.4M580.7 75.6V81.4M584.0 79.7V81.4M586.0 77.5V81.4M583.5 79.7V81.4M584.1 77.9V81.4M586.2 72.8V81.4M580.8 72.8V81.4M582.8 79.8V81.4M585.6 74.9V81.4M585.9 79.4V81.4M585.5 72.0V81.4M587.1 78.5V81.4M586.3 79.5V81.4M603.3 75.5V81.4M599.3 78.1V81.4M603.1 77.4V81.4M598.9 77.0V81.4M598.0 75.0V81.4M599.5 78.5V81.4M602.5 79.4V81.4M600.2 79.5V81.4M599.4 78.6V81.4M603.6 75.7V81.4M598.3 79.4V81.4M598.1 78.1V81.4M601.4 72.8V81.4M600.3 79.4V81.4M597.5 77.3V81.4M601.7 74.7V81.4M614.2 79.1V83.0M614.2 78.1V83.0M612.8 80.5V83.0M611.4 78.3V83.0M615.5 80.7V83.0M612.9 81.0V83.0M615.4 78.1V83.0M615.8 79.5V83.0M612.4 79.3V83.0M612.7 80.1V83.0M614.8 79.2V83.0M612.0 80.2V83.0M624.9 81.3V83.0M627.3 78.2V83.0M627.4 81.4V83.0M628.1 73.9V83.0M626.5 80.0V83.0M623.9 71.3V83.0M625.8 81.4V83.0M625.1 81.0V83.0M629.6 76.1V83.0M629.3 80.7V83.0M624.0 80.6V83.0M627.9 80.6V83.0M625.9 78.4V83.0M626.5 81.1V83.0M625.4 80.6V83.0M636.8 72.4V81.1M638.1 70.3V81.1M637.6 67.5V81.1M636.0 76.7V81.1M637.2 77.5V81.1M638.2 72.7V81.1M635.9 76.3V81.1M636.6 78.8V81.1M645.5 69.7V76.1M644.1 67.7V76.1M644.0 74.5V76.1M643.9 74.4V76.1M646.0 72.3V76.1M645.3 68.9V76.1M643.4 72.9V76.1M644.3 72.8V76.1M644.5 74.5V76.1M652.4 72.1V76.1M653.7 74.1V76.1M652.9 64.0V76.1M652.9 64.9V76.1M653.8 72.1V76.1M653.1 74.3V76.1M651.5 65.9V76.1M652.2 73.3V76.1M658.8 70.9V76.8M659.6 70.7V76.8M658.9 71.5V76.8M660.2 70.8V76.8M658.9 73.6V76.8M664.2 73.3V76.8M665.1 74.2V76.8M664.5 74.7V76.8M663.8 74.9V76.8M663.7 73.6V76.8M665.6 74.3V76.8" stroke="#666666" stroke-width="0.8" fill="none"/>
<path d="M542.3 104.9V108.3M546.8 104.9V105.9M539.8 104.9V106.5M545.5 104.9V106.3M539.7 104.9V106.2M549.2 104.9V107.2M548.6 104.9V106.2M546.9 104.9V106.1M542.8 104.9V109.3M541.9 104.9V106.2M541.9 104.9V108.0M547.1 104.9V106.8M548.9 104.9V106.5M549.7 104.9V107.5M542.8 104.9V106.1M545.5 104.9V106.5M548.3 104.9V107.0M547.7 104.9V106.8M542.4 104.9V107.3M550.4 104.9V106.9M547.4 104.9V106.1M540.8 104.9V106.5M546.1 104.9V107.2M544.8 104.9V106.7M540.5 104.9V105.9M540.9 104.9V106.2M542.2 104.9V106.0M543.3 104.9V106.3M548.6 104.9V108.8M562.8 104.9V107.2M561.5 104.9V106.3M565.8 104.9V107.6M564.9 104.9V106.2M565.5 104.9V106.7M564.9 104.9V105.9M568.7 104.9V106.1M563.0 104.9V106.1M569.8 104.9V105.9M566.8 104.9V106.8M563.4 104.9V107.5M563.0 104.9V106.0M561.6 104.9V107.0M561.9 104.9V106.9M567.1 104.9V105.9M569.8 104.9V106.0M564.2 104.9V107.6M563.7 104.9V107.5M567.5 104.9V107.4M564.7 104.9V106.2M565.5 104.9V106.9M561.6 104.9V105.9M563.8 104.9V105.9M581.2 104.9V107.6M587.2 104.9V109.5M580.6 104.9V107.3M584.0 104.9V105.9M583.2 104.9V107.2M585.4 104.9V106.5M580.4 104.9V106.3M582.2 104.9V106.3M587.2 104.9V106.9M584.7 104.9V105.8M582.4 104.9V107.4M580.9 104.9V105.8M582.0 104.9V106.0M584.3 104.9V106.3M586.2 104.9V107.5M582.7 104.9V108.5M586.6 104.9V108.9M587.3 104.9V108.3M587.1 104.9V106.5M587.5 104.9V106.2M584.9 104.9V105.8M597.9 104.9V106.7M600.5 104.9V107.1M598.7 104.9V106.0M598.2 104.9V106.9M603.0 104.9V106.7M600.6 104.9V106.6M603.4 104.9V106.3M597.0 104.9V106.3M598.9 104.9V106.1M599.3 104.9V107.2M603.8 104.9V105.8M597.9 104.9V106.1M602.1 104.9V106.2M599.0 104.9V106.7M598.1 104.9V106.6M597.0 104.9V106.2M602.9 104.9V106.6M601.3 104.9V106.2M597.9 104.9V107.7M612.3 104.9V105.9M612.0 104.9V106.4M613.9 104.9V105.9M611.6 104.9V107.1M614.9 104.9V106.8M614.5 104.9V106.4M615.7 104.9V106.0M615.1 104.9V107.2M614.9 104.9V109.7M612.4 104.9V106.3M613.4 104.9V106.1M613.2 104.9V106.6M612.8 104.9V107.7M612.1 104.9V107.2M625.5 104.9V106.2M627.3 104.9V106.1M624.1 104.9V108.2M623.6 104.9V106.0M629.2 104.9V107.2M628.1 104.9V106.5M627.2 104.9V107.2M626.7 104.9V110.1M628.9 104.9V106.2M629.2 104.9V106.6M626.0 104.9V106.8M629.9 104.9V107.3M626.3 104.9V106.6M625.9 104.9V107.6M625.7 104.9V107.7M625.9 104.9V109.7M628.8 104.9V106.0M636.6 104.9V107.3M636.4 104.9V107.3M637.5 104.9V106.4M638.5 104.9V107.4M638.7 104.9V107.2M638.4 104.9V106.1M638.8 104.9V106.3M638.2 104.9V106.2M637.5 104.9V106.3M644.4 104.9V109.8M644.7 104.9V107.5M645.1 104.9V107.2M643.5 104.9V107.6M646.6 104.9V109.0M644.4 104.9V107.5M644.0 104.9V107.6M646.0 104.9V107.7M643.8 104.9V107.2M643.3 104.9V107.3M653.6 104.9V106.9M653.4 104.9V107.3M652.6 104.9V107.2M654.1 104.9V106.7M652.6 104.9V106.8M653.0 104.9V106.9M652.9 104.9V109.9M654.1 104.9V106.9M652.6 104.9V106.8M659.2 104.9V108.6M659.2 104.9V108.7M659.5 104.9V108.3M659.4 104.9V107.0M658.8 104.9V108.1M658.9 104.9V107.6M665.3 104.9V107.4M664.5 104.9V106.8M664.3 104.9V109.6M664.6 104.9V108.8M663.6 104.9V106.8M665.0 104.9V106.8M665.7 104.9V109.0" stroke="#326a98" stroke-width="0.8" fill="none"/>
<path d="M534.6 63.2V80.5M554.1 69.3V80.5M558.4 61.8V80.5M572.8 61.8V80.5M573.6 66.0V80.5M578.9 61.8V80.5M592.9 62.0V80.5M609.6 61.8V80.5M618.4 61.8V80.5M640.5 61.8V80.5M649.6 61.8V80.5M654.8 61.8V80.5M656.9 61.8V80.5" stroke="#8c8c8c" stroke-width="1.0" fill="none"/>
<path d="M540.9 61.8V80.5M543.4 61.8V80.5M548.3 61.8V80.5M547.4 61.8V80.5M564.9 61.8V80.5M582.4 61.8V80.5M587.7 61.8V80.5M596.5 61.8V80.5M598.4 61.8V80.5M613.6 61.8V80.5M623.3 61.8V80.5M644.0 61.8V80.5M659.2 61.8V80.5M663.9 72.0V80.5" stroke="#555555" stroke-width="1.0" fill="none"/>
<path d="M540.9 59.7V61.8M543.4 50.0V61.8M548.3 49.2V61.8M547.4 57.0V61.8M564.9 27.3V61.8M582.4 43.9V61.8M587.7 41.3V61.8M596.5 23.8V61.8M598.4 42.2V61.8M613.6 59.7V61.8M623.3 61.4V61.8M644.0 22.9V61.8M659.2 46.5V61.8" stroke="#5a5a5a" stroke-width="0.95" fill="none" stroke-dasharray="1 0.7 0.7 0.9"/>
<path d="M558.4 52.7V61.8M572.8 41.3V61.8M578.9 36.0V61.8M609.6 51.8V61.8M618.4 47.4V61.8M640.5 33.4V61.8M649.6 40.4V61.8M654.8 41.3V61.8M656.9 48.0V61.8" stroke="#8f8f8f" stroke-width="0.95" fill="none" stroke-dasharray="1 0.7 0.7 0.9"/>
<path d="M548.6 70.2V80.5M548.7 66.7V80.5M546.2 65.8V80.5M544.3 68.9V80.5M545.3 68.6V80.5M546.7 65.7V80.5M546.7 61.8V80.5M548.0 61.0V80.5M549.0 70.7V80.5M549.9 67.4V80.5M545.1 60.9V80.5M545.6 58.1V80.5M546.1 63.2V80.5M548.1 67.6V80.5" stroke="#5a5a5a" stroke-width="0.8" fill="none" stroke-dasharray="1.2 0.4 0.8 0.5"/>
<rect x="542.7" y="73.5" width="2.1" height="1.5" fill="#7fff00"/>
<rect x="542.7" y="76.6" width="2.1" height="16.9" fill="#7fff00"/>
<rect x="596.5" y="74.4" width="2" height="19.1" fill="#7fff00"/>
<line x1="522.4" y1="49.3" x2="672" y2="49.3" stroke="#dddddd" stroke-width="0.6" stroke-dasharray="1.6 1.6"/>
<line x1="522.4" y1="73.32" x2="672" y2="73.32" stroke="#f03030" stroke-width="0.8" stroke-dasharray="2 1.6"/>
<line x1="522.4" y1="111.68" x2="672" y2="111.68" stroke="#f03030" stroke-width="0.8" stroke-dasharray="2 1.6"/>
<line x1="522.4" y1="17.3" x2="522.4" y2="93.5" stroke="#444444" stroke-width="0.9"/>
<line x1="522.4" y1="93.5" x2="672" y2="93.5" stroke="#444444" stroke-width="0.9"/>
<line x1="522.4" y1="100.5" x2="522.4" y2="180" stroke="#444444" stroke-width="0.9"/>
<line x1="522.4" y1="100.5" x2="672" y2="100.5" stroke="#444444" stroke-width="0.9"/>
<line x1="520.9" y1="80.5" x2="522.4" y2="80.5" stroke="#333333" stroke-width="0.6"/>
<text x="520.2" y="82.7" font-size="5.8" text-anchor="end" font-weight="normal" fill="#333333" stroke="#333333" stroke-width="0.18">5</text>
<line x1="520.9" y1="64.9" x2="522.4" y2="64.9" stroke="#333333" stroke-width="0.6"/>
<text x="520.2" y="67.1" font-size="5.8" text-anchor="end" font-weight="normal" fill="#333333" stroke="#333333" stroke-width="0.18">10</text>
<line x1="520.9" y1="49.3" x2="522.4" y2="49.3" stroke="#333333" stroke-width="0.6"/>
<text x="520.2" y="51.5" font-size="5.8" text-anchor="end" font-weight="normal" fill="#333333" stroke="#333333" stroke-width="0.18">15</text>
<line x1="520.9" y1="26.51" x2="522.4" y2="26.51" stroke="#333333" stroke-width="0.6"/>
<text x="520.2" y="28.71" font-size="5.8" text-anchor="end" font-weight="normal" fill="#333333" stroke="#333333" stroke-width="0.18">50</text>
<line x1="520.9" y1="107.65" x2="522.4" y2="107.65" stroke="#333333" stroke-width="0.6"/>
<text x="520.2" y="109.85" font-size="5.8" text-anchor="end" font-weight="normal" fill="#333333" stroke="#333333" stroke-width="0.18">5</text>
<line x1="520.9" y1="116.8" x2="522.4" y2="116.8" stroke="#333333" stroke-width="0.6"/>
<text x="520.2" y="119" font-size="5.8" text-anchor="end" font-weight="normal" fill="#333333" stroke="#333333" stroke-width="0.18">10</text>
<line x1="520.9" y1="125.95" x2="522.4" y2="125.95" stroke="#333333" stroke-width="0.6"/>
<text x="520.2" y="128.15" font-size="5.8" text-anchor="end" font-weight="normal" fill="#333333" stroke="#333333" stroke-width="0.18">15</text>
<line x1="520.9" y1="135.1" x2="522.4" y2="135.1" stroke="#333333" stroke-width="0.6"/>
<text x="520.2" y="137.3" font-size="5.8" text-anchor="end" font-weight="normal" fill="#333333" stroke="#333333" stroke-width="0.18">20</text>
<line x1="520.9" y1="171.7" x2="522.4" y2="171.7" stroke="#333333" stroke-width="0.6"/>
<text x="520.2" y="173.9" font-size="5.8" text-anchor="end" font-weight="normal" fill="#333333" stroke="#333333" stroke-width="0.18">40</text>
<line x1="534.2" y1="93.5" x2="534.2" y2="95" stroke="#333" stroke-width="0.7"/>
<line x1="534.2" y1="99" x2="534.2" y2="100.5" stroke="#333" stroke-width="0.7"/>
<text x="534.2" y="97.9" font-size="3.1" text-anchor="middle" font-weight="normal" fill="#222">1</text>
<line x1="545.05" y1="93.5" x2="545.05" y2="95" stroke="#333" stroke-width="0.7"/>
<line x1="545.05" y1="99" x2="545.05" y2="100.5" stroke="#333" stroke-width="0.7"/>
<text x="545.05" y="97.9" font-size="3.1" text-anchor="middle" font-weight="normal" fill="#222">2</text>
<line x1="556" y1="93.5" x2="556" y2="95" stroke="#333" stroke-width="0.7"/>
<line x1="556" y1="99" x2="556" y2="100.5" stroke="#333" stroke-width="0.7"/>
<text x="556" y="97.9" font-size="3.1" text-anchor="middle" font-weight="normal" fill="#222">3</text>
<line x1="565.75" y1="93.5" x2="565.75" y2="95" stroke="#333" stroke-width="0.7"/>
<line x1="565.75" y1="99" x2="565.75" y2="100.5" stroke="#333" stroke-width="0.7"/>
<text x="565.75" y="97.9" font-size="3.1" text-anchor="middle" font-weight="normal" fill="#222">4</text>
<line x1="574.9" y1="93.5" x2="574.9" y2="95" stroke="#333" stroke-width="0.7"/>
<line x1="574.9" y1="99" x2="574.9" y2="100.5" stroke="#333" stroke-width="0.7"/>
<text x="574.9" y="97.9" font-size="3.1" text-anchor="middle" font-weight="normal" fill="#222">5</text>
<line x1="583.65" y1="93.5" x2="583.65" y2="95" stroke="#333" stroke-width="0.7"/>
<line x1="583.65" y1="99" x2="583.65" y2="100.5" stroke="#333" stroke-width="0.7"/>
<text x="583.65" y="97.9" font-size="3.1" text-anchor="middle" font-weight="normal" fill="#222">6</text>
<line x1="592.2" y1="93.5" x2="592.2" y2="95" stroke="#333" stroke-width="0.7"/>
<line x1="592.2" y1="99" x2="592.2" y2="100.5" stroke="#333" stroke-width="0.7"/>
<text x="592.2" y="97.9" font-size="3.1" text-anchor="middle" font-weight="normal" fill="#222">7</text>
<line x1="600.35" y1="93.5" x2="600.35" y2="95" stroke="#333" stroke-width="0.7"/>
<line x1="600.35" y1="99" x2="600.35" y2="100.5" stroke="#333" stroke-width="0.7"/>
<text x="600.35" y="97.9" font-size="3.1" text-anchor="middle" font-weight="normal" fill="#222">8</text>
<line x1="607.4" y1="93.5" x2="607.4" y2="95" stroke="#333" stroke-width="0.7"/>
<line x1="607.4" y1="99" x2="607.4" y2="100.5" stroke="#333" stroke-width="0.7"/>
<text x="607.4" y="97.9" font-size="3.1" text-anchor="middle" font-weight="normal" fill="#222">9</text>
<line x1="613.55" y1="93.5" x2="613.55" y2="95" stroke="#333" stroke-width="0.7"/>
<line x1="613.55" y1="99" x2="613.55" y2="100.5" stroke="#333" stroke-width="0.7"/>
<text x="613.55" y="97.9" font-size="3.1" text-anchor="middle" font-weight="normal" fill="#222">10</text>
<line x1="619.85" y1="93.5" x2="619.85" y2="95" stroke="#333" stroke-width="0.7"/>
<line x1="619.85" y1="99" x2="619.85" y2="100.5" stroke="#333" stroke-width="0.7"/>
<text x="619.85" y="97.9" font-size="3.1" text-anchor="middle" font-weight="normal" fill="#222">11</text>
<line x1="626.75" y1="93.5" x2="626.75" y2="95" stroke="#333" stroke-width="0.7"/>
<line x1="626.75" y1="99" x2="626.75" y2="100.5" stroke="#333" stroke-width="0.7"/>
<text x="626.75" y="97.9" font-size="3.1" text-anchor="middle" font-weight="normal" fill="#222">12</text>
<line x1="632.75" y1="93.5" x2="632.75" y2="95" stroke="#333" stroke-width="0.7"/>
<line x1="632.75" y1="99" x2="632.75" y2="100.5" stroke="#333" stroke-width="0.7"/>
<text x="632.75" y="97.9" font-size="3.1" text-anchor="middle" font-weight="normal" fill="#222">13</text>
<line x1="637.15" y1="93.5" x2="637.15" y2="95" stroke="#333" stroke-width="0.7"/>
<line x1="637.15" y1="99" x2="637.15" y2="100.5" stroke="#333" stroke-width="0.7"/>
<text x="637.15" y="97.9" font-size="3.1" text-anchor="middle" font-weight="normal" fill="#222">14</text>
<line x1="641" y1="93.5" x2="641" y2="95" stroke="#333" stroke-width="0.7"/>
<line x1="641" y1="99" x2="641" y2="100.5" stroke="#333" stroke-width="0.7"/>
<line x1="645" y1="93.5" x2="645" y2="95" stroke="#333" stroke-width="0.7"/>
<line x1="645" y1="99" x2="645" y2="100.5" stroke="#333" stroke-width="0.7"/>
<text x="645" y="97.9" font-size="3.1" text-anchor="middle" font-weight="normal" fill="#222">16</text>
<line x1="649.05" y1="93.5" x2="649.05" y2="95" stroke="#333" stroke-width="0.7"/>
<line x1="649.05" y1="99" x2="649.05" y2="100.5" stroke="#333" stroke-width="0.7"/>
<line x1="652.9" y1="93.5" x2="652.9" y2="95" stroke="#333" stroke-width="0.7"/>
<line x1="652.9" y1="99" x2="652.9" y2="100.5" stroke="#333" stroke-width="0.7"/>
<text x="652.9" y="97.9" font-size="3.1" text-anchor="middle" font-weight="normal" fill="#222">18</text>
<line x1="656.55" y1="93.5" x2="656.55" y2="95" stroke="#333" stroke-width="0.7"/>
<line x1="656.55" y1="99" x2="656.55" y2="100.5" stroke="#333" stroke-width="0.7"/>
<line x1="659.55" y1="93.5" x2="659.55" y2="95" stroke="#333" stroke-width="0.7"/>
<line x1="659.55" y1="99" x2="659.55" y2="100.5" stroke="#333" stroke-width="0.7"/>
<text x="659.55" y="97.9" font-size="3.1" text-anchor="middle" font-weight="normal" fill="#222">20</text>
<line x1="662" y1="93.5" x2="662" y2="95" stroke="#333" stroke-width="0.7"/>
<line x1="662" y1="99" x2="662" y2="100.5" stroke="#333" stroke-width="0.7"/>
<line x1="664.65" y1="93.5" x2="664.65" y2="95" stroke="#333" stroke-width="0.7"/>
<line x1="664.65" y1="99" x2="664.65" y2="100.5" stroke="#333" stroke-width="0.7"/>
<text x="664.65" y="97.9" font-size="3.1" text-anchor="middle" font-weight="normal" fill="#222">22</text>
<text x="537.1" y="49.9" font-size="4.65" text-anchor="middle" font-weight="bold" fill="#f52a2a" font-style="italic">ATP6V1B1</text>
<line x1="535.9" y1="52.5" x2="542.4" y2="73.7" stroke="#d83030" stroke-width="0.6"/>
<text x="607.4" y="49.9" font-size="4.5" text-anchor="middle" font-weight="bold" fill="#f52a2a" font-style="italic">BLK</text>
<line x1="606" y1="51.8" x2="597.2" y2="73.7" stroke="#d83030" stroke-width="0.6"/>
<text x="89" y="12.7" font-size="8" text-anchor="middle" font-weight="bold" fill="#000">SPA<tspan font-size="5.6" dy="1.2">GRM</tspan></text>
<text x="258.5" y="12.7" font-size="8" text-anchor="middle" font-weight="bold" fill="#000">SPA<tspan font-size="5.6" dy="1.2">GRM(CCT)</tspan></text>
<text x="427.5" y="12.7" font-size="8" text-anchor="middle" font-weight="bold" fill="#000">Norm<tspan font-size="5.6" dy="1.2">GRM</tspan></text>
<text x="597" y="12.7" font-size="8" text-anchor="middle" font-weight="bold" fill="#000">TrajGWAS</text>
<text x="5.6" y="90.4" font-size="8.3" text-anchor="middle" font-weight="normal" fill="#000" transform="rotate(-90 5.6 90.4)">−log<tspan font-size="5.6" dy="1.6">10</tspan><tspan dy="-1.6" font-style="italic">P</tspan></text>
<text x="676.5" y="55.3" font-size="8" text-anchor="middle" font-weight="normal" fill="#000" transform="rotate(90 676.5 55.3)">Testing for β<tspan font-size="5.4" dy="2.0">0</tspan><tspan dy="-2.0"> = 0</tspan></text>
<text x="676.5" y="140.2" font-size="8" text-anchor="middle" font-weight="normal" fill="#000" transform="rotate(90 676.5 140.2)">Testing for τ<tspan font-size="5.4" dy="2.0">0</tspan><tspan dy="-2.0"> = 0</tspan></text>
<line x1="22.5" y1="235.5" x2="128.7" y2="235.5" stroke="#dddddd" stroke-width="0.6" stroke-dasharray="1.6 1.6"/>
<line x1="22.5" y1="273.45" x2="128.7" y2="273.45" stroke="#f03030" stroke-width="0.8" stroke-dasharray="2 1.6"/>
<line x1="22.5" y1="341.4" x2="128.7" y2="341.4" stroke="#dddddd" stroke-width="0.6" stroke-dasharray="1.6 1.6"/>
<line x1="22.5" y1="381.37" x2="128.7" y2="381.37" stroke="#f03030" stroke-width="0.8" stroke-dasharray="2 1.6"/>
<line x1="148.5" y1="235.5" x2="254.7" y2="235.5" stroke="#dddddd" stroke-width="0.6" stroke-dasharray="1.6 1.6"/>
<line x1="148.5" y1="273.45" x2="254.7" y2="273.45" stroke="#f03030" stroke-width="0.8" stroke-dasharray="2 1.6"/>
<line x1="148.5" y1="341.4" x2="254.7" y2="341.4" stroke="#dddddd" stroke-width="0.6" stroke-dasharray="1.6 1.6"/>
<line x1="148.5" y1="381.37" x2="254.7" y2="381.37" stroke="#f03030" stroke-width="0.8" stroke-dasharray="2 1.6"/>
<line x1="274.1" y1="235.5" x2="380.3" y2="235.5" stroke="#dddddd" stroke-width="0.6" stroke-dasharray="1.6 1.6"/>
<line x1="274.1" y1="273.45" x2="380.3" y2="273.45" stroke="#f03030" stroke-width="0.8" stroke-dasharray="2 1.6"/>
<line x1="274.1" y1="341.4" x2="380.3" y2="341.4" stroke="#dddddd" stroke-width="0.6" stroke-dasharray="1.6 1.6"/>
<line x1="274.1" y1="381.37" x2="380.3" y2="381.37" stroke="#f03030" stroke-width="0.8" stroke-dasharray="2 1.6"/>
<line x1="399.5" y1="235.5" x2="505.7" y2="235.5" stroke="#dddddd" stroke-width="0.6" stroke-dasharray="1.6 1.6"/>
<line x1="399.5" y1="273.45" x2="505.7" y2="273.45" stroke="#f03030" stroke-width="0.8" stroke-dasharray="2 1.6"/>
<line x1="399.5" y1="341.4" x2="505.7" y2="341.4" stroke="#dddddd" stroke-width="0.6" stroke-dasharray="1.6 1.6"/>
<line x1="399.5" y1="381.37" x2="505.7" y2="381.37" stroke="#f03030" stroke-width="0.8" stroke-dasharray="2 1.6"/>
<line x1="22.5" y1="310.5" x2="128.56" y2="273.94" stroke="#111" stroke-width="0.6"/>
<polyline points="27.2,309.6 50,302.6 79.5,293.4 99.2,286.1 110,282.4 113,281.2 116,279.4" fill="none" stroke="#cf9a10" stroke-width="2" stroke-linejoin="round" stroke-linecap="round"/>
<circle cx="119" cy="277.2" r="0.95" fill="#cf9a10"/>
<circle cx="123.3" cy="259.1" r="0.95" fill="#cf9a10"/>
<polyline points="27.2,309.1 60,297.6 80,290.6 99.2,283.6 103.2,279.6 106.1,275.3" fill="none" stroke="#00bf7d" stroke-width="2" stroke-linejoin="round" stroke-linecap="round"/>
<circle cx="107.6" cy="273" r="0.95" fill="#00bf7d"/>
<circle cx="109.1" cy="270.9" r="0.95" fill="#00bf7d"/>
<circle cx="110.5" cy="269.8" r="0.95" fill="#00bf7d"/>
<circle cx="111.8" cy="269" r="0.95" fill="#00bf7d"/>
<circle cx="113" cy="268.4" r="0.95" fill="#00bf7d"/>
<circle cx="115" cy="264.4" r="0.95" fill="#00bf7d"/>
<circle cx="119.9" cy="257.5" r="0.95" fill="#00bf7d"/>
<line x1="27.4" y1="309" x2="128.56" y2="273.94" stroke="#111" stroke-width="0.5" stroke-dasharray="1.2 1.2"/>
<polyline points="27.2,309.1 40,303.2 51.6,298.3 61.2,294.4 69,290.5 73.8,285.7 75.7,279.9 76.7,273.2 77.6,269.3 79.5,267.6 81.5,266.4 83.4,259.6 84.8,256.4 88.4,255.2 90.2,254.8 92.1,252.9 95,245.2 96.9,241.3 99.8,239.4 103.2,237.8 108.1,235.8 111,235.4" fill="none" stroke="#00a9ff" stroke-width="2" stroke-linejoin="round" stroke-linecap="round"/>
<circle cx="114" cy="234.8" r="0.95" fill="#00a9ff"/>
<circle cx="118" cy="233.4" r="0.95" fill="#00a9ff"/>
<polyline points="27.2,309.1 33,306.4 40,303 45.8,300.2 51.6,296.3 56.4,291.9 60.3,286.7 63.2,280.9 66.1,273.2 69,265.4 70.9,259.6 72.8,251.9 74.4,243.2 75.7,235.5 79.5,234.2 89.3,231.4 99.2,228.9 109.1,227.9 117,227.3" fill="none" stroke="#ff61cc" stroke-width="2" stroke-linejoin="round" stroke-linecap="round"/>
<circle cx="119.9" cy="227.3" r="0.95" fill="#ff61cc"/>
<circle cx="123.9" cy="226.3" r="0.95" fill="#ff61cc"/>
<line x1="148.5" y1="310.5" x2="254.56" y2="273.94" stroke="#111" stroke-width="0.6"/>
<polyline points="153.2,309.6 176,302.6 205.5,293.4 225.2,286.1 236,282.4 239,281.2 242,279.4" fill="none" stroke="#cf9a10" stroke-width="2" stroke-linejoin="round" stroke-linecap="round"/>
<circle cx="245" cy="277.2" r="0.95" fill="#cf9a10"/>
<circle cx="249.3" cy="259.1" r="0.95" fill="#cf9a10"/>
<polyline points="153.2,309.1 186,297.6 206,290.6 225.2,283.6 229.2,279.6 232.1,275.3" fill="none" stroke="#00bf7d" stroke-width="2" stroke-linejoin="round" stroke-linecap="round"/>
<circle cx="233.6" cy="273" r="0.95" fill="#00bf7d"/>
<circle cx="235.1" cy="270.9" r="0.95" fill="#00bf7d"/>
<circle cx="236.5" cy="269.8" r="0.95" fill="#00bf7d"/>
<circle cx="237.8" cy="269" r="0.95" fill="#00bf7d"/>
<circle cx="239" cy="268.4" r="0.95" fill="#00bf7d"/>
<circle cx="241" cy="264.4" r="0.95" fill="#00bf7d"/>
<circle cx="245.9" cy="257.5" r="0.95" fill="#00bf7d"/>
<line x1="153.4" y1="309" x2="254.56" y2="273.94" stroke="#111" stroke-width="0.5" stroke-dasharray="1.2 1.2"/>
<polyline points="153.2,309.1 166,303.2 177.6,298.3 187.2,294.4 195,290.5 199.8,285.7 201.7,279.9 202.7,273.2 203.6,269.3 205.5,267.6 207.5,266.4 209.4,259.6 210.8,256.4 214.4,255.2 216.2,254.8 218.1,252.9 221,245.2 222.9,241.3 225.8,239.4 229.2,237.8 234.1,235.8 237,235.4" fill="none" stroke="#00a9ff" stroke-width="2" stroke-linejoin="round" stroke-linecap="round"/>
<circle cx="240" cy="234.8" r="0.95" fill="#00a9ff"/>
<circle cx="244" cy="233.4" r="0.95" fill="#00a9ff"/>
<polyline points="153.2,309.1 159,306.4 166,303 171.8,300.2 177.6,296.3 182.4,291.9 186.3,286.7 189.2,280.9 192.1,273.2 195,265.4 196.9,259.6 198.8,251.9 200.4,243.2 201.7,235.5 205.5,234.2 215.3,231.4 225.2,228.9 235.1,227.9 243,227.3" fill="none" stroke="#ff61cc" stroke-width="2" stroke-linejoin="round" stroke-linecap="round"/>
<circle cx="245.9" cy="227.3" r="0.95" fill="#ff61cc"/>
<circle cx="249.9" cy="226.3" r="0.95" fill="#ff61cc"/>
<line x1="274.1" y1="310.5" x2="380.16" y2="273.94" stroke="#111" stroke-width="0.6"/>
<polyline points="278.8,309.6 301.6,302.6 331.1,293.4 350.8,286.1 361.6,282.4 364.6,281.2 367.6,279.4" fill="none" stroke="#cf9a10" stroke-width="2" stroke-linejoin="round" stroke-linecap="round"/>
<circle cx="370.6" cy="277.2" r="0.95" fill="#cf9a10"/>
<circle cx="374.9" cy="259.1" r="0.95" fill="#cf9a10"/>
<polyline points="278.8,309.1 311.6,297.6 331.6,290.6 350.8,283.6 354.8,279.6 357.7,275.3" fill="none" stroke="#00bf7d" stroke-width="2" stroke-linejoin="round" stroke-linecap="round"/>
<circle cx="359.2" cy="273" r="0.95" fill="#00bf7d"/>
<circle cx="360.7" cy="270.9" r="0.95" fill="#00bf7d"/>
<circle cx="362.1" cy="269.8" r="0.95" fill="#00bf7d"/>
<circle cx="363.4" cy="269" r="0.95" fill="#00bf7d"/>
<circle cx="364.6" cy="268.4" r="0.95" fill="#00bf7d"/>
<circle cx="366.6" cy="264.4" r="0.95" fill="#00bf7d"/>
<circle cx="371.5" cy="257.5" r="0.95" fill="#00bf7d"/>
<line x1="279" y1="309" x2="380.16" y2="273.94" stroke="#111" stroke-width="0.5" stroke-dasharray="1.2 1.2"/>
<polyline points="278.8,309.1 291.6,303.2 303.2,298.3 312.8,294.4 320.6,290.5 325.4,285.7 327.3,279.9 328.3,273.2 329.2,269.3 331.1,267.6 333.1,266.4 335,259.6 336.4,256.4 340,255.2 341.8,254.8 343.7,252.9 346.6,245.2 348.5,241.3 351.4,239.4 354.8,237.8 359.7,235.8 362.6,235.4" fill="none" stroke="#00a9ff" stroke-width="2" stroke-linejoin="round" stroke-linecap="round"/>
<circle cx="365.6" cy="234.8" r="0.95" fill="#00a9ff"/>
<circle cx="369.6" cy="233.4" r="0.95" fill="#00a9ff"/>
<polyline points="278.8,309.1 284.6,306.4 291.6,303 297.4,300.2 303.2,296.3 308,291.9 311.9,286.7 314.8,280.9 317.7,273.2 320.6,265.4 322.5,259.6 324.4,251.9 326,243.2 327.3,235.5 331.1,234.2 340.9,231.4 350.8,228.9 360.7,227.9 368.6,227.3" fill="none" stroke="#ff61cc" stroke-width="2" stroke-linejoin="round" stroke-linecap="round"/>
<circle cx="371.5" cy="227.3" r="0.95" fill="#ff61cc"/>
<circle cx="375.5" cy="226.3" r="0.95" fill="#ff61cc"/>
<line x1="399.5" y1="310.5" x2="505.56" y2="273.94" stroke="#111" stroke-width="0.6"/>
<polyline points="403.3,309.3 440,296.8 470,286.6 495.9,278.6" fill="none" stroke="#cf9a10" stroke-width="2" stroke-linejoin="round" stroke-linecap="round"/>
<circle cx="499.9" cy="261.4" r="0.95" fill="#cf9a10"/>
<polyline points="403.3,309.1 440,296 465.3,285.6 475.2,282.2 479.2,279.4 486.1,275.9" fill="none" stroke="#00bf7d" stroke-width="2" stroke-linejoin="round" stroke-linecap="round"/>
<circle cx="487" cy="272.9" r="0.95" fill="#00bf7d"/>
<circle cx="488" cy="263" r="0.95" fill="#00bf7d"/>
<circle cx="490" cy="261.4" r="0.95" fill="#00bf7d"/>
<circle cx="492.6" cy="260.5" r="0.95" fill="#00bf7d"/>
<circle cx="496.5" cy="254.5" r="0.95" fill="#00bf7d"/>
<polyline points="403.3,309.1 415,303.5 434.3,295.4 444,291.5 449.7,287.6 452.6,283.8 454.6,277 456.5,275.1 458.4,273.2 460.4,266.4 462.3,262.5 466.2,261.6 470,261.6 471.9,256.7 472.9,250.9 475,249 479.2,246.6 483.1,245.3 486.1,244.1" fill="none" stroke="#00a9ff" stroke-width="2" stroke-linejoin="round" stroke-linecap="round"/>
<circle cx="487" cy="242.7" r="0.95" fill="#00a9ff"/>
<circle cx="488.6" cy="238.7" r="0.95" fill="#00a9ff"/>
<circle cx="491" cy="235.8" r="0.95" fill="#00a9ff"/>
<circle cx="494.9" cy="233.8" r="0.95" fill="#00a9ff"/>
<polyline points="403.3,309.1 409,306.5 415,303.1 420.8,300.2 426.6,296.3 434.3,290.5 440.1,283.8 444,277 445.9,270.3 448.8,263.5 451.7,256.7 453.6,247.1 455,239.4 455.9,235.4 461.4,234.2 469.3,231.8 477.2,230.3 485.1,228.9 493,228.3" fill="none" stroke="#ff61cc" stroke-width="2" stroke-linejoin="round" stroke-linecap="round"/>
<circle cx="497" cy="228.1" r="0.95" fill="#ff61cc"/>
<circle cx="500.9" cy="227.9" r="0.95" fill="#ff61cc"/>
<line x1="22.5" y1="420.1" x2="128.56" y2="381.88" stroke="#111" stroke-width="0.6"/>
<line x1="148.5" y1="420.1" x2="254.56" y2="381.88" stroke="#111" stroke-width="0.6"/>
<line x1="274.1" y1="420.1" x2="380.16" y2="381.88" stroke="#111" stroke-width="0.6"/>
<line x1="399.5" y1="420.1" x2="505.56" y2="381.88" stroke="#111" stroke-width="0.6"/>
<polyline points="27.4,418.6 41.45,414.52 55.5,409.68 69.55,404.83 83.6,399.73 97.65,395.65 111.7,390.04 115.91,388" fill="none" stroke="#cf9a10" stroke-width="2" stroke-linejoin="round" stroke-linecap="round"/>
<circle cx="121.53" cy="384.94" r="0.8" fill="#cf9a10"/>
<polyline points="27.4,418.6 55.5,408.91 83.6,399.73 97.65,396.16 108.89,392.59 115.35,391.57" fill="none" stroke="#00bf7d" stroke-width="2" stroke-linejoin="round" stroke-linecap="round"/>
<circle cx="119.85" cy="390.55" r="0.8" fill="#00bf7d"/>
<polyline points="27.4,418.6 55.5,408.66 76.58,400.5 83.6,398.97 97.65,394.63 111.7,390.04 117.88,388.31" fill="none" stroke="#00a9ff" stroke-width="2" stroke-linejoin="round" stroke-linecap="round"/>
<polyline points="27.4,418.6 55.5,408.66 83.6,399.22 97.65,394.63 110.3,389.02 112.54,385.45 117.32,384.94" fill="none" stroke="#ff61cc" stroke-width="2" stroke-linejoin="round" stroke-linecap="round"/>
<polyline points="153.4,418.6 167.45,414.27 181.5,409.42 195.55,404.58 209.6,399.48 223.65,394.12 241.77,388.31" fill="none" stroke="#cf9a10" stroke-width="2" stroke-linejoin="round" stroke-linecap="round"/>
<circle cx="242.62" cy="387.49" r="0.8" fill="#cf9a10"/>
<polyline points="153.4,418.6 181.5,408.91 209.6,400.24 223.65,396.16 240.51,392.18" fill="none" stroke="#00bf7d" stroke-width="2" stroke-linejoin="round" stroke-linecap="round"/>
<circle cx="246.13" cy="393.61" r="0.8" fill="#00bf7d"/>
<polyline points="153.4,418.6 181.5,408.66 209.6,398.97 223.65,394.38 237.84,390.3" fill="none" stroke="#00a9ff" stroke-width="2" stroke-linejoin="round" stroke-linecap="round"/>
<circle cx="241.92" cy="389.53" r="0.8" fill="#00a9ff"/>
<circle cx="245.43" cy="391.57" r="0.8" fill="#00a9ff"/>
<polyline points="153.4,418.6 181.5,408.4 209.6,398.46 218.17,392.9 224.63,385.71 232.64,384.28 243.18,383.61" fill="none" stroke="#ff61cc" stroke-width="2" stroke-linejoin="round" stroke-linecap="round"/>
<polyline points="279,418.6 307.8,407.89 329.44,400.09 345.32,395.14 357.12,392.18 361.05,388.2 364.99,385.3" fill="none" stroke="#ff61cc" stroke-width="2" stroke-linejoin="round" stroke-linecap="round"/>
<circle cx="368.92" cy="384.28" r="0.8" fill="#ff61cc"/>
<polyline points="279,418.6 307.8,407.89 325.51,399.12 337.45,394.12 347.14,390.19 352.2,386.22 357.12,383.72 363.02,382.9" fill="none" stroke="#00a9ff" stroke-width="2" stroke-linejoin="round" stroke-linecap="round"/>
<circle cx="368.92" cy="382.39" r="0.8" fill="#00a9ff"/>
<polyline points="279,418.6 307.8,407.64 319.6,397.18 329.44,390.19 339.27,383.31 347.14,377.39 353.18,371.43 357.12,368.52 359.09,366.58" fill="none" stroke="#00bf7d" stroke-width="2" stroke-linejoin="round" stroke-linecap="round"/>
<circle cx="361.05" cy="362.5" r="0.8" fill="#00bf7d"/>
<circle cx="364" cy="360.46" r="0.8" fill="#00bf7d"/>
<circle cx="366.95" cy="356.38" r="0.8" fill="#00bf7d"/>
<circle cx="370.89" cy="349.75" r="0.8" fill="#00bf7d"/>
<polyline points="279,418.6 289.96,415.54 299.93,412.23 306.82,408.4 311.74,404.01 316.65,397.18 321.57,386.98 325.51,375.25 329.44,359.44 333.37,342.1 341.24,340.3 353.04,338.91 364.85,337.9 368.78,337.51" fill="none" stroke="#cf9a10" stroke-width="2" stroke-linejoin="round" stroke-linecap="round"/>
<circle cx="370.32" cy="337.09" r="0.8" fill="#cf9a10"/>
<circle cx="374.68" cy="335.92" r="0.8" fill="#cf9a10"/>
<polyline points="404.4,418.6 416.06,414.98 432.08,408.5 448.24,402.89 464.25,397.28 477.04,394.12 485.05,392.49 489.96,390.09" fill="none" stroke="#ff61cc" stroke-width="2" stroke-linejoin="round" stroke-linecap="round"/>
<circle cx="496.43" cy="390.09" r="0.8" fill="#ff61cc"/>
<circle cx="501.2" cy="386.11" r="0.8" fill="#ff61cc"/>
<polyline points="404.4,418.6 432.5,408.4 460.6,398.2 481.67,391.32 491.51,388" fill="none" stroke="#00a9ff" stroke-width="2" stroke-linejoin="round" stroke-linecap="round"/>
<polyline points="404.4,418.6 432.5,408.15 460.6,397.69 481.67,390.55 491.51,387.49" fill="none" stroke="#00bf7d" stroke-width="2" stroke-linejoin="round" stroke-linecap="round"/>
<polyline points="404.4,418.6 416.06,412.58 425.76,407.69 435.31,403.71 448.24,399.68 461.02,395.7 472.26,392.49 483.5,388.51 489.96,386.11" fill="none" stroke="#cf9a10" stroke-width="2" stroke-linejoin="round" stroke-linecap="round"/>
<circle cx="491.51" cy="381.98" r="0.8" fill="#cf9a10"/>
<circle cx="494.04" cy="379.59" r="0.8" fill="#cf9a10"/>
<circle cx="496.43" cy="378" r="0.8" fill="#cf9a10"/>
<circle cx="500.36" cy="377.7" r="0.8" fill="#cf9a10"/>
<line x1="22.5" y1="222.4" x2="22.5" y2="312.5" stroke="#444444" stroke-width="0.9"/>
<line x1="22.5" y1="312.5" x2="128.7" y2="312.5" stroke="#444444" stroke-width="0.9"/>
<line x1="21" y1="229.4" x2="22.5" y2="229.4" stroke="#333333" stroke-width="0.6"/>
<text x="20.3" y="231.6" font-size="5.8" text-anchor="end" font-weight="normal" fill="#333333" stroke="#333333" stroke-width="0.18">50</text>
<line x1="21" y1="235.5" x2="22.5" y2="235.5" stroke="#333333" stroke-width="0.6"/>
<text x="20.3" y="237.7" font-size="5.8" text-anchor="end" font-weight="normal" fill="#333333" stroke="#333333" stroke-width="0.18">15</text>
<line x1="21" y1="260.5" x2="22.5" y2="260.5" stroke="#333333" stroke-width="0.6"/>
<text x="20.3" y="262.7" font-size="5.8" text-anchor="end" font-weight="normal" fill="#333333" stroke="#333333" stroke-width="0.18">10</text>
<line x1="21" y1="284.6" x2="22.5" y2="284.6" stroke="#333333" stroke-width="0.6"/>
<text x="20.3" y="286.8" font-size="5.8" text-anchor="end" font-weight="normal" fill="#333333" stroke="#333333" stroke-width="0.18">5</text>
<line x1="27.4" y1="312.5" x2="27.4" y2="314" stroke="#333333" stroke-width="0.6"/>
<text x="27.4" y="319.5" font-size="5.8" text-anchor="middle" font-weight="normal" fill="#333333" stroke="#333333" stroke-width="0.18">0</text>
<line x1="55.5" y1="312.5" x2="55.5" y2="314" stroke="#333333" stroke-width="0.6"/>
<text x="55.5" y="319.5" font-size="5.8" text-anchor="middle" font-weight="normal" fill="#333333" stroke="#333333" stroke-width="0.18">2</text>
<line x1="83.6" y1="312.5" x2="83.6" y2="314" stroke="#333333" stroke-width="0.6"/>
<text x="83.6" y="319.5" font-size="5.8" text-anchor="middle" font-weight="normal" fill="#333333" stroke="#333333" stroke-width="0.18">4</text>
<line x1="111.7" y1="312.5" x2="111.7" y2="314" stroke="#333333" stroke-width="0.6"/>
<text x="111.7" y="319.5" font-size="5.8" text-anchor="middle" font-weight="normal" fill="#333333" stroke="#333333" stroke-width="0.18">6</text>
<line x1="22.5" y1="332.1" x2="22.5" y2="422.5" stroke="#444444" stroke-width="0.9"/>
<line x1="22.5" y1="422.5" x2="128.7" y2="422.5" stroke="#444444" stroke-width="0.9"/>
<line x1="21" y1="334.8" x2="22.5" y2="334.8" stroke="#333333" stroke-width="0.6"/>
<text x="20.3" y="337" font-size="5.8" text-anchor="end" font-weight="normal" fill="#333333" stroke="#333333" stroke-width="0.18">50</text>
<line x1="21" y1="341.4" x2="22.5" y2="341.4" stroke="#333333" stroke-width="0.6"/>
<text x="20.3" y="343.6" font-size="5.8" text-anchor="end" font-weight="normal" fill="#333333" stroke="#333333" stroke-width="0.18">15</text>
<line x1="21" y1="367.2" x2="22.5" y2="367.2" stroke="#333333" stroke-width="0.6"/>
<text x="20.3" y="369.4" font-size="5.8" text-anchor="end" font-weight="normal" fill="#333333" stroke="#333333" stroke-width="0.18">10</text>
<line x1="21" y1="392.8" x2="22.5" y2="392.8" stroke="#333333" stroke-width="0.6"/>
<text x="20.3" y="395" font-size="5.8" text-anchor="end" font-weight="normal" fill="#333333" stroke="#333333" stroke-width="0.18">5</text>
<line x1="27.4" y1="422.5" x2="27.4" y2="424" stroke="#333333" stroke-width="0.6"/>
<text x="27.4" y="429.5" font-size="5.8" text-anchor="middle" font-weight="normal" fill="#333333" stroke="#333333" stroke-width="0.18">0</text>
<line x1="55.5" y1="422.5" x2="55.5" y2="424" stroke="#333333" stroke-width="0.6"/>
<text x="55.5" y="429.5" font-size="5.8" text-anchor="middle" font-weight="normal" fill="#333333" stroke="#333333" stroke-width="0.18">2</text>
<line x1="83.6" y1="422.5" x2="83.6" y2="424" stroke="#333333" stroke-width="0.6"/>
<text x="83.6" y="429.5" font-size="5.8" text-anchor="middle" font-weight="normal" fill="#333333" stroke="#333333" stroke-width="0.18">4</text>
<line x1="111.7" y1="422.5" x2="111.7" y2="424" stroke="#333333" stroke-width="0.6"/>
<text x="111.7" y="429.5" font-size="5.8" text-anchor="middle" font-weight="normal" fill="#333333" stroke="#333333" stroke-width="0.18">6</text>
<line x1="148.5" y1="222.4" x2="148.5" y2="312.5" stroke="#444444" stroke-width="0.9"/>
<line x1="148.5" y1="312.5" x2="254.7" y2="312.5" stroke="#444444" stroke-width="0.9"/>
<line x1="147" y1="229.4" x2="148.5" y2="229.4" stroke="#333333" stroke-width="0.6"/>
<text x="146.3" y="231.6" font-size="5.8" text-anchor="end" font-weight="normal" fill="#333333" stroke="#333333" stroke-width="0.18">50</text>
<line x1="147" y1="235.5" x2="148.5" y2="235.5" stroke="#333333" stroke-width="0.6"/>
<text x="146.3" y="237.7" font-size="5.8" text-anchor="end" font-weight="normal" fill="#333333" stroke="#333333" stroke-width="0.18">15</text>
<line x1="147" y1="260.5" x2="148.5" y2="260.5" stroke="#333333" stroke-width="0.6"/>
<text x="146.3" y="262.7" font-size="5.8" text-anchor="end" font-weight="normal" fill="#333333" stroke="#333333" stroke-width="0.18">10</text>
<line x1="147" y1="284.6" x2="148.5" y2="284.6" stroke="#333333" stroke-width="0.6"/>
<text x="146.3" y="286.8" font-size="5.8" text-anchor="end" font-weight="normal" fill="#333333" stroke="#333333" stroke-width="0.18">5</text>
<line x1="153.4" y1="312.5" x2="153.4" y2="314" stroke="#333333" stroke-width="0.6"/>
<text x="153.4" y="319.5" font-size="5.8" text-anchor="middle" font-weight="normal" fill="#333333" stroke="#333333" stroke-width="0.18">0</text>
<line x1="181.5" y1="312.5" x2="181.5" y2="314" stroke="#333333" stroke-width="0.6"/>
<text x="181.5" y="319.5" font-size="5.8" text-anchor="middle" font-weight="normal" fill="#333333" stroke="#333333" stroke-width="0.18">2</text>
<line x1="209.6" y1="312.5" x2="209.6" y2="314" stroke="#333333" stroke-width="0.6"/>
<text x="209.6" y="319.5" font-size="5.8" text-anchor="middle" font-weight="normal" fill="#333333" stroke="#333333" stroke-width="0.18">4</text>
<line x1="237.7" y1="312.5" x2="237.7" y2="314" stroke="#333333" stroke-width="0.6"/>
<text x="237.7" y="319.5" font-size="5.8" text-anchor="middle" font-weight="normal" fill="#333333" stroke="#333333" stroke-width="0.18">6</text>
<line x1="148.5" y1="332.1" x2="148.5" y2="422.5" stroke="#444444" stroke-width="0.9"/>
<line x1="148.5" y1="422.5" x2="254.7" y2="422.5" stroke="#444444" stroke-width="0.9"/>
<line x1="147" y1="334.8" x2="148.5" y2="334.8" stroke="#333333" stroke-width="0.6"/>
<text x="146.3" y="337" font-size="5.8" text-anchor="end" font-weight="normal" fill="#333333" stroke="#333333" stroke-width="0.18">50</text>
<line x1="147" y1="341.4" x2="148.5" y2="341.4" stroke="#333333" stroke-width="0.6"/>
<text x="146.3" y="343.6" font-size="5.8" text-anchor="end" font-weight="normal" fill="#333333" stroke="#333333" stroke-width="0.18">15</text>
<line x1="147" y1="367.2" x2="148.5" y2="367.2" stroke="#333333" stroke-width="0.6"/>
<text x="146.3" y="369.4" font-size="5.8" text-anchor="end" font-weight="normal" fill="#333333" stroke="#333333" stroke-width="0.18">10</text>
<line x1="147" y1="392.8" x2="148.5" y2="392.8" stroke="#333333" stroke-width="0.6"/>
<text x="146.3" y="395" font-size="5.8" text-anchor="end" font-weight="normal" fill="#333333" stroke="#333333" stroke-width="0.18">5</text>
<line x1="153.4" y1="422.5" x2="153.4" y2="424" stroke="#333333" stroke-width="0.6"/>
<text x="153.4" y="429.5" font-size="5.8" text-anchor="middle" font-weight="normal" fill="#333333" stroke="#333333" stroke-width="0.18">0</text>
<line x1="181.5" y1="422.5" x2="181.5" y2="424" stroke="#333333" stroke-width="0.6"/>
<text x="181.5" y="429.5" font-size="5.8" text-anchor="middle" font-weight="normal" fill="#333333" stroke="#333333" stroke-width="0.18">2</text>
<line x1="209.6" y1="422.5" x2="209.6" y2="424" stroke="#333333" stroke-width="0.6"/>
<text x="209.6" y="429.5" font-size="5.8" text-anchor="middle" font-weight="normal" fill="#333333" stroke="#333333" stroke-width="0.18">4</text>
<line x1="237.7" y1="422.5" x2="237.7" y2="424" stroke="#333333" stroke-width="0.6"/>
<text x="237.7" y="429.5" font-size="5.8" text-anchor="middle" font-weight="normal" fill="#333333" stroke="#333333" stroke-width="0.18">6</text>
<line x1="274.1" y1="222.4" x2="274.1" y2="312.5" stroke="#a8a8a8" stroke-width="1.3"/>
<line x1="274.1" y1="312.5" x2="380.3" y2="312.5" stroke="#444444" stroke-width="0.9"/>
<line x1="272.6" y1="229.4" x2="274.1" y2="229.4" stroke="#333333" stroke-width="0.6"/>
<text x="271.9" y="231.6" font-size="5.8" text-anchor="end" font-weight="normal" fill="#333333" stroke="#333333" stroke-width="0.18">50</text>
<line x1="272.6" y1="235.5" x2="274.1" y2="235.5" stroke="#333333" stroke-width="0.6"/>
<text x="271.9" y="237.7" font-size="5.8" text-anchor="end" font-weight="normal" fill="#333333" stroke="#333333" stroke-width="0.18">15</text>
<line x1="272.6" y1="260.5" x2="274.1" y2="260.5" stroke="#333333" stroke-width="0.6"/>
<text x="271.9" y="262.7" font-size="5.8" text-anchor="end" font-weight="normal" fill="#333333" stroke="#333333" stroke-width="0.18">10</text>
<line x1="272.6" y1="284.6" x2="274.1" y2="284.6" stroke="#333333" stroke-width="0.6"/>
<text x="271.9" y="286.8" font-size="5.8" text-anchor="end" font-weight="normal" fill="#333333" stroke="#333333" stroke-width="0.18">5</text>
<line x1="279" y1="312.5" x2="279" y2="314" stroke="#333333" stroke-width="0.6"/>
<text x="279" y="319.5" font-size="5.8" text-anchor="middle" font-weight="normal" fill="#333333" stroke="#333333" stroke-width="0.18">0</text>
<line x1="307.1" y1="312.5" x2="307.1" y2="314" stroke="#333333" stroke-width="0.6"/>
<text x="307.1" y="319.5" font-size="5.8" text-anchor="middle" font-weight="normal" fill="#333333" stroke="#333333" stroke-width="0.18">2</text>
<line x1="335.2" y1="312.5" x2="335.2" y2="314" stroke="#333333" stroke-width="0.6"/>
<text x="335.2" y="319.5" font-size="5.8" text-anchor="middle" font-weight="normal" fill="#333333" stroke="#333333" stroke-width="0.18">4</text>
<line x1="363.3" y1="312.5" x2="363.3" y2="314" stroke="#333333" stroke-width="0.6"/>
<text x="363.3" y="319.5" font-size="5.8" text-anchor="middle" font-weight="normal" fill="#333333" stroke="#333333" stroke-width="0.18">6</text>
<line x1="274.1" y1="332.1" x2="274.1" y2="422.5" stroke="#a8a8a8" stroke-width="1.3"/>
<line x1="274.1" y1="422.5" x2="380.3" y2="422.5" stroke="#444444" stroke-width="0.9"/>
<line x1="272.6" y1="334.8" x2="274.1" y2="334.8" stroke="#333333" stroke-width="0.6"/>
<text x="271.9" y="337" font-size="5.8" text-anchor="end" font-weight="normal" fill="#333333" stroke="#333333" stroke-width="0.18">50</text>
<line x1="272.6" y1="341.4" x2="274.1" y2="341.4" stroke="#333333" stroke-width="0.6"/>
<text x="271.9" y="343.6" font-size="5.8" text-anchor="end" font-weight="normal" fill="#333333" stroke="#333333" stroke-width="0.18">15</text>
<line x1="272.6" y1="367.2" x2="274.1" y2="367.2" stroke="#333333" stroke-width="0.6"/>
<text x="271.9" y="369.4" font-size="5.8" text-anchor="end" font-weight="normal" fill="#333333" stroke="#333333" stroke-width="0.18">10</text>
<line x1="272.6" y1="392.8" x2="274.1" y2="392.8" stroke="#333333" stroke-width="0.6"/>
<text x="271.9" y="395" font-size="5.8" text-anchor="end" font-weight="normal" fill="#333333" stroke="#333333" stroke-width="0.18">5</text>
<line x1="279" y1="422.5" x2="279" y2="424" stroke="#333333" stroke-width="0.6"/>
<text x="279" y="429.5" font-size="5.8" text-anchor="middle" font-weight="normal" fill="#333333" stroke="#333333" stroke-width="0.18">0</text>
<line x1="307.1" y1="422.5" x2="307.1" y2="424" stroke="#333333" stroke-width="0.6"/>
<text x="307.1" y="429.5" font-size="5.8" text-anchor="middle" font-weight="normal" fill="#333333" stroke="#333333" stroke-width="0.18">2</text>
<line x1="335.2" y1="422.5" x2="335.2" y2="424" stroke="#333333" stroke-width="0.6"/>
<text x="335.2" y="429.5" font-size="5.8" text-anchor="middle" font-weight="normal" fill="#333333" stroke="#333333" stroke-width="0.18">4</text>
<line x1="363.3" y1="422.5" x2="363.3" y2="424" stroke="#333333" stroke-width="0.6"/>
<text x="363.3" y="429.5" font-size="5.8" text-anchor="middle" font-weight="normal" fill="#333333" stroke="#333333" stroke-width="0.18">6</text>
<line x1="399.5" y1="222.4" x2="399.5" y2="312.5" stroke="#444444" stroke-width="0.9"/>
<line x1="399.5" y1="312.5" x2="505.7" y2="312.5" stroke="#444444" stroke-width="0.9"/>
<line x1="398" y1="229.4" x2="399.5" y2="229.4" stroke="#333333" stroke-width="0.6"/>
<text x="397.3" y="231.6" font-size="5.8" text-anchor="end" font-weight="normal" fill="#333333" stroke="#333333" stroke-width="0.18">50</text>
<line x1="398" y1="235.5" x2="399.5" y2="235.5" stroke="#333333" stroke-width="0.6"/>
<text x="397.3" y="237.7" font-size="5.8" text-anchor="end" font-weight="normal" fill="#333333" stroke="#333333" stroke-width="0.18">15</text>
<line x1="398" y1="260.5" x2="399.5" y2="260.5" stroke="#333333" stroke-width="0.6"/>
<text x="397.3" y="262.7" font-size="5.8" text-anchor="end" font-weight="normal" fill="#333333" stroke="#333333" stroke-width="0.18">10</text>
<line x1="398" y1="284.6" x2="399.5" y2="284.6" stroke="#333333" stroke-width="0.6"/>
<text x="397.3" y="286.8" font-size="5.8" text-anchor="end" font-weight="normal" fill="#333333" stroke="#333333" stroke-width="0.18">5</text>
<line x1="404.4" y1="312.5" x2="404.4" y2="314" stroke="#333333" stroke-width="0.6"/>
<text x="404.4" y="319.5" font-size="5.8" text-anchor="middle" font-weight="normal" fill="#333333" stroke="#333333" stroke-width="0.18">0</text>
<line x1="432.5" y1="312.5" x2="432.5" y2="314" stroke="#333333" stroke-width="0.6"/>
<text x="432.5" y="319.5" font-size="5.8" text-anchor="middle" font-weight="normal" fill="#333333" stroke="#333333" stroke-width="0.18">2</text>
<line x1="460.6" y1="312.5" x2="460.6" y2="314" stroke="#333333" stroke-width="0.6"/>
<text x="460.6" y="319.5" font-size="5.8" text-anchor="middle" font-weight="normal" fill="#333333" stroke="#333333" stroke-width="0.18">4</text>
<line x1="488.7" y1="312.5" x2="488.7" y2="314" stroke="#333333" stroke-width="0.6"/>
<text x="488.7" y="319.5" font-size="5.8" text-anchor="middle" font-weight="normal" fill="#333333" stroke="#333333" stroke-width="0.18">6</text>
<line x1="399.5" y1="332.1" x2="399.5" y2="422.5" stroke="#444444" stroke-width="0.9"/>
<line x1="399.5" y1="422.5" x2="505.7" y2="422.5" stroke="#444444" stroke-width="0.9"/>
<line x1="398" y1="334.8" x2="399.5" y2="334.8" stroke="#333333" stroke-width="0.6"/>
<text x="397.3" y="337" font-size="5.8" text-anchor="end" font-weight="normal" fill="#333333" stroke="#333333" stroke-width="0.18">50</text>
<line x1="398" y1="341.4" x2="399.5" y2="341.4" stroke="#333333" stroke-width="0.6"/>
<text x="397.3" y="343.6" font-size="5.8" text-anchor="end" font-weight="normal" fill="#333333" stroke="#333333" stroke-width="0.18">15</text>
<line x1="398" y1="367.2" x2="399.5" y2="367.2" stroke="#333333" stroke-width="0.6"/>
<text x="397.3" y="369.4" font-size="5.8" text-anchor="end" font-weight="normal" fill="#333333" stroke="#333333" stroke-width="0.18">10</text>
<line x1="398" y1="392.8" x2="399.5" y2="392.8" stroke="#333333" stroke-width="0.6"/>
<text x="397.3" y="395" font-size="5.8" text-anchor="end" font-weight="normal" fill="#333333" stroke="#333333" stroke-width="0.18">5</text>
<line x1="404.4" y1="422.5" x2="404.4" y2="424" stroke="#333333" stroke-width="0.6"/>
<text x="404.4" y="429.5" font-size="5.8" text-anchor="middle" font-weight="normal" fill="#333333" stroke="#333333" stroke-width="0.18">0</text>
<line x1="432.5" y1="422.5" x2="432.5" y2="424" stroke="#333333" stroke-width="0.6"/>
<text x="432.5" y="429.5" font-size="5.8" text-anchor="middle" font-weight="normal" fill="#333333" stroke="#333333" stroke-width="0.18">2</text>
<line x1="460.6" y1="422.5" x2="460.6" y2="424" stroke="#333333" stroke-width="0.6"/>
<text x="460.6" y="429.5" font-size="5.8" text-anchor="middle" font-weight="normal" fill="#333333" stroke="#333333" stroke-width="0.18">4</text>
<line x1="488.7" y1="422.5" x2="488.7" y2="424" stroke="#333333" stroke-width="0.6"/>
<text x="488.7" y="429.5" font-size="5.8" text-anchor="middle" font-weight="normal" fill="#333333" stroke="#333333" stroke-width="0.18">6</text>
<text x="75.8" y="217.5" font-size="8" text-anchor="middle" font-weight="bold" fill="#000">SPA<tspan font-size="5.6" dy="1.2">GRM</tspan></text>
<text x="201.3" y="217.5" font-size="8" text-anchor="middle" font-weight="bold" fill="#000">SPA<tspan font-size="5.6" dy="1.2">GRM(CCT)</tspan></text>
<text x="327" y="217.5" font-size="8" text-anchor="middle" font-weight="bold" fill="#000">Norm<tspan font-size="5.6" dy="1.2">GRM</tspan></text>
<text x="452.5" y="217.5" font-size="8.1" text-anchor="middle" font-weight="bold" fill="#000">TrajGWAS</text>
<text x="8.2" y="321.6" font-size="8.1" text-anchor="middle" font-weight="normal" fill="#000" transform="rotate(-90 8.2 321.6)">Observed −log<tspan font-size="5.6" dy="1.6">10</tspan><tspan dy="-1.6" font-style="italic">P</tspan></text>
<text x="264.6" y="436.7" font-size="8.1" text-anchor="middle" font-weight="normal" fill="#000">Expected −log<tspan font-size="5.8" dy="1.6">10</tspan><tspan dy="-1.6" font-style="italic">P</tspan></text>
<text x="511.5" y="267.2" font-size="8" text-anchor="middle" font-weight="normal" fill="#000" transform="rotate(90 511.5 267.2)">Testing for β<tspan font-size="5.4" dy="2.0">0</tspan><tspan dy="-2.0"> = 0</tspan></text>
<text x="511.5" y="377.2" font-size="8" text-anchor="middle" font-weight="normal" fill="#000" transform="rotate(90 511.5 377.2)">Testing for τ<tspan font-size="5.4" dy="2.0">0</tspan><tspan dy="-2.0"> = 0</tspan></text>
<circle cx="117" cy="449.9" r="2.1" fill="#ff61cc"/>
<text x="122.6" y="452.7" font-size="7.7" text-anchor="start" font-weight="normal" fill="#1a1a1a">Common Variants</text>
<circle cx="190.3" cy="449.9" r="2.1" fill="#00a9ff"/>
<text x="195.9" y="452.7" font-size="7.7" text-anchor="start" font-weight="normal" fill="#1a1a1a">Low−frequency Variants</text>
<circle cx="285.3" cy="449.9" r="2.1" fill="#00bf7d"/>
<text x="290.9" y="452.7" font-size="7.7" text-anchor="start" font-weight="normal" fill="#1a1a1a">Rare Variants</text>
<circle cx="343.8" cy="449.9" r="2.1" fill="#cf9a10"/>
<text x="349.4" y="452.7" font-size="7.7" text-anchor="start" font-weight="normal" fill="#1a1a1a">Ultra−rare Variants</text>
<line x1="579.6" y1="222.4" x2="579.6" y2="311.2" stroke="#f03030" stroke-width="0.8" stroke-dasharray="2 1.6"/>
<line x1="560.7" y1="298.1" x2="673.5" y2="298.1" stroke="#f03030" stroke-width="0.8" stroke-dasharray="2 1.6"/>
<polygon points="563.5,307.8 564.8,306.6 566.8,303.2 569.5,300.3 572.9,296.6 577,292.5 580.4,290.7 583.8,287.8 586.5,284.4 590.6,281.6 594.7,278.9 599.5,275.7 603.5,273.7 607.6,271 611.7,267.8 615.8,264.6 620,262.2 623,260 626.6,256.3 629.6,253.3 632.6,250.3 635.7,250.3 635.7,253.3 630.6,256.3 626.6,262.4 620,268.2 614.4,273.1 610.3,276.5 606.3,279.3 600.8,283.3 595.4,287.4 589.9,291.5 584.5,296.3 579,299.7 575,302.4 570.9,305.1 566.8,307.8 564.8,308.3" fill="#f8766d"/>
<polygon points="645.5,240.5 647,236.8 651,235.5 653.5,236.5 651,239 647.5,241.5" fill="#f8766d"/>
<circle cx="636.7" cy="252.3" r="0.75" fill="#f8766d"/>
<circle cx="639.7" cy="246.2" r="0.75" fill="#f8766d"/>
<circle cx="641.7" cy="245.8" r="0.75" fill="#f8766d"/>
<circle cx="646.7" cy="245.2" r="0.75" fill="#f8766d"/>
<circle cx="645.7" cy="241.2" r="0.75" fill="#f8766d"/>
<circle cx="654.8" cy="234.1" r="0.75" fill="#f8766d"/>
<circle cx="656.8" cy="236.1" r="0.75" fill="#f8766d"/>
<circle cx="658.8" cy="235.1" r="0.75" fill="#f8766d"/>
<circle cx="662.9" cy="233.1" r="0.75" fill="#f8766d"/>
<circle cx="664.9" cy="232.1" r="0.75" fill="#f8766d"/>
<circle cx="667.9" cy="227.1" r="0.75" fill="#f8766d"/>
<circle cx="616.5" cy="279.5" r="0.75" fill="#f8766d"/>
<circle cx="638" cy="249" r="0.75" fill="#f8766d"/>
<circle cx="643" cy="243.5" r="0.75" fill="#f8766d"/>
<circle cx="632" cy="252.8" r="0.75" fill="#f8766d"/>
<circle cx="634.5" cy="251" r="0.75" fill="#f8766d"/>
<circle cx="594.3" cy="284.6" r="0.65" fill="#2cc88a"/>
<circle cx="606.4" cy="277" r="0.65" fill="#2cc88a"/>
<circle cx="610" cy="273" r="0.65" fill="#2cc88a"/>
<circle cx="618.5" cy="268.3" r="0.65" fill="#2cc88a"/>
<circle cx="624.5" cy="263.5" r="0.65" fill="#2cc88a"/>
<circle cx="628" cy="259" r="0.65" fill="#2cc88a"/>
<circle cx="646.7" cy="240.3" r="0.65" fill="#2cc88a"/>
<circle cx="566" cy="307.5" r="0.65" fill="#2cc88a"/>
<circle cx="567" cy="306.8" r="0.65" fill="#2cc88a"/>
<circle cx="600" cy="279.8" r="0.65" fill="#2cc88a"/>
<circle cx="613" cy="271.8" r="0.65" fill="#2cc88a"/>
<circle cx="599.5" cy="286.7" r="0.65" fill="#2cc88a"/>
<circle cx="605" cy="282.6" r="0.65" fill="#2cc88a"/>
<circle cx="607.5" cy="278.6" r="0.65" fill="#2cc88a"/>
<circle cx="611" cy="276.5" r="0.65" fill="#2cc88a"/>
<circle cx="614.4" cy="270.6" r="0.65" fill="#2cc88a"/>
<circle cx="566.8" cy="306.2" r="0.65" fill="#2cc88a"/>
<circle cx="567.8" cy="305.5" r="0.65" fill="#2cc88a"/>
<line x1="561.2" y1="309.4" x2="673.5" y2="233.9" stroke="#111" stroke-width="0.7"/>
<line x1="560.7" y1="222.4" x2="560.7" y2="311.2" stroke="#444444" stroke-width="0.8"/>
<line x1="560.7" y1="311.2" x2="673.5" y2="311.2" stroke="#444444" stroke-width="0.8"/>
<line x1="559.2" y1="307.6" x2="560.7" y2="307.6" stroke="#333333" stroke-width="0.6"/>
<text x="558.5" y="309.8" font-size="5.8" text-anchor="end" font-weight="normal" fill="#333333" stroke="#333333" stroke-width="0.18">0</text>
<line x1="559.2" y1="282.4" x2="560.7" y2="282.4" stroke="#333333" stroke-width="0.6"/>
<text x="558.5" y="284.6" font-size="5.8" text-anchor="end" font-weight="normal" fill="#333333" stroke="#333333" stroke-width="0.18">20</text>
<line x1="559.2" y1="257.2" x2="560.7" y2="257.2" stroke="#333333" stroke-width="0.6"/>
<text x="558.5" y="259.4" font-size="5.8" text-anchor="end" font-weight="normal" fill="#333333" stroke="#333333" stroke-width="0.18">40</text>
<line x1="559.2" y1="232" x2="560.7" y2="232" stroke="#333333" stroke-width="0.6"/>
<text x="558.5" y="234.2" font-size="5.8" text-anchor="end" font-weight="normal" fill="#333333" stroke="#333333" stroke-width="0.18">60</text>
<line x1="565.8" y1="311.2" x2="565.8" y2="312.7" stroke="#333333" stroke-width="0.6"/>
<text x="565.8" y="318.3" font-size="5.8" text-anchor="middle" font-weight="normal" fill="#333333" stroke="#333333" stroke-width="0.18">0</text>
<line x1="603.2" y1="311.2" x2="603.2" y2="312.7" stroke="#333333" stroke-width="0.6"/>
<text x="603.2" y="318.3" font-size="5.8" text-anchor="middle" font-weight="normal" fill="#333333" stroke="#333333" stroke-width="0.18">20</text>
<line x1="640.6" y1="311.2" x2="640.6" y2="312.7" stroke="#333333" stroke-width="0.6"/>
<text x="640.6" y="318.3" font-size="5.8" text-anchor="middle" font-weight="normal" fill="#333333" stroke="#333333" stroke-width="0.18">40</text>
<line x1="668.5" y1="330.3" x2="668.5" y2="419" stroke="#f03030" stroke-width="0.8" stroke-dasharray="2 1.6"/>
<line x1="560.7" y1="334.25" x2="673.5" y2="334.25" stroke="#f03030" stroke-width="0.8" stroke-dasharray="2 1.6"/>
<polygon points="564.9,415 564.9,379.8 566,374.4 568.2,372.2 570.4,368.9 572.6,365.6 575.8,364.5 579.1,362.3 582.4,361.2 585.7,357.9 590.1,357.5 593.4,362.3 597.8,364.5 601.1,363.4 605.5,361.2 609.8,360.1 614.2,361.2 618.6,362.7 623,362.3 627.4,364.5 630.7,365.6 631.8,368.9 630.7,375.5 628.5,379.8 625.2,384.2 620.8,390.8 616.4,397.4 612,404 607.7,407.3 604.4,409.5 602.8,415" fill="#f8766d"/>
<circle cx="587.33" cy="353.16" r="0.6" fill="#f8766d"/>
<circle cx="589.03" cy="352.12" r="0.6" fill="#f8766d"/>
<circle cx="587.53" cy="353.46" r="0.6" fill="#f8766d"/>
<circle cx="586.36" cy="352.63" r="0.6" fill="#f8766d"/>
<circle cx="587.97" cy="355.72" r="0.6" fill="#f8766d"/>
<circle cx="586.04" cy="350.34" r="0.6" fill="#f8766d"/>
<circle cx="586.03" cy="355.91" r="0.6" fill="#f8766d"/>
<circle cx="588.2" cy="347.46" r="0.6" fill="#f8766d"/>
<circle cx="589.24" cy="357.61" r="0.6" fill="#f8766d"/>
<circle cx="588.05" cy="353.77" r="0.6" fill="#f8766d"/>
<circle cx="586.27" cy="347.17" r="0.6" fill="#f8766d"/>
<circle cx="587.6" cy="347.66" r="0.6" fill="#f8766d"/>
<circle cx="586.38" cy="349.66" r="0.6" fill="#f8766d"/>
<circle cx="585.81" cy="352.1" r="0.6" fill="#f8766d"/>
<circle cx="585.79" cy="356.74" r="0.6" fill="#f8766d"/>
<circle cx="586.07" cy="355.12" r="0.6" fill="#f8766d"/>
<circle cx="586" cy="355.3" r="0.6" fill="#f8766d"/>
<circle cx="585.85" cy="352.23" r="0.6" fill="#f8766d"/>
<circle cx="587.79" cy="357.97" r="0.6" fill="#f8766d"/>
<circle cx="587.22" cy="355.66" r="0.6" fill="#f8766d"/>
<circle cx="585.33" cy="351.84" r="0.6" fill="#f8766d"/>
<circle cx="585.24" cy="350.56" r="0.6" fill="#f8766d"/>
<circle cx="601.96" cy="354.61" r="0.6" fill="#f8766d"/>
<circle cx="602.25" cy="354.41" r="0.6" fill="#f8766d"/>
<circle cx="602.65" cy="360.86" r="0.6" fill="#f8766d"/>
<circle cx="599.2" cy="351.94" r="0.6" fill="#f8766d"/>
<circle cx="602.48" cy="355.58" r="0.6" fill="#f8766d"/>
<circle cx="602.73" cy="354.56" r="0.6" fill="#f8766d"/>
<circle cx="599.46" cy="357.81" r="0.6" fill="#f8766d"/>
<circle cx="602" cy="352.78" r="0.6" fill="#f8766d"/>
<circle cx="599.51" cy="353.66" r="0.6" fill="#f8766d"/>
<circle cx="602.67" cy="359.61" r="0.6" fill="#f8766d"/>
<circle cx="599.62" cy="352.45" r="0.6" fill="#f8766d"/>
<circle cx="599.56" cy="349.84" r="0.6" fill="#f8766d"/>
<circle cx="602.07" cy="351.49" r="0.6" fill="#f8766d"/>
<circle cx="601.21" cy="355.26" r="0.6" fill="#f8766d"/>
<circle cx="601.89" cy="359.32" r="0.6" fill="#f8766d"/>
<circle cx="601.67" cy="358.44" r="0.6" fill="#f8766d"/>
<circle cx="601.62" cy="356.21" r="0.6" fill="#f8766d"/>
<circle cx="601.97" cy="354.7" r="0.6" fill="#f8766d"/>
<circle cx="604.7" cy="360.03" r="0.6" fill="#f8766d"/>
<circle cx="602.29" cy="360.85" r="0.6" fill="#f8766d"/>
<circle cx="601.96" cy="355.94" r="0.6" fill="#f8766d"/>
<circle cx="604.28" cy="358.42" r="0.6" fill="#f8766d"/>
<circle cx="607.06" cy="346.89" r="0.6" fill="#f8766d"/>
<circle cx="607.47" cy="339.58" r="0.6" fill="#f8766d"/>
<circle cx="609.48" cy="340.29" r="0.6" fill="#f8766d"/>
<circle cx="607.77" cy="337.73" r="0.6" fill="#f8766d"/>
<circle cx="607.02" cy="342.83" r="0.6" fill="#f8766d"/>
<circle cx="607.57" cy="343.01" r="0.6" fill="#f8766d"/>
<circle cx="608.04" cy="341.53" r="0.6" fill="#f8766d"/>
<circle cx="610.15" cy="341.84" r="0.6" fill="#f8766d"/>
<circle cx="608.77" cy="345.67" r="0.6" fill="#f8766d"/>
<circle cx="607.36" cy="338.54" r="0.6" fill="#f8766d"/>
<circle cx="611.47" cy="345.72" r="0.6" fill="#f8766d"/>
<circle cx="609.1" cy="341.33" r="0.6" fill="#f8766d"/>
<circle cx="610.86" cy="346.58" r="0.6" fill="#f8766d"/>
<circle cx="608.91" cy="346.65" r="0.6" fill="#f8766d"/>
<circle cx="611.38" cy="344.22" r="0.6" fill="#f8766d"/>
<circle cx="609.72" cy="340.73" r="0.6" fill="#f8766d"/>
<circle cx="564.34" cy="379.7" r="0.6" fill="#f8766d"/>
<circle cx="565.06" cy="377.64" r="0.6" fill="#f8766d"/>
<circle cx="565.13" cy="378.59" r="0.6" fill="#f8766d"/>
<circle cx="566.35" cy="374.35" r="0.6" fill="#f8766d"/>
<circle cx="564.83" cy="377.76" r="0.6" fill="#f8766d"/>
<circle cx="564.45" cy="373.83" r="0.6" fill="#f8766d"/>
<circle cx="570.21" cy="369.41" r="0.6" fill="#f8766d"/>
<circle cx="570.41" cy="367.12" r="0.6" fill="#f8766d"/>
<circle cx="571.5" cy="366.82" r="0.6" fill="#f8766d"/>
<circle cx="568.26" cy="367.08" r="0.6" fill="#f8766d"/>
<circle cx="569.8" cy="366.24" r="0.6" fill="#f8766d"/>
<circle cx="574.83" cy="361.84" r="0.6" fill="#f8766d"/>
<circle cx="576.26" cy="360.66" r="0.6" fill="#f8766d"/>
<circle cx="575.5" cy="364.45" r="0.6" fill="#f8766d"/>
<circle cx="577.73" cy="363.28" r="0.6" fill="#f8766d"/>
<circle cx="576.69" cy="362.92" r="0.6" fill="#f8766d"/>
<circle cx="574.71" cy="360.18" r="0.6" fill="#f8766d"/>
<circle cx="578.26" cy="362.46" r="0.6" fill="#f8766d"/>
<circle cx="580.72" cy="362.78" r="0.6" fill="#f8766d"/>
<circle cx="578.28" cy="360.82" r="0.6" fill="#f8766d"/>
<circle cx="579.94" cy="361.38" r="0.6" fill="#f8766d"/>
<circle cx="579.35" cy="363" r="0.6" fill="#f8766d"/>
<circle cx="578.47" cy="360.28" r="0.6" fill="#f8766d"/>
<circle cx="595.85" cy="363.1" r="0.6" fill="#f8766d"/>
<circle cx="595.85" cy="361.33" r="0.6" fill="#f8766d"/>
<circle cx="596.06" cy="363.24" r="0.6" fill="#f8766d"/>
<circle cx="594.47" cy="361.17" r="0.6" fill="#f8766d"/>
<circle cx="596.44" cy="362.84" r="0.6" fill="#f8766d"/>
<circle cx="594.7" cy="362.11" r="0.6" fill="#f8766d"/>
<circle cx="596.31" cy="360.16" r="0.6" fill="#f8766d"/>
<circle cx="595.45" cy="358.44" r="0.6" fill="#f8766d"/>
<circle cx="613.3" cy="358.26" r="0.6" fill="#f8766d"/>
<circle cx="611.49" cy="358.48" r="0.6" fill="#f8766d"/>
<circle cx="614.78" cy="360.16" r="0.6" fill="#f8766d"/>
<circle cx="613.82" cy="356.72" r="0.6" fill="#f8766d"/>
<circle cx="613.85" cy="358.07" r="0.6" fill="#f8766d"/>
<circle cx="612.79" cy="359.87" r="0.6" fill="#f8766d"/>
<circle cx="617.5" cy="361.25" r="0.6" fill="#f8766d"/>
<circle cx="617.31" cy="360.21" r="0.6" fill="#f8766d"/>
<circle cx="618.93" cy="357.61" r="0.6" fill="#f8766d"/>
<circle cx="619.71" cy="359.48" r="0.6" fill="#f8766d"/>
<circle cx="619.41" cy="362.44" r="0.6" fill="#f8766d"/>
<circle cx="618.12" cy="356.08" r="0.6" fill="#f8766d"/>
<circle cx="624.28" cy="361.07" r="0.6" fill="#f8766d"/>
<circle cx="623.93" cy="358.02" r="0.6" fill="#f8766d"/>
<circle cx="626.46" cy="360.96" r="0.6" fill="#f8766d"/>
<circle cx="624.79" cy="362.35" r="0.6" fill="#f8766d"/>
<circle cx="624.38" cy="361" r="0.6" fill="#f8766d"/>
<circle cx="629.6" cy="359" r="0.65" fill="#f8766d"/>
<circle cx="633" cy="361" r="0.65" fill="#f8766d"/>
<circle cx="637" cy="364" r="0.65" fill="#f8766d"/>
<circle cx="641" cy="366" r="0.65" fill="#f8766d"/>
<circle cx="645" cy="369" r="0.65" fill="#f8766d"/>
<circle cx="653.7" cy="365.6" r="0.65" fill="#f8766d"/>
<circle cx="653.7" cy="367.5" r="0.65" fill="#f8766d"/>
<circle cx="581" cy="356" r="0.65" fill="#f8766d"/>
<circle cx="583" cy="353" r="0.65" fill="#f8766d"/>
<circle cx="590" cy="349" r="0.65" fill="#f8766d"/>
<circle cx="606" cy="336" r="0.65" fill="#f8766d"/>
<circle cx="611" cy="338" r="0.65" fill="#f8766d"/>
<circle cx="569.69" cy="406.65" r="0.65" fill="#2cc88a"/>
<circle cx="580.99" cy="413.32" r="0.65" fill="#2cc88a"/>
<circle cx="582.37" cy="406" r="0.65" fill="#2cc88a"/>
<circle cx="576.85" cy="405.07" r="0.65" fill="#2cc88a"/>
<circle cx="568.53" cy="407.55" r="0.65" fill="#2cc88a"/>
<circle cx="581.57" cy="412.41" r="0.65" fill="#2cc88a"/>
<circle cx="579.23" cy="413.81" r="0.65" fill="#2cc88a"/>
<circle cx="571.15" cy="403.03" r="0.65" fill="#2cc88a"/>
<circle cx="574.38" cy="404.5" r="0.65" fill="#2cc88a"/>
<circle cx="569.98" cy="406.41" r="0.65" fill="#2cc88a"/>
<circle cx="577.64" cy="407.52" r="0.65" fill="#2cc88a"/>
<circle cx="571.87" cy="412.28" r="0.65" fill="#2cc88a"/>
<circle cx="584.27" cy="406.94" r="0.65" fill="#2cc88a"/>
<circle cx="567.39" cy="401.13" r="0.65" fill="#2cc88a"/>
<circle cx="582.23" cy="401.27" r="0.65" fill="#2cc88a"/>
<circle cx="579.18" cy="408.57" r="0.65" fill="#2cc88a"/>
<circle cx="571.75" cy="411.62" r="0.65" fill="#2cc88a"/>
<circle cx="566.36" cy="402.58" r="0.65" fill="#2cc88a"/>
<circle cx="574.46" cy="401.04" r="0.65" fill="#2cc88a"/>
<circle cx="581.43" cy="403.98" r="0.65" fill="#2cc88a"/>
<circle cx="568.62" cy="401.35" r="0.65" fill="#2cc88a"/>
<circle cx="577.7" cy="406.86" r="0.65" fill="#2cc88a"/>
<circle cx="577.72" cy="409.74" r="0.65" fill="#2cc88a"/>
<circle cx="581.02" cy="413.93" r="0.65" fill="#2cc88a"/>
<circle cx="578.73" cy="403.45" r="0.65" fill="#2cc88a"/>
<circle cx="574.84" cy="403.17" r="0.65" fill="#2cc88a"/>
<circle cx="566.2" cy="407.22" r="0.65" fill="#2cc88a"/>
<circle cx="579.28" cy="403.17" r="0.65" fill="#2cc88a"/>
<circle cx="571.07" cy="405.47" r="0.65" fill="#2cc88a"/>
<circle cx="578.97" cy="407.88" r="0.65" fill="#2cc88a"/>
<circle cx="577.43" cy="411.14" r="0.65" fill="#2cc88a"/>
<circle cx="573.32" cy="411.63" r="0.65" fill="#2cc88a"/>
<circle cx="582.86" cy="401.9" r="0.65" fill="#2cc88a"/>
<circle cx="583.35" cy="410.67" r="0.65" fill="#2cc88a"/>
<circle cx="568.42" cy="406.96" r="0.65" fill="#2cc88a"/>
<circle cx="577.64" cy="413.26" r="0.65" fill="#2cc88a"/>
<circle cx="573.01" cy="408.55" r="0.65" fill="#2cc88a"/>
<circle cx="582.36" cy="411.7" r="0.65" fill="#2cc88a"/>
<circle cx="583.56" cy="407.1" r="0.65" fill="#2cc88a"/>
<circle cx="578.11" cy="403.53" r="0.65" fill="#2cc88a"/>
<circle cx="579.43" cy="411.99" r="0.65" fill="#2cc88a"/>
<circle cx="577.93" cy="410.6" r="0.65" fill="#2cc88a"/>
<circle cx="569.97" cy="413.12" r="0.65" fill="#2cc88a"/>
<circle cx="584.24" cy="414.19" r="0.65" fill="#2cc88a"/>
<circle cx="575.99" cy="411.61" r="0.65" fill="#2cc88a"/>
<circle cx="571.96" cy="413.26" r="0.65" fill="#2cc88a"/>
<circle cx="581.92" cy="405.51" r="0.65" fill="#2cc88a"/>
<circle cx="567.54" cy="406.78" r="0.65" fill="#2cc88a"/>
<circle cx="576.24" cy="411.3" r="0.65" fill="#2cc88a"/>
<circle cx="575.07" cy="401.09" r="0.65" fill="#2cc88a"/>
<circle cx="581.05" cy="401.58" r="0.65" fill="#2cc88a"/>
<circle cx="580.88" cy="403.09" r="0.65" fill="#2cc88a"/>
<circle cx="572.23" cy="411.57" r="0.65" fill="#2cc88a"/>
<circle cx="568.61" cy="402.75" r="0.65" fill="#2cc88a"/>
<circle cx="575.61" cy="410.69" r="0.65" fill="#2cc88a"/>
<circle cx="581.62" cy="410.21" r="0.65" fill="#2cc88a"/>
<circle cx="583.59" cy="407.5" r="0.65" fill="#2cc88a"/>
<circle cx="583.65" cy="401.89" r="0.65" fill="#2cc88a"/>
<circle cx="570.12" cy="407.97" r="0.65" fill="#2cc88a"/>
<circle cx="571.4" cy="410.76" r="0.65" fill="#2cc88a"/>
<circle cx="577.88" cy="407.91" r="0.65" fill="#2cc88a"/>
<circle cx="581.69" cy="408.43" r="0.65" fill="#2cc88a"/>
<circle cx="571.8" cy="405.96" r="0.65" fill="#2cc88a"/>
<circle cx="581.72" cy="413.13" r="0.65" fill="#2cc88a"/>
<circle cx="569.87" cy="412.44" r="0.65" fill="#2cc88a"/>
<circle cx="584.01" cy="407.93" r="0.65" fill="#2cc88a"/>
<circle cx="576.66" cy="403.47" r="0.65" fill="#2cc88a"/>
<circle cx="575.97" cy="407.64" r="0.65" fill="#2cc88a"/>
<circle cx="577.26" cy="401.08" r="0.65" fill="#2cc88a"/>
<circle cx="584.03" cy="407.82" r="0.65" fill="#2cc88a"/>
<circle cx="573.45" cy="411.75" r="0.65" fill="#2cc88a"/>
<circle cx="576.47" cy="407.48" r="0.65" fill="#2cc88a"/>
<circle cx="578.85" cy="401.61" r="0.65" fill="#2cc88a"/>
<circle cx="576.02" cy="406.41" r="0.65" fill="#2cc88a"/>
<circle cx="583.8" cy="413.44" r="0.65" fill="#2cc88a"/>
<circle cx="571.01" cy="407.23" r="0.65" fill="#2cc88a"/>
<circle cx="568.36" cy="406.68" r="0.65" fill="#2cc88a"/>
<circle cx="581.17" cy="413.13" r="0.65" fill="#2cc88a"/>
<circle cx="574.86" cy="405.08" r="0.65" fill="#2cc88a"/>
<circle cx="569.56" cy="409.23" r="0.65" fill="#2cc88a"/>
<circle cx="583.21" cy="402.49" r="0.65" fill="#2cc88a"/>
<circle cx="580.49" cy="401.01" r="0.65" fill="#2cc88a"/>
<circle cx="569.61" cy="403.84" r="0.65" fill="#2cc88a"/>
<circle cx="578.78" cy="405.14" r="0.65" fill="#2cc88a"/>
<circle cx="572.61" cy="409.25" r="0.65" fill="#2cc88a"/>
<circle cx="567.95" cy="410.79" r="0.65" fill="#2cc88a"/>
<circle cx="568.28" cy="407.74" r="0.65" fill="#2cc88a"/>
<circle cx="570.66" cy="403.43" r="0.65" fill="#2cc88a"/>
<circle cx="575.86" cy="406.73" r="0.65" fill="#2cc88a"/>
<circle cx="572.99" cy="406.4" r="0.65" fill="#2cc88a"/>
<circle cx="575.85" cy="402.9" r="0.65" fill="#2cc88a"/>
<circle cx="569.8" cy="409.41" r="0.65" fill="#2cc88a"/>
<circle cx="577.88" cy="408.01" r="0.65" fill="#2cc88a"/>
<circle cx="581.83" cy="409.14" r="0.65" fill="#2cc88a"/>
<circle cx="581.94" cy="403.91" r="0.65" fill="#2cc88a"/>
<circle cx="579.78" cy="411.89" r="0.65" fill="#2cc88a"/>
<circle cx="582.79" cy="405.06" r="0.65" fill="#2cc88a"/>
<circle cx="571.86" cy="413.43" r="0.65" fill="#2cc88a"/>
<circle cx="570.06" cy="414.48" r="0.65" fill="#2cc88a"/>
<circle cx="582.51" cy="402.55" r="0.65" fill="#2cc88a"/>
<circle cx="570.45" cy="410.73" r="0.65" fill="#2cc88a"/>
<circle cx="570.83" cy="402.04" r="0.65" fill="#2cc88a"/>
<circle cx="581.48" cy="406.52" r="0.65" fill="#2cc88a"/>
<circle cx="580.69" cy="402.44" r="0.65" fill="#2cc88a"/>
<circle cx="573.49" cy="410.16" r="0.65" fill="#2cc88a"/>
<circle cx="566.33" cy="403.47" r="0.65" fill="#2cc88a"/>
<circle cx="578.69" cy="413.28" r="0.65" fill="#2cc88a"/>
<circle cx="584.01" cy="402.29" r="0.65" fill="#2cc88a"/>
<circle cx="575.41" cy="411.16" r="0.65" fill="#2cc88a"/>
<circle cx="575.35" cy="410.16" r="0.65" fill="#2cc88a"/>
<circle cx="569.52" cy="401.67" r="0.65" fill="#2cc88a"/>
<circle cx="567.97" cy="401.22" r="0.65" fill="#2cc88a"/>
<circle cx="576.26" cy="407.8" r="0.65" fill="#2cc88a"/>
<circle cx="576.58" cy="402.72" r="0.65" fill="#2cc88a"/>
<circle cx="569.43" cy="403.51" r="0.65" fill="#2cc88a"/>
<circle cx="581.63" cy="414.37" r="0.65" fill="#2cc88a"/>
<circle cx="583.24" cy="402.01" r="0.65" fill="#2cc88a"/>
<circle cx="567.15" cy="413.83" r="0.65" fill="#2cc88a"/>
<circle cx="574.59" cy="411.25" r="0.65" fill="#2cc88a"/>
<circle cx="572.08" cy="407.14" r="0.65" fill="#2cc88a"/>
<circle cx="575.58" cy="406.64" r="0.65" fill="#2cc88a"/>
<circle cx="577.18" cy="400.88" r="0.65" fill="#2cc88a"/>
<circle cx="579.04" cy="412.35" r="0.65" fill="#2cc88a"/>
<circle cx="569.37" cy="406.96" r="0.65" fill="#2cc88a"/>
<circle cx="579.75" cy="406.29" r="0.65" fill="#2cc88a"/>
<circle cx="569.63" cy="402.98" r="0.65" fill="#2cc88a"/>
<circle cx="575.53" cy="400.91" r="0.65" fill="#2cc88a"/>
<circle cx="582.61" cy="411.76" r="0.65" fill="#2cc88a"/>
<circle cx="579.11" cy="412.58" r="0.65" fill="#2cc88a"/>
<circle cx="577.71" cy="406.28" r="0.65" fill="#2cc88a"/>
<circle cx="577.15" cy="407.66" r="0.65" fill="#2cc88a"/>
<circle cx="584.28" cy="411.81" r="0.65" fill="#2cc88a"/>
<circle cx="570.8" cy="413.28" r="0.65" fill="#2cc88a"/>
<circle cx="579.85" cy="411.44" r="0.65" fill="#2cc88a"/>
<circle cx="581.15" cy="406.3" r="0.65" fill="#2cc88a"/>
<circle cx="582.68" cy="412.84" r="0.65" fill="#2cc88a"/>
<circle cx="578.92" cy="411.29" r="0.65" fill="#2cc88a"/>
<circle cx="580.23" cy="406.3" r="0.65" fill="#2cc88a"/>
<circle cx="579.44" cy="401.67" r="0.65" fill="#2cc88a"/>
<circle cx="572.36" cy="407.17" r="0.65" fill="#2cc88a"/>
<circle cx="566.2" cy="405.61" r="0.65" fill="#2cc88a"/>
<circle cx="577.88" cy="409.31" r="0.65" fill="#2cc88a"/>
<circle cx="570.32" cy="413.74" r="0.65" fill="#2cc88a"/>
<circle cx="578.39" cy="405.36" r="0.65" fill="#2cc88a"/>
<circle cx="578.27" cy="408.56" r="0.65" fill="#2cc88a"/>
<circle cx="575.92" cy="406.08" r="0.65" fill="#2cc88a"/>
<circle cx="584.6" cy="409.56" r="0.65" fill="#2cc88a"/>
<circle cx="579.04" cy="411.21" r="0.65" fill="#2cc88a"/>
<circle cx="584.23" cy="401.01" r="0.65" fill="#2cc88a"/>
<circle cx="577.45" cy="410.9" r="0.65" fill="#2cc88a"/>
<circle cx="613.78" cy="370.32" r="0.6" fill="#2cc88a"/>
<circle cx="605.12" cy="373.42" r="0.6" fill="#2cc88a"/>
<circle cx="618.78" cy="362.21" r="0.6" fill="#2cc88a"/>
<circle cx="613.54" cy="378.06" r="0.6" fill="#2cc88a"/>
<circle cx="626.1" cy="363.12" r="0.6" fill="#2cc88a"/>
<circle cx="643.62" cy="351.51" r="0.6" fill="#2cc88a"/>
<circle cx="644.79" cy="351.72" r="0.6" fill="#2cc88a"/>
<circle cx="637" cy="348.86" r="0.6" fill="#2cc88a"/>
<circle cx="628.1" cy="365.46" r="0.6" fill="#2cc88a"/>
<circle cx="604.89" cy="384.6" r="0.6" fill="#2cc88a"/>
<circle cx="609.72" cy="374.28" r="0.6" fill="#2cc88a"/>
<circle cx="610.1" cy="374.36" r="0.6" fill="#2cc88a"/>
<circle cx="628.67" cy="354.54" r="0.6" fill="#2cc88a"/>
<circle cx="642.7" cy="349.95" r="0.6" fill="#2cc88a"/>
<circle cx="625.12" cy="365.16" r="0.6" fill="#2cc88a"/>
<circle cx="618.35" cy="365.32" r="0.6" fill="#2cc88a"/>
<circle cx="630.51" cy="360.76" r="0.6" fill="#2cc88a"/>
<circle cx="614.91" cy="374.24" r="0.6" fill="#2cc88a"/>
<circle cx="615.43" cy="363.33" r="0.6" fill="#2cc88a"/>
<circle cx="613.29" cy="365.29" r="0.6" fill="#2cc88a"/>
<circle cx="609.58" cy="378.62" r="0.6" fill="#2cc88a"/>
<circle cx="619.38" cy="373.76" r="0.6" fill="#2cc88a"/>
<circle cx="634.43" cy="350.3" r="0.6" fill="#2cc88a"/>
<circle cx="644.53" cy="356.5" r="0.6" fill="#2cc88a"/>
<circle cx="606.09" cy="383.38" r="0.6" fill="#2cc88a"/>
<circle cx="621.04" cy="366.28" r="0.6" fill="#2cc88a"/>
<circle cx="643.87" cy="346.46" r="0.6" fill="#2cc88a"/>
<circle cx="624.98" cy="370.36" r="0.6" fill="#2cc88a"/>
<circle cx="633.35" cy="357.34" r="0.6" fill="#2cc88a"/>
<circle cx="644.11" cy="354.89" r="0.6" fill="#2cc88a"/>
<circle cx="628.35" cy="355.62" r="0.6" fill="#2cc88a"/>
<circle cx="629.22" cy="360.11" r="0.6" fill="#2cc88a"/>
<circle cx="611.55" cy="366.67" r="0.6" fill="#2cc88a"/>
<circle cx="625.18" cy="358.02" r="0.6" fill="#2cc88a"/>
<circle cx="621.6" cy="368.73" r="0.6" fill="#2cc88a"/>
<circle cx="622.13" cy="362.27" r="0.6" fill="#2cc88a"/>
<circle cx="627.45" cy="360.83" r="0.6" fill="#2cc88a"/>
<circle cx="635.67" cy="356.62" r="0.6" fill="#2cc88a"/>
<circle cx="644.9" cy="356.36" r="0.6" fill="#2cc88a"/>
<circle cx="633.84" cy="353.55" r="0.6" fill="#2cc88a"/>
<circle cx="607.78" cy="381.97" r="0.6" fill="#2cc88a"/>
<circle cx="635.94" cy="357.85" r="0.6" fill="#2cc88a"/>
<circle cx="618.09" cy="365.3" r="0.6" fill="#2cc88a"/>
<circle cx="631.77" cy="359.92" r="0.6" fill="#2cc88a"/>
<circle cx="627.85" cy="363.75" r="0.6" fill="#2cc88a"/>
<circle cx="634.64" cy="352.25" r="0.6" fill="#2cc88a"/>
<circle cx="613.46" cy="379.23" r="0.6" fill="#2cc88a"/>
<circle cx="641.46" cy="357.71" r="0.6" fill="#2cc88a"/>
<circle cx="604.66" cy="371.73" r="0.6" fill="#2cc88a"/>
<circle cx="614.38" cy="370.25" r="0.6" fill="#2cc88a"/>
<circle cx="629.18" cy="354.84" r="0.6" fill="#2cc88a"/>
<circle cx="625.75" cy="356.84" r="0.6" fill="#2cc88a"/>
<circle cx="606.63" cy="379.55" r="0.6" fill="#2cc88a"/>
<circle cx="626.13" cy="364.95" r="0.6" fill="#2cc88a"/>
<circle cx="618.67" cy="367.98" r="0.6" fill="#2cc88a"/>
<circle cx="611.85" cy="370.84" r="0.6" fill="#2cc88a"/>
<circle cx="634.28" cy="362.23" r="0.6" fill="#2cc88a"/>
<circle cx="606.12" cy="371.57" r="0.6" fill="#2cc88a"/>
<circle cx="636.99" cy="357.08" r="0.6" fill="#2cc88a"/>
<circle cx="635.29" cy="352.13" r="0.6" fill="#2cc88a"/>
<circle cx="620.82" cy="363.14" r="0.6" fill="#2cc88a"/>
<circle cx="637.01" cy="353.24" r="0.6" fill="#2cc88a"/>
<circle cx="630.45" cy="367.23" r="0.6" fill="#2cc88a"/>
<circle cx="616.67" cy="370.47" r="0.6" fill="#2cc88a"/>
<circle cx="634.34" cy="363.43" r="0.6" fill="#2cc88a"/>
<circle cx="620.96" cy="364.71" r="0.6" fill="#2cc88a"/>
<circle cx="607.07" cy="382.22" r="0.6" fill="#2cc88a"/>
<circle cx="606.3" cy="370.89" r="0.6" fill="#2cc88a"/>
<circle cx="626.7" cy="362.35" r="0.6" fill="#2cc88a"/>
<circle cx="631.78" cy="355.92" r="0.6" fill="#2cc88a"/>
<circle cx="635.57" cy="349.88" r="0.6" fill="#2cc88a"/>
<circle cx="611.96" cy="375.53" r="0.6" fill="#2cc88a"/>
<circle cx="606.43" cy="374.11" r="0.6" fill="#2cc88a"/>
<circle cx="633.45" cy="360.66" r="0.6" fill="#2cc88a"/>
<circle cx="614.88" cy="365.66" r="0.6" fill="#2cc88a"/>
<circle cx="618.03" cy="372.16" r="0.6" fill="#2cc88a"/>
<circle cx="618.39" cy="362.77" r="0.6" fill="#2cc88a"/>
<circle cx="632.79" cy="359.26" r="0.6" fill="#2cc88a"/>
<circle cx="641.58" cy="358.54" r="0.6" fill="#2cc88a"/>
<circle cx="641.36" cy="351.17" r="0.6" fill="#2cc88a"/>
<circle cx="636.73" cy="352.48" r="0.6" fill="#2cc88a"/>
<circle cx="616.34" cy="368.47" r="0.6" fill="#2cc88a"/>
<circle cx="642.26" cy="357.38" r="0.6" fill="#2cc88a"/>
<circle cx="613.43" cy="369.98" r="0.6" fill="#2cc88a"/>
<circle cx="618.35" cy="366.48" r="0.6" fill="#2cc88a"/>
<circle cx="619.62" cy="365.95" r="0.6" fill="#2cc88a"/>
<circle cx="611.19" cy="374.61" r="0.6" fill="#2cc88a"/>
<circle cx="636.48" cy="356.2" r="0.6" fill="#2cc88a"/>
<circle cx="638.13" cy="355.35" r="0.6" fill="#2cc88a"/>
<circle cx="610.42" cy="378.09" r="0.6" fill="#2cc88a"/>
<circle cx="640" cy="349.79" r="0.6" fill="#2cc88a"/>
<circle cx="603.93" cy="379.07" r="0.6" fill="#2cc88a"/>
<circle cx="625.85" cy="364.19" r="0.6" fill="#2cc88a"/>
<circle cx="643.59" cy="352.78" r="0.6" fill="#2cc88a"/>
<circle cx="636.78" cy="348.83" r="0.6" fill="#2cc88a"/>
<circle cx="625.97" cy="367.42" r="0.6" fill="#2cc88a"/>
<circle cx="606.53" cy="370.7" r="0.6" fill="#2cc88a"/>
<circle cx="633.96" cy="363.37" r="0.6" fill="#2cc88a"/>
<circle cx="606.56" cy="378.97" r="0.6" fill="#2cc88a"/>
<circle cx="609.04" cy="378.87" r="0.6" fill="#2cc88a"/>
<circle cx="630.26" cy="356.21" r="0.6" fill="#2cc88a"/>
<circle cx="612.26" cy="376.87" r="0.6" fill="#2cc88a"/>
<circle cx="624.91" cy="367.82" r="0.6" fill="#2cc88a"/>
<circle cx="619.56" cy="365.24" r="0.6" fill="#2cc88a"/>
<circle cx="643.67" cy="353.04" r="0.6" fill="#2cc88a"/>
<circle cx="623.73" cy="365.25" r="0.6" fill="#2cc88a"/>
<circle cx="633.28" cy="360.99" r="0.6" fill="#2cc88a"/>
<circle cx="641.43" cy="350.71" r="0.6" fill="#2cc88a"/>
<circle cx="637.7" cy="357.21" r="0.6" fill="#2cc88a"/>
<circle cx="638.85" cy="358.48" r="0.6" fill="#2cc88a"/>
<circle cx="625.85" cy="364.78" r="0.6" fill="#2cc88a"/>
<circle cx="628.94" cy="362.04" r="0.6" fill="#2cc88a"/>
<circle cx="618.1" cy="362.81" r="0.6" fill="#2cc88a"/>
<circle cx="625.06" cy="359.64" r="0.6" fill="#2cc88a"/>
<circle cx="615.51" cy="356.61" r="0.6" fill="#2cc88a"/>
<circle cx="623.53" cy="365.9" r="0.6" fill="#2cc88a"/>
<circle cx="614.39" cy="356.84" r="0.6" fill="#2cc88a"/>
<circle cx="610.11" cy="359.67" r="0.6" fill="#2cc88a"/>
<circle cx="612.3" cy="365.67" r="0.6" fill="#2cc88a"/>
<circle cx="606.48" cy="358.39" r="0.6" fill="#2cc88a"/>
<circle cx="607.87" cy="362.13" r="0.6" fill="#2cc88a"/>
<circle cx="624.4" cy="356.97" r="0.6" fill="#2cc88a"/>
<circle cx="606.56" cy="360.05" r="0.6" fill="#2cc88a"/>
<circle cx="619.6" cy="365" r="0.6" fill="#2cc88a"/>
<circle cx="605.91" cy="356.2" r="0.6" fill="#2cc88a"/>
<circle cx="609.61" cy="357.39" r="0.6" fill="#2cc88a"/>
<circle cx="610.89" cy="362.89" r="0.6" fill="#2cc88a"/>
<circle cx="619.87" cy="357.46" r="0.6" fill="#2cc88a"/>
<circle cx="609.62" cy="358.09" r="0.6" fill="#2cc88a"/>
<circle cx="609.31" cy="363.33" r="0.6" fill="#2cc88a"/>
<circle cx="612.79" cy="361.03" r="0.6" fill="#2cc88a"/>
<circle cx="625.43" cy="360.27" r="0.6" fill="#2cc88a"/>
<circle cx="611.51" cy="364.76" r="0.6" fill="#2cc88a"/>
<circle cx="627.86" cy="358.76" r="0.6" fill="#2cc88a"/>
<circle cx="618.68" cy="365.53" r="0.6" fill="#2cc88a"/>
<circle cx="617.07" cy="357.43" r="0.6" fill="#2cc88a"/>
<circle cx="606.24" cy="365.42" r="0.6" fill="#2cc88a"/>
<circle cx="625.04" cy="359.23" r="0.6" fill="#2cc88a"/>
<circle cx="618.19" cy="360.67" r="0.6" fill="#2cc88a"/>
<circle cx="611.86" cy="365.89" r="0.6" fill="#2cc88a"/>
<circle cx="621.44" cy="357.61" r="0.6" fill="#2cc88a"/>
<circle cx="605.27" cy="360.2" r="0.6" fill="#2cc88a"/>
<circle cx="614.29" cy="363.76" r="0.6" fill="#2cc88a"/>
<circle cx="622.83" cy="361.67" r="0.6" fill="#2cc88a"/>
<circle cx="608.93" cy="356.73" r="0.6" fill="#2cc88a"/>
<circle cx="613.05" cy="357.85" r="0.6" fill="#2cc88a"/>
<circle cx="626.73" cy="360.68" r="0.6" fill="#2cc88a"/>
<circle cx="620.92" cy="365.92" r="0.6" fill="#2cc88a"/>
<circle cx="611.66" cy="360.88" r="0.6" fill="#2cc88a"/>
<circle cx="608.77" cy="363.47" r="0.6" fill="#2cc88a"/>
<circle cx="605.03" cy="364.04" r="0.6" fill="#2cc88a"/>
<circle cx="626.15" cy="364.04" r="0.6" fill="#2cc88a"/>
<circle cx="607.06" cy="357.97" r="0.6" fill="#2cc88a"/>
<circle cx="622.91" cy="356.07" r="0.6" fill="#2cc88a"/>
<circle cx="617" cy="360.16" r="0.6" fill="#2cc88a"/>
<circle cx="628.89" cy="361.45" r="0.6" fill="#2cc88a"/>
<circle cx="626.43" cy="358.34" r="0.6" fill="#2cc88a"/>
<circle cx="624.73" cy="359.59" r="0.6" fill="#2cc88a"/>
<circle cx="627.92" cy="356" r="0.6" fill="#2cc88a"/>
<circle cx="625.66" cy="357.29" r="0.6" fill="#2cc88a"/>
<circle cx="618.58" cy="360.78" r="0.6" fill="#2cc88a"/>
<circle cx="608.94" cy="364.15" r="0.6" fill="#2cc88a"/>
<circle cx="612.79" cy="358.42" r="0.6" fill="#2cc88a"/>
<circle cx="606.9" cy="358.36" r="0.6" fill="#2cc88a"/>
<circle cx="616.68" cy="362.87" r="0.6" fill="#2cc88a"/>
<circle cx="613.99" cy="362.56" r="0.6" fill="#2cc88a"/>
<circle cx="607.64" cy="359.34" r="0.6" fill="#2cc88a"/>
<circle cx="616.54" cy="365.64" r="0.6" fill="#2cc88a"/>
<circle cx="625.74" cy="362.19" r="0.6" fill="#2cc88a"/>
<circle cx="605.31" cy="359.15" r="0.6" fill="#2cc88a"/>
<line x1="561.75" y1="418.6" x2="673.5" y2="330.3" stroke="#111" stroke-width="0.7"/>
<line x1="560.7" y1="330.3" x2="560.7" y2="419" stroke="#444444" stroke-width="0.8"/>
<line x1="560.7" y1="419" x2="673.5" y2="419" stroke="#444444" stroke-width="0.8"/>
<line x1="559.2" y1="415.25" x2="560.7" y2="415.25" stroke="#333333" stroke-width="0.6"/>
<text x="558.5" y="417.45" font-size="5.8" text-anchor="end" font-weight="normal" fill="#333333" stroke="#333333" stroke-width="0.18">0</text>
<line x1="559.2" y1="393.25" x2="560.7" y2="393.25" stroke="#333333" stroke-width="0.6"/>
<text x="558.5" y="395.45" font-size="5.8" text-anchor="end" font-weight="normal" fill="#333333" stroke="#333333" stroke-width="0.18">2</text>
<line x1="559.2" y1="371.25" x2="560.7" y2="371.25" stroke="#333333" stroke-width="0.6"/>
<text x="558.5" y="373.45" font-size="5.8" text-anchor="end" font-weight="normal" fill="#333333" stroke="#333333" stroke-width="0.18">4</text>
<line x1="559.2" y1="349.25" x2="560.7" y2="349.25" stroke="#333333" stroke-width="0.6"/>
<text x="558.5" y="351.45" font-size="5.8" text-anchor="end" font-weight="normal" fill="#333333" stroke="#333333" stroke-width="0.18">6</text>
<line x1="565.5" y1="419" x2="565.5" y2="420.5" stroke="#333333" stroke-width="0.6"/>
<text x="565.5" y="426.1" font-size="5.8" text-anchor="middle" font-weight="normal" fill="#333333" stroke="#333333" stroke-width="0.18">0</text>
<line x1="593.7" y1="419" x2="593.7" y2="420.5" stroke="#333333" stroke-width="0.6"/>
<text x="593.7" y="426.1" font-size="5.8" text-anchor="middle" font-weight="normal" fill="#333333" stroke="#333333" stroke-width="0.18">2</text>
<line x1="621.9" y1="419" x2="621.9" y2="420.5" stroke="#333333" stroke-width="0.6"/>
<text x="621.9" y="426.1" font-size="5.8" text-anchor="middle" font-weight="normal" fill="#333333" stroke="#333333" stroke-width="0.18">4</text>
<line x1="650.1" y1="419" x2="650.1" y2="420.5" stroke="#333333" stroke-width="0.6"/>
<text x="650.1" y="426.1" font-size="5.8" text-anchor="middle" font-weight="normal" fill="#333333" stroke="#333333" stroke-width="0.18">6</text>
<text x="617.3" y="217" font-size="8.1" text-anchor="middle" font-weight="bold">SPA<tspan font-size="5.6" dy="1.6">GRM</tspan><tspan dy="-1.6"> &amp; SPA</tspan><tspan font-size="5.6" dy="1.6">GRM(CCT)</tspan></text>
<text x="546.3" y="320.3" font-size="8.1" text-anchor="middle" font-weight="normal" fill="#000" transform="rotate(-90 546.3 320.3)">−log<tspan font-size="5.8" dy="1.6">10</tspan><tspan dy="-1.6" font-style="italic">P</tspan></text>
<text x="618" y="433.5" font-size="8.2" text-anchor="middle" font-weight="normal" fill="#000">TrajGWAS −log<tspan font-size="5.8" dy="1.6">10</tspan><tspan dy="-1.6" font-style="italic">P</tspan></text>
<text x="679" y="266.4" font-size="8" text-anchor="middle" font-weight="normal" fill="#000" transform="rotate(90 679 266.4)">Testing for β<tspan font-size="5.4" dy="2.0">0</tspan><tspan dy="-2.0"> = 0</tspan></text>
<text x="679" y="374.7" font-size="8" text-anchor="middle" font-weight="normal" fill="#000" transform="rotate(90 679 374.7)">Testing for τ<tspan font-size="5.4" dy="2.0">0</tspan><tspan dy="-2.0"> = 0</tspan></text>
<circle cx="573.8" cy="448.5" r="2.1" fill="#f8766d"/>
<text x="579.5" y="451.3" font-size="7.7" fill="#1a1a1a">SPA<tspan font-size="5.4" dy="1.6">GRM</tspan></text>
<polygon points="611.6,450.5 616.2,450.5 613.9,446.2" fill="#2cc88a"/>
<text x="619.3" y="451.3" font-size="7.7" fill="#1a1a1a">SPA<tspan font-size="5.4" dy="1.6">GRM(CCT)</tspan></text>
</svg></body></html>
